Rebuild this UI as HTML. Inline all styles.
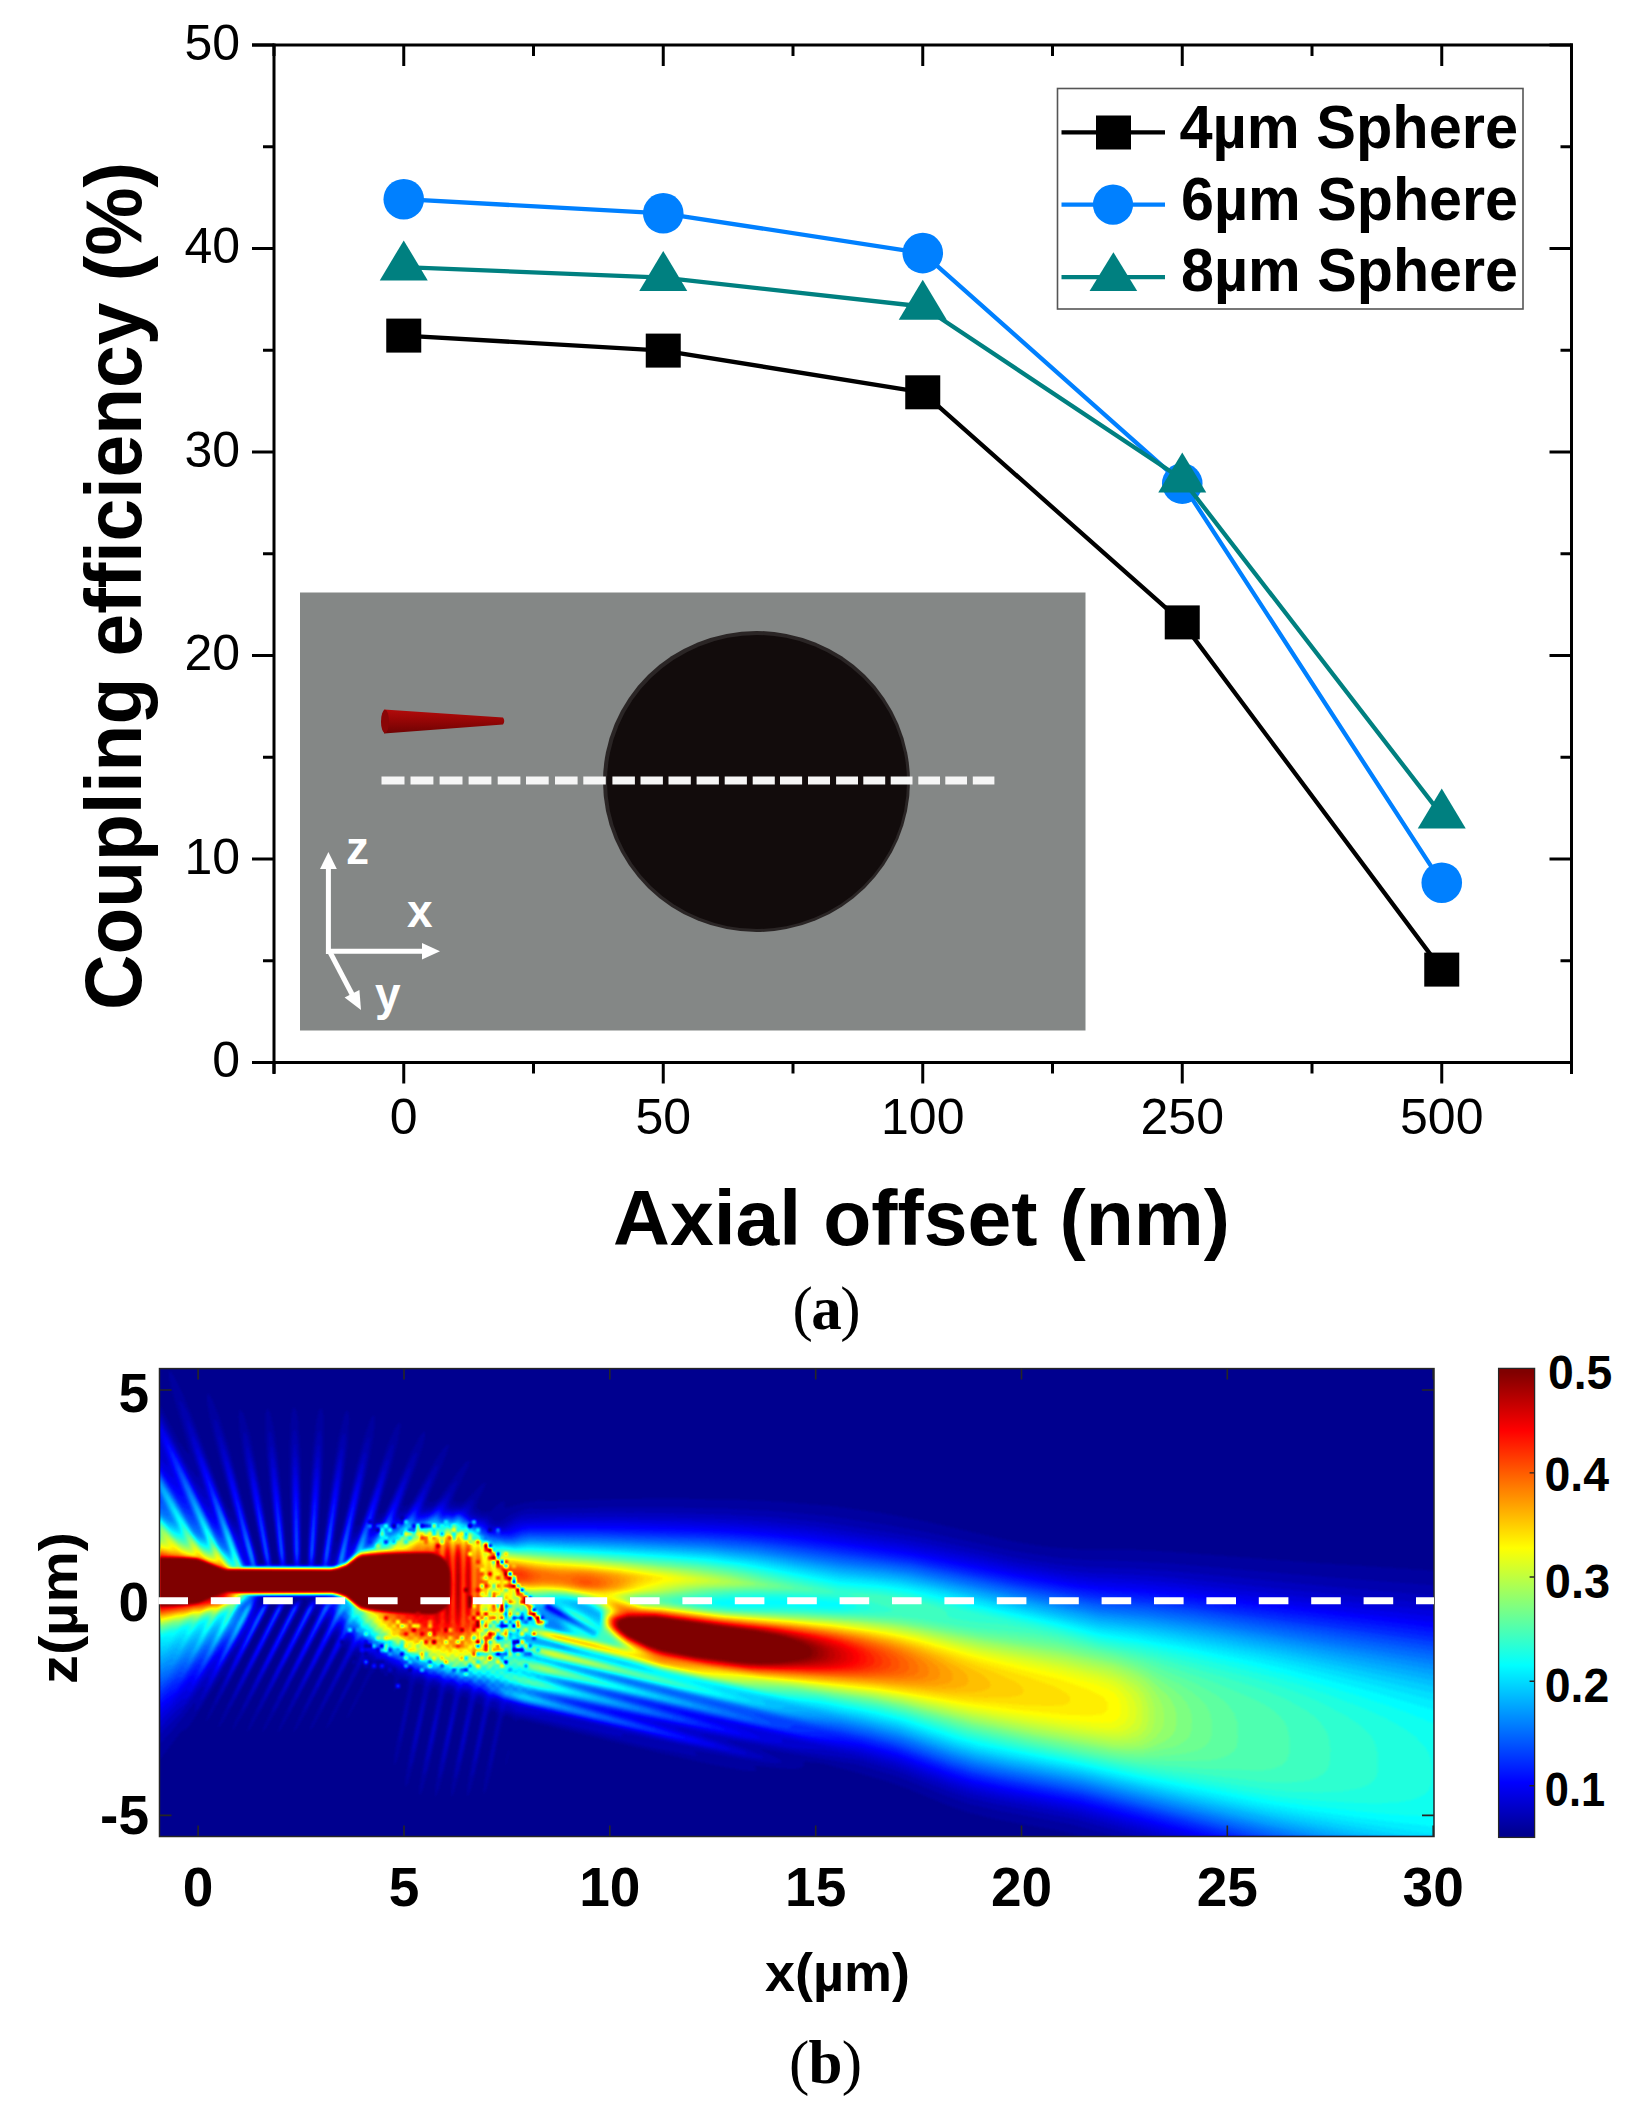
<!DOCTYPE html><html><head><meta charset="utf-8"><title>Coupling efficiency figure</title><style>html,body{margin:0;padding:0;background:#fff;overflow:hidden}svg{display:block}</style></head><body><svg width="1635" height="2113" viewBox="0 0 1635 2113"><rect width="1635" height="2113" fill="#fff"/><g id="inset">
<rect x="300" y="592.5" width="785.5" height="438" fill="#848786"/>
<ellipse cx="756.5" cy="781.5" rx="153.5" ry="150.5" fill="#2a2525"/>
<ellipse cx="757" cy="782" rx="150" ry="147" fill="#120c0c"/>
<defs><linearGradient id="cone" x1="0" y1="0" x2="0" y2="1"><stop offset="0" stop-color="#b30b0b"/><stop offset="0.45" stop-color="#960606"/><stop offset="1" stop-color="#6e0303"/></linearGradient></defs>
<path d="M384,709.5 L503,717.5 Q505.5,721 503,724.5 L384,733.5 Z" fill="url(#cone)"/>
<ellipse cx="385" cy="721.5" rx="4" ry="11.8" fill="#8a0606"/>
<path d="M381.5,776.5h23.0v8h-23.0zM410.5,776.5h22.9v8h-22.9zM439.6,776.5h22.9v8h-22.9zM468.6,776.5h22.8v8h-22.8zM497.7,776.5h22.7v8h-22.7zM526.0,776.5h22.7v8h-22.7zM555.0,776.5h22.6v8h-22.6zM583.3,776.5h22.5v8h-22.5zM612.4,776.5h22.5v8h-22.5zM640.5,776.5h22.4v8h-22.4zM668.5,776.5h22.3v8h-22.3zM696.6,776.5h22.3v8h-22.3zM724.7,776.5h22.2v8h-22.2zM752.7,776.5h22.1v8h-22.1zM780.0,776.5h22.1v8h-22.1zM808.0,776.5h22.0v8h-22.0zM836.1,776.5h21.9v8h-21.9zM863.3,776.5h21.9v8h-21.9zM890.7,776.5h21.8v8h-21.8zM918.3,776.5h21.7v8h-21.7zM945.3,776.5h21.7v8h-21.7zM972.8,776.5h21.6v8h-21.6z" fill="#f6f6f6"/>
<g stroke="#fff" stroke-width="5" fill="none" stroke-linecap="butt"><path d="M328.4,954 V866"/><path d="M326,951.3 H424"/><path d="M329.4,951 L353.5,997"/></g>
<g fill="#fff"><path d="M328.4,852 L320,869 L336.8,869 Z"/><path d="M440,951.3 L422,943 L422,959.6 Z"/><path d="M361,1010 L344.6,997.5 L359.4,990 Z"/></g>
<g font-family="Liberation Sans, Arial, sans-serif" font-weight="bold" font-size="46" fill="#fff"><text x="346" y="864.2">z</text><text x="407" y="927">x</text><text x="375" y="1009.6">y</text></g>
</g>
<g stroke="#000" stroke-width="3" fill="none" stroke-linecap="butt">
<path d="M274,43.5 V1074"/>
<path d="M1571.5,43.5 V1074"/>
<path d="M252,45 H1573.0"/>
<path d="M252,1062.5 H1573.0"/>
<path d="M252,1062.50 H274"/>
<path d="M1549.5,1062.50 H1571.5"/>
<path d="M263,960.75 H274"/>
<path d="M1560.5,960.75 H1571.5"/>
<path d="M252,859.00 H274"/>
<path d="M1549.5,859.00 H1571.5"/>
<path d="M263,757.25 H274"/>
<path d="M1560.5,757.25 H1571.5"/>
<path d="M252,655.50 H274"/>
<path d="M1549.5,655.50 H1571.5"/>
<path d="M263,553.75 H274"/>
<path d="M1560.5,553.75 H1571.5"/>
<path d="M252,452.00 H274"/>
<path d="M1549.5,452.00 H1571.5"/>
<path d="M263,350.25 H274"/>
<path d="M1560.5,350.25 H1571.5"/>
<path d="M252,248.50 H274"/>
<path d="M1549.5,248.50 H1571.5"/>
<path d="M263,146.75 H274"/>
<path d="M1560.5,146.75 H1571.5"/>
<path d="M252,45.00 H274"/>
<path d="M1549.5,45.00 H1571.5"/>
<path d="M274.00,1062.5 V1073.5"/>
<path d="M274.00,45 V56"/>
<path d="M403.75,1062.5 V1083.5"/>
<path d="M403.75,45 V66"/>
<path d="M533.50,1062.5 V1073.5"/>
<path d="M533.50,45 V56"/>
<path d="M663.25,1062.5 V1083.5"/>
<path d="M663.25,45 V66"/>
<path d="M793.00,1062.5 V1073.5"/>
<path d="M793.00,45 V56"/>
<path d="M922.75,1062.5 V1083.5"/>
<path d="M922.75,45 V66"/>
<path d="M1052.50,1062.5 V1073.5"/>
<path d="M1052.50,45 V56"/>
<path d="M1182.25,1062.5 V1083.5"/>
<path d="M1182.25,45 V66"/>
<path d="M1312.00,1062.5 V1073.5"/>
<path d="M1312.00,45 V56"/>
<path d="M1441.75,1062.5 V1083.5"/>
<path d="M1441.75,45 V66"/>
<path d="M1571.50,1062.5 V1073.5"/>
<path d="M1571.50,45 V56"/>
</g>
<g font-family="Liberation Sans, Arial, sans-serif" font-size="50" fill="#000">
<text x="240" y="1077.0" text-anchor="end">0</text>
<text x="240" y="873.5" text-anchor="end">10</text>
<text x="240" y="670.0" text-anchor="end">20</text>
<text x="240" y="466.5" text-anchor="end">30</text>
<text x="240" y="263.0" text-anchor="end">40</text>
<text x="240" y="59.5" text-anchor="end">50</text>
<text x="403.75" y="1133.5" text-anchor="middle">0</text>
<text x="663.25" y="1133.5" text-anchor="middle">50</text>
<text x="922.75" y="1133.5" text-anchor="middle">100</text>
<text x="1182.25" y="1133.5" text-anchor="middle">250</text>
<text x="1441.75" y="1133.5" text-anchor="middle">500</text>
</g>
<text x="0" y="0" transform="translate(140.5,1010) rotate(-90)" font-family="Liberation Sans, Arial, sans-serif" font-weight="bold" font-size="80" textLength="848" lengthAdjust="spacingAndGlyphs">Coupling efficiency (%)</text>
<text x="613" y="1244.5" font-family="Liberation Sans, Arial, sans-serif" font-weight="bold" font-size="77" textLength="617" lengthAdjust="spacingAndGlyphs">Axial offset (nm)</text>
<polyline points="403.75,335.6 663.25,350.6 922.75,392.3 1182.25,622.4 1441.75,969.6" fill="none" stroke="#000" stroke-width="4.3" stroke-linejoin="round"/>
<rect x="386.25" y="318.6" width="35" height="34" fill="#000"/>
<rect x="645.75" y="333.6" width="35" height="34" fill="#000"/>
<rect x="905.25" y="375.3" width="35" height="34" fill="#000"/>
<rect x="1164.75" y="605.4" width="35" height="34" fill="#000"/>
<rect x="1424.25" y="952.6" width="35" height="34" fill="#000"/>
<polyline points="403.75,199.2 663.25,213.3 922.75,253.1 1182.25,483.6 1441.75,882.7" fill="none" stroke="#0080ff" stroke-width="4.3" stroke-linejoin="round"/>
<circle cx="403.75" cy="199.2" r="20.3" fill="#0080ff"/>
<circle cx="663.25" cy="213.3" r="20.3" fill="#0080ff"/>
<circle cx="922.75" cy="253.1" r="20.3" fill="#0080ff"/>
<circle cx="1182.25" cy="483.6" r="20.3" fill="#0080ff"/>
<circle cx="1441.75" cy="882.7" r="20.3" fill="#0080ff"/>
<polyline points="403.75,267.1 663.25,277.6 922.75,306.5 1182.25,479.3 1441.75,815.1" fill="none" stroke="#008080" stroke-width="4.3" stroke-linejoin="round"/>
<path d="M403.75,240.4 L427.75,280.4 L379.75,280.4 Z" fill="#008080"/>
<path d="M663.25,250.9 L687.25,290.9 L639.25,290.9 Z" fill="#008080"/>
<path d="M922.75,279.8 L946.75,319.8 L898.75,319.8 Z" fill="#008080"/>
<path d="M1182.25,452.6 L1206.25,492.6 L1158.25,492.6 Z" fill="#008080"/>
<path d="M1441.75,788.4 L1465.75,828.4 L1417.75,828.4 Z" fill="#008080"/>
<rect x="1057.5" y="88.5" width="465.5" height="220.5" fill="#fff" stroke="#555" stroke-width="1.6"/>
<path d="M1061.5,132.3 H1165" stroke="#000" stroke-width="4.3"/>
<rect x="1096" y="115.5" width="35" height="34" fill="#000"/>
<path d="M1061.5,204.6 H1165" stroke="#0080ff" stroke-width="4.3"/>
<circle cx="1113" cy="204.6" r="20.1" fill="#0080ff"/>
<path d="M1061.5,277.2 H1165" stroke="#008080" stroke-width="4.3"/>
<path d="M1113.4,252.2 L1137.2,291 L1089.6,291 Z" fill="#008080"/>
<g font-family="Liberation Sans, Arial, sans-serif" font-weight="bold" font-size="61.5" fill="#000">
<text x="1179.5" y="147.8" textLength="338.5" lengthAdjust="spacingAndGlyphs">4µm Sphere</text>
<text x="1181" y="219.9" textLength="337" lengthAdjust="spacingAndGlyphs">6µm Sphere</text>
<text x="1181" y="291" textLength="337" lengthAdjust="spacingAndGlyphs">8µm Sphere</text>
</g>
<text x="792.5" y="1328.5" font-family="Liberation Serif, Times New Roman, serif" font-size="61" letter-spacing="-1.5">(<tspan font-weight="bold">a</tspan>)</text><defs>
<clipPath id="hclip"><rect x="159.5" y="1368.6" width="1274.5" height="467.9000000000001"/></clipPath>
<filter id="jet" filterUnits="userSpaceOnUse" x="153.5" y="1362.6" width="1286.5" height="479.9000000000001" color-interpolation-filters="sRGB"><feGaussianBlur stdDeviation="0.9"/><feComponentTransfer><feFuncR type="table" tableValues="0 0 0 0 0 0 0 0 0 0 0 0 0 0 0 0 0 0 0 0 0 0 0 0 0.0625 0.125 0.1875 0.25 0.3125 0.375 0.4375 0.5 0.5625 0.625 0.6875 0.75 0.8125 0.875 0.9375 1 1 1 1 1 1 1 1 1 1 1 1 1 1 1 1 1 0.9375 0.875 0.8125 0.75 0.6875 0.625 0.5625 0.5"/><feFuncG type="table" tableValues="0 0 0 0 0 0 0 0 0.0625 0.125 0.1875 0.25 0.3125 0.375 0.4375 0.5 0.5625 0.625 0.6875 0.75 0.8125 0.875 0.9375 1 1 1 1 1 1 1 1 1 1 1 1 1 1 1 1 1 0.9375 0.875 0.8125 0.75 0.6875 0.625 0.5625 0.5 0.4375 0.375 0.3125 0.25 0.1875 0.125 0.0625 0 0 0 0 0 0 0 0 0"/><feFuncB type="table" tableValues="0.5625 0.625 0.6875 0.75 0.8125 0.875 0.9375 1 1 1 1 1 1 1 1 1 1 1 1 1 1 1 1 1 0.9375 0.875 0.8125 0.75 0.6875 0.625 0.5625 0.5 0.4375 0.375 0.3125 0.25 0.1875 0.125 0.0625 0 0 0 0 0 0 0 0 0 0 0 0 0 0 0 0 0 0 0 0 0 0 0 0 0"/><feFuncA type="linear" slope="0" intercept="1"/></feComponentTransfer></filter>
<linearGradient id="cbar" x1="0" y1="1" x2="0" y2="0"><stop offset="0.0078" stop-color="#00008f"/><stop offset="0.0234" stop-color="#00009f"/><stop offset="0.0391" stop-color="#0000af"/><stop offset="0.0547" stop-color="#0000bf"/><stop offset="0.0703" stop-color="#0000cf"/><stop offset="0.0859" stop-color="#0000df"/><stop offset="0.1016" stop-color="#0000ef"/><stop offset="0.1172" stop-color="#0000ff"/><stop offset="0.1328" stop-color="#0010ff"/><stop offset="0.1484" stop-color="#0020ff"/><stop offset="0.1641" stop-color="#0030ff"/><stop offset="0.1797" stop-color="#0040ff"/><stop offset="0.1953" stop-color="#0050ff"/><stop offset="0.2109" stop-color="#0060ff"/><stop offset="0.2266" stop-color="#0070ff"/><stop offset="0.2422" stop-color="#0080ff"/><stop offset="0.2578" stop-color="#008fff"/><stop offset="0.2734" stop-color="#009fff"/><stop offset="0.2891" stop-color="#00afff"/><stop offset="0.3047" stop-color="#00bfff"/><stop offset="0.3203" stop-color="#00cfff"/><stop offset="0.3359" stop-color="#00dfff"/><stop offset="0.3516" stop-color="#00efff"/><stop offset="0.3672" stop-color="#00ffff"/><stop offset="0.3828" stop-color="#10ffef"/><stop offset="0.3984" stop-color="#20ffdf"/><stop offset="0.4141" stop-color="#30ffcf"/><stop offset="0.4297" stop-color="#40ffbf"/><stop offset="0.4453" stop-color="#50ffaf"/><stop offset="0.4609" stop-color="#60ff9f"/><stop offset="0.4766" stop-color="#70ff8f"/><stop offset="0.4922" stop-color="#80ff80"/><stop offset="0.5078" stop-color="#8fff70"/><stop offset="0.5234" stop-color="#9fff60"/><stop offset="0.5391" stop-color="#afff50"/><stop offset="0.5547" stop-color="#bfff40"/><stop offset="0.5703" stop-color="#cfff30"/><stop offset="0.5859" stop-color="#dfff20"/><stop offset="0.6016" stop-color="#efff10"/><stop offset="0.6172" stop-color="#ffff00"/><stop offset="0.6328" stop-color="#ffef00"/><stop offset="0.6484" stop-color="#ffdf00"/><stop offset="0.6641" stop-color="#ffcf00"/><stop offset="0.6797" stop-color="#ffbf00"/><stop offset="0.6953" stop-color="#ffaf00"/><stop offset="0.7109" stop-color="#ff9f00"/><stop offset="0.7266" stop-color="#ff8f00"/><stop offset="0.7422" stop-color="#ff8000"/><stop offset="0.7578" stop-color="#ff7000"/><stop offset="0.7734" stop-color="#ff6000"/><stop offset="0.7891" stop-color="#ff5000"/><stop offset="0.8047" stop-color="#ff4000"/><stop offset="0.8203" stop-color="#ff3000"/><stop offset="0.8359" stop-color="#ff2000"/><stop offset="0.8516" stop-color="#ff1000"/><stop offset="0.8672" stop-color="#ff0000"/><stop offset="0.8828" stop-color="#ef0000"/><stop offset="0.8984" stop-color="#df0000"/><stop offset="0.9141" stop-color="#cf0000"/><stop offset="0.9297" stop-color="#bf0000"/><stop offset="0.9453" stop-color="#af0000"/><stop offset="0.9609" stop-color="#9f0000"/><stop offset="0.9766" stop-color="#8f0000"/><stop offset="0.9922" stop-color="#800000"/></linearGradient>
</defs>
<g clip-path="url(#hclip)"><g filter="url(#jet)">
<rect x="153.5" y="1362.6" width="1286.5" height="479.9000000000001" fill="#000"/>
<path fill="rgb(4,4,4)" d="M1434.5 1836.8l-350.8-0.2-26.7-6-61.5-11.4-25-5.9-21-7.1-42.9-17.6-16.3-6-35.8-10.7-32.1-8.3-16.9-1.9-2.1 0.9 0 3-1.4 2-5.5 1.4-10-0.1-29-2.9-3.2 0.6 2.3 3 0.1 1-1.2 0.5-5 0.2-11-1.4-27-5.1-44-9.7-147-35.4-7 0.8-3-3.3-5-1.8-2 0.9-1.5 3.3-12.3 55-5.2 17-1 1.9-1-0.1 0.4-8.8 2.4-16 10.4-52-0.5-4-3.7-2.5-2 0.9-1.9 4.6-12.8 57-5.3 18.2-3 6.3-0.7-2.5 0.1-4 2.2-17 12.5-63-0.1-4-0.7-2-3.3-1.9-1 0.5-2.2 5.4-8.4 39-7.1 29-4.3 14.4-3 6.3-0.7-1.7 0-4 2.3-18 14.1-71-0.4-4-3.3-2.3-2 0.8-2 5.5-14.6 66-5.4 19.4-4 9.2-0.7-2.6 0.3-6 3-21 14.2-70-0.8-3.7-3-1.9-2 0.7-2 4.7-8.5 41.2-7.1 30-6.4 21.8-2 4.3-1 0.3 0-8.4 3.6-24 14.1-68-0.1-4-1.6-2.5-3-0.5-3 4.7-14.6 67.3-6.4 22.3-2 4.5-1 0.5 0-9.3 3.4-23 13.2-63 0.2-6-1.5-2-3.3-0.7-1 0.6-2.3 4.1-12.2 56-4.5 16.1-3 6.6-0.5-6.7 2.2-16 11.4-56 0.3-6-1.4-2.4-4-1.5-2.9 1.9-2.7 5-2.4 7.5-0.8-0.5 0.9-12-1.1-4.2-4-2.3-5 1.5-1-0.3-2-3.8-3-2-2 0.2-5.5 6.9-15.5 29.4-8 13.4-0.6-0.8 2.6-6.9 19.3-41.1 0.6-5-0.9-1-3-1-2 1.7-4 6.3-27 49.6-5 7.7-1 1.2-0.4-0.5 1.4-5 5-11.8 23-48.3 1.4-5.9-1.9-2-1.5 0.2-4 5.7-28.8 53.1-8.2 13.5-3.3 3.5 1.3-5.2 6.7-15.8 26.3-55 1.7-6-1.7-2.3-2 1.5-3 4.6-31.4 58.2-9.6 16-4 5 1-5.1 7.6-17.9 30.4-63.5 1.7-5.5-0.7-2-1-0.3-1 0.7-2 2.6-38.5 71-10.5 17.2-2 2.5-0.6-0.7 2.6-8 8.3-19 33.7-69.8 1.4-5.2-1.4-2.1-5 7-40.8 76.1-10.2 17.1-4.1 4.9 0.1-2 2-5.8 8.4-19.2 39.6-81.7 2.1-6.3-0.1-1.6-1-0.9-2 1.9-5 8.6-44.7 84-11.3 18.8-3 3.7-0.5-0.5 3.3-10 10.8-24 45.4-93.1 0.4-2.9-0.6-3-0.8-0.1-2.1 0.1-0.5 4-2.9 6-33 63-21.9 40-11.6 18.4-1.3 0.6 3.1-10 20.8-45 33.9-68 3.9-6 3.3-3-11.4 0 1.1 2-0.9 4-12 24-36 68-12.5 21.6-6 8.8-1 0.7 0-2.1 5.4-14 25-53 25.1-50 4.6-7 4.1-3-12.6 0 1.2 2-0.4 3-6.9 15-38.9 73-16.6 27.7-2 2-0.3-1.7 1.2-4 15.1-35.7 1.1-3.3-0.1-1.7-9 12-24 37.5-4 4.5-4 2.1-3 2.9-20 26.6-0.5-201.9 0.5-154.9 19 36.8 9 12.5 1 0.7 0.3-1.1-2.3-10.6-15.2-53.4-2.3-11-0.2-6 0.7-0.8 1 0.4 3 3.9 9 17.8 12.5 30.7 26.5 71.2 5 10.8 5 6.5 0-4.9-2-9.8-11.5-42.8-7.9-34-3.1-19-0.2-5 0.7-3.3 2 1.1 3 5.3 7.4 18.9 9 29 10 37 11.6 46.4 7.6 24.6 1.4 8 3.3 0 0.2-1-12.9-66-7-40-3.9-30-0.5-10 0.5-6 1.3-1.5 3 4.5 6.4 21 11.2 55 11.6 73 0.8 1.1 4 0 0.5-1.1-9-77-3.6-47-0.1-22 0.9-6 1.3-2.1 1 0.6 2 4.5 4.3 20 4.2 32 5 53 3.2 44 0.3 1.2 4 0 1-0.2-2.6-61-0.5-56 1.7-30 1.4-7.1 1-2.2 1-0.3 2 4.2 1.8 10.4 2.4 33 1.1 50-0.3 59.1 5.1-0.1 2.4-60 3.1-48 4.1-34 2.3-10.2 2-3.8 1 0.3 1 2.3 1 6.6 0.4 29.8-1.9 39-5.5 78.1 3-0.1 1-4.2 10.5-76.8 7.2-43 5.3-22.1 2-5.1 2-2.1 1.2 2.3 0.6 6-1.1 23-4.2 35-8.5 57.1-0.5 6.9 0.5 2.8 3-3.5 3-9.3 13.4-59 8.4-32 6.2-18.2 2-4.1 2-2.1 1.2 1.4 0.3 5-1.9 18-5.2 28-11.4 51.2-0.6 5.8 0.6 1.5 3-1.8 3-5.4 24.7-73.3 7.3-16.9 3-5 2-1.5 0.8 1.4 0.1 4-2.4 14-6.1 24-12.4 41.7-1 5.3 1 1.8 4-1.9 3-4.4 25.5-57.5 7.5-13.7 3-4.1 2-1.1 0.7 1.9-0.2 3-2.3 10-5.8 18-12.4 33.3-1.7 6.7 0.7 2 5-1.5 4-4.6 24-42.4 7-10.3 4-3.7 1 0.4 0.1 2.1-2.1 8-17 40.5-1.1 3.5 0 3 1.1 0.5 4-0.3 5-3.6 22-29.9 5-5.8 3-2.2 1 0.3 0.1 1-1.3 5-12.8 27.1-1.5 3.9-0.2 3 0.7 1 5 1.4 4-1.3 6.2-5.1 11.8-12.2 4-2.3-0.2 3.5-7 14-1.8 6 1 3.1 7 3.4 6-1.1 9-8 4-2 1 0.5 0.3 1.1 0.2 5 1.5 0.4 16-4.9 16-2.5 12 0.4 62-1.9 61-0.5 59 0.8 48 2 52 4.5 50 7.2 42 8 84.8 19.5 22.7 4 21.5 2.8 27 1.9 50 0.3 36 1.6 145.9 11.4 122.1 7.8zM505.5 1767.2l0-4.6 4-16.9-1 9.7z"/>
<path fill="rgb(8,8,8)" d="M1434.5 1836.8l-319-0.2-43.9-12-72.1-13.6-29-6.6-22-7.3-51.6-20.5-40.4-12-93-15.3-3 0.3 17.8 9 2.9 2 0.7 1-0.2 1-6.2 0.9-13-1.2-64-10.7-4.8 0 3.8 4-6 0-41.2-8-128.8-30.4-5-0.3-10-4.2-3 1.6-2.3 4.3-7.7 38-3 10.7-1 2.7-1 0.8 2-16.8 8.1-37.4-0.3-4-1.8-4-4-1.9-2 1-2.4 4.9-9.6 43.9-4 14.7-3 7.4-0.6-4 1.6-12.7 10.4-52.3-0.2-9-2.8-3-1.4-0.3-3 3.5-1 2.5-11.9 53.3-4.1 15-3 7.5-0.7-1.5 0-3 2.3-17 11.5-56-0.1-5.8-1.1-2.2-1.9-1-2 0.3-2 1.6-2.2 4.1-11.7 54-5.1 19-3 7.5-0.7-1.5 0.1-4 2.4-17 12.4-59-0.5-7-0.7-1.4-1-0.3-5 1-1.4 1.7-1.5 4-11.8 56-5.3 19.6-3 6.5 0-8.1 2.8-18 12.5-58-0.3-7-1-1.4-6-0.5-1.1 0.9-2 5-10.7 52-5.2 19.8-3 6.8 0-8.5 2.9-18.1 11.6-53-0.1-6-1.4-2.5-4-1.6-2 0-1.3 1.1-2.9 5-6.8 36.1-3 12.5-3 9.1-0.6-1.7 0.3-4 2.3-14.3 8.7-36.7-0.6-8-2.1-2.5-4-1.8-5 0.7-6-5.2-5-0.8-7-4.6-2-0.1-5 2.6-1-1.3-0.1-3-0.9-1.9-3-2.3-2 0.1-3 3.2-3.2 4.9-14.8 27.3-6 9.7-0.3-1 1.3-4 17.9-39 1-5-0.6-2-1.3-1.2-2 0-4 4.8-24 43.7-6 9.7-2 2.1 1-4.3 4-9.6 22-47 1-6-1.2-1.2-1.8-0.2-5 6.6-25 46.1-11 17.3 0-2.6 4.9-12.2 27.1-57.6 1.1-5.4-2.1-1.7-2 1.4-3 4.7-29.6 54.6-8.4 14.2-4 5.1 1-4.7 6.6-15.6 30.4-63.9 0.9-4.1-0.9-3.5-3 2.5-3 4.9-31.7 59.1-10.3 17.8-5.1 7.2 0.1-3.1 7.6-17.9 35.4-73.7 2.3-6.3-0.3-2-1-1-1-0.1-1 1-3 4.8-38.6 72.3-11.4 19.6-5 6.6 0-1.5 3-8.2 11.6-25.5 34.8-71 6.3-10-0.7-0.1-40 0.1-9 0.6-0.7 2.4 0.7 0.4 5-1.7 1.8 0.3 0.8 1 0 3-1.9 5-34.2 65-17.5 29.8-2.2 2.2 1.2-5.6 17-40.1 1.2-3.3-0.2-1.5-9 11.4-18.7 31.1-8.3 12.3-2 2-1 0.1 1-8.4-1-0.9-22 27.7-13 14.7-0.5-186.5 0.5-149.3 25 50.1 6 9.4 6 7.4 2 1.4 0-4-9.4-31-7.6-28.3-2-9.7 0-4.4 1-0.1 2 2.4 6 11.4 7.2 16.7 29.8 78 4 7.6 6 6.7 0-3.5-2-9.2-12.5-49.6-5.5-25.6-1.7-12.4 0.7-4.4 2 1.8 6 13.9 8.3 25.7 25.2 93 2.4 11 1.1 0.6 4 0 0.6-0.6-10.1-51-7-40-3.5-27.4 0-13 1-1 1 1 2 4.3 7.5 28.1 9 47 8.2 52 1.3 0.7 4 0.1 1.4-0.8-6.8-57-4-49-0.2-19 0.6-6.1 1-2.1 2 2.6 3.8 16.6 3.7 27 4.9 50 2.6 37 1 0.8 5 0 0.7-0.8-2.2-51-0.4-47 1.3-26 1.2-8 1.4-2.7 1 0.9 1 3.1 1 5.4 2.3 27.3 1.2 48-0.3 50 0.8 0.9 5 0 0.7-0.9 1.8-46 3.2-47 3.3-28 2-9.5 2-3.6 1.2 2.1 1 7 0.1 27-1.8 37-4.5 61.8 5 0.1 0.4-0.9 8.2-61 5.9-37 5.5-25.4 2-5.8 2-2.3 1 2.7 0.3 4.8-1 18-3.8 33-7.5 51.9-0.8 10.1 0.8 1.9 3-4.3 3-8.6 18.6-77 6.4-20.4 4-7.5 1 0.7 0.3 3.2-1.3 14-4.5 25-9.5 44.4-1 7.6 1 1.8 4-3.3 3-5.7 21-60.8 6-14.2 4-6.1 1 0.8 0.1 2.5-1.9 12-14.2 52-1.2 6 0.2 3.4 5-1.9 4-5.5 22-47.7 6-10.3 2-2.2 1 0 0 4.1-1.9 8.1-13.1 38.3-1.3 5.7 0.3 2.6 2 0.1 4-1.4 4-4.1 20-33 4-5.7 3-2.9 0.9 0.4 0.1 1-1 4.5-11 28.5-1.3 5 0.3 2.3 1 0.4 5-0.3 3-1.5 6.1-5.9 12.9-15.9 3-2.6 1 0.2-0.8 4.3-5.7 15-0.3 3 0.8 2.1 2 0.8 7 0.6 11-6.7 2-0.2 0.4 1.4-0.7 8 1.3 2.9 7 3.4 8 1.1 2 1.5 2.2 3.1 2.8 1.2 5-1 8-5.6 6-2.8 8-2.7 6-1.1 13 0.3 71-1.7 52 0 60 1.2 50 2.5 54 5.2 59 8.9 38 7 85.3 18.6 44.9 7 26.8 2.2 49 1.1 38 2.3 150.2 13.4 113.8 8.7zM227.5 1710.7l-0.4-1.1 1.4-4.7 8.8-20.3 36.8-75 5.4-7.9 3-2 2.1-0.1 1.2 2-0.6 3-6.2 13-34.9 66-10.6 18.4zM241.5 1713.1l0-2.1 2-5.4 9.7-22 36.9-75 5.4-7.6 3-1.8 2-0.1 1 1 0.2 1.5-2.5 7-40.2 76-11.5 20.1z"/>
<path fill="rgb(12,12,12)" d="M1434.5 1836.8l-297.5-0.2-60.7-17-77.8-14.8-28-6.3-22-7.3-52.8-20.6-38.2-11-55-7.1-65.1-10.9-9.5-1-0.1 1 2 1 25.7 10 6.2 3 2.2 2-1.2 1-4.2 0.2-17-2-112.3-22.2-6.7-0.5-0.6 0.5 2.3 2-1.7 0.2-14.5-2.2-85.5-19.4-6-0.7-6-3.3-3-0.9-2 0.3-4 2.5-1-0.3-1-2-1.9-6.2-4.1-3.2-1 0.1-1 1.1-4.4 9-7.6 36.2-3 10.9-2 4.3 0-4.7 2-12.9 7.7-35.8-0.1-10-2.6-3.2-3-0.9-2 1.1-3.3 7-8.7 41.2-4 14.9-2 4.9-0.2-6 2.2-14 9.7-46-0.1-2-1.6-4.2-1-0.9-4-0.8-1 0-2.9 3.9-1.6 4-8.5 42-4 15.8-3 8.2-0.2-6 2.2-14.1 10.7-49.9-0.5-4-1.2-2.6-5-2-1 0.2-3.3 3.4-2.2 6-7.5 40.6-5 19.9-3 7.2 0-5.3 4-23.4 9.7-40-0.3-9-1.4-2.1-5-2-3.5 2.1-2.5 3.5-1 0.3-1.4-6.8-3.6-3-2-0.6-7 2-2-3.4-3-3.1-9-1.5-4.3-3.4-4.7-1-8-4.4-2-0.4-4 0.6-3-4.8-3-1.8-4.2 1.8-7.8 10.5-0.2-1.5 3.7-13-0.5-3-3-2-2 0.9-4 5.2-23 40.5-1-0.6 2-5.1 18.3-39.9 1.6-7-0.9-1.3-2-1.1-2 1.3-3 4-24 43.5-6 9.6-1 1.2-0.5-0.2 4.5-12.3 22-47 2-6.7-2-3.3-2 1-3 4.2-28 51.2-7 11.5-2.4 2.4 1.3-5 5.1-11.9 26-54.8 1.9-7.3-0.9-2-1-0.5-2 1.4-3 4.5-31 57.3-8 13.6-4 5.3 1-4.6 6-14 33-69.4 1.6-5.6-1.6-4.6-1 0.6-9 16.1-34 63.5-8 13.5-3 4.1-0.4-0.2 2.4-7.8 7.7-17.2 32.7-67 4.6-7.2 4-3.1 2.3-0.7-4.3-0.4-51.4 0.4-1.8 4 0.2 3 1-0.1 5-3.8 3-0.4 1.1 2.3-1.4 5-29.4 56-17.3 29.5-1 1.3-0.8-0.8 19.8-48.4-2 1.3-8 9.8-20 33.2-7 10.2-2 1.4 0-2.5 3-9.8 0-2.2-2 1.2-6 6.8-16 20.4-10 9.6-10 11.3-0.5-177.3 0.5-145.4 31 60.8 5 7.9 7 7.8 0.9-1.1-1.9-9.9-9.4-31.1-4.7-20-0.9-7.7 1-0.2 1 1.2 5 9.2 6 13.8 28 71.3 4 7.5 5 5.9 1 0.2 0-4.2-1-4.9-16.1-68.1-1.9-14 0.2-2 0.8-0.6 1 1.2 6 14.2 7.4 23.2 24.6 91.1 6.2-0.1-14.7-79-3.5-26.3 0-12.8 1-0.2 1 1.5 2 5.2 6.5 25.6 8 42 6.7 43 0.8 1.2 6 0 1.1-0.2-5.6-45-4-48-0.5-17 1-8.9 1-0.4 1 1.7 3.4 14.6 3.9 29 4.2 43 2.1 31 7.4 0.2-1.7-43.2-0.3-46 1.2-24 1.1-6 0.7-1.7 1 0.4 2.5 13.3 1.7 28 0.9 52-0.5 27 6.4 0.3 1.3-0.3 1.4-39 3.7-52 2.6-19.9 2-8.1 1-1.3 1 1.3 0.9 7 0.2 21-2.6 49-3.5 42 1 0.3 5.9-0.3 6.6-50 6-38 4.5-21 2-6.4 1-2 1-0.4 0.9 6.8-1 17-10.9 83.1-0.7 8.9 0.7 1.7 3-4.8 3-8.2 19-76.4 5-16.2 2-4.9 2-2.7 0.9 4.5-1.3 12-11.6 58.1-1.3 8.9 0.3 4 5-4.1 3-5.7 20-56.2 5-11.4 3-3.8 0.3 5.2-2.1 11-11.2 42-1.1 7 1.1 1.5 5-2.6 4-5.4 19-39.7 4-7.1 3-3.3 0.4 2.6-1.4 6.8-10.8 34.2-0.3 4 1.1 1.1 5-1.3 4-3.4 5-6.7 13-20.7 3-3.9 2-1-1 5.9-6.9 20-0.1 5 2 0.6 7-1.4 17-15.8 1 0.6 0 1-1.8 11 1.8 2.8 10 0.6 7-3.1 2 0 0.9 1.7 0.7 5 1.4 2.1 7 3.2 8 1.6 4.5 5.1 4.5 1.4 6-0.6 14-7.9 6-2 5-0.7 78-1.2 57 0.2 60 1.5 50 2.7 56 5.9 72 11 29 5.4 80.8 17.3 28.2 5 21.6 3 26.4 2.4 46 1.5 40 2.6 158.7 15.5 103.3 8.8zM233.5 1698.9l-0.4-1.3 1.3-4 7.8-18 31.9-65 5.4-8.1 3-2 1.6 0.1 0.9 2-0.7 3-6.3 13-29.1 55-10.4 18.1zM248.5 1700.1l-0.9-0.5 0.9-2.9 7.8-18.1 33.8-69 5.4-7.7 2-1.5 2-0.3 1 0.7 0.2 1.8-2.5 7-33.3 63-10.4 18.4zM413.5 1752.7l-1 0.9 1-10.8 2-11.1 5-22.3 4-12.7 0 7-3 17.2-4 18.1z"/>
<path fill="rgb(16,16,16)" d="M1434.5 1836.8l-279.4-0.2-79.6-22-77-14.5-27-6-21-6.8-56.7-21.7-40.8-11-29.5-4.8-21-0.7-15.7-1.5-78-13-8.3-0.7-0.3 0.7 4.6 2 35.8 13 4.2 2 2.5 2-2.8 0.9-10-0.9-51-9.5-120.7-26.5-20.3-3.2-5 0.8-16-3-5-0.3-2-1.3-2-2.6-5-2.6-1 0.2-3 3.5-2 0.4-1.2-1.9-1-5-4.8-2.9-2 0-1.6 0.9-4.4 7.2-0.8-2.2-0.2-6-2.9-5-6.1-0.3-4 5.9-0.7-0.6-2.3-9.8-4 0.2-3-1.2-1.5 0.8-2.5 3.4-1 0.2-3-6.1-5.1-2.5-1.9-0.2-3 2.7-2 0.8-2.2-4.3-5.8-3.7-2 0.3-3 2-2 0-1.4-2.6-4.6-3.9-8 0.1-5-4.4-6-2.1-4-0.2-3-2.5-12-5.7-6-1.2-6-5.5-3-0.3-6 3.9-0.8-9.2-3.2-1.7-3 1.2-3.5 4.5-15.5 26.9-0.8-0.9 0.8-2.1 10.4-22.9 3.2-9 0.1-4-2.7-2.2-2 0.5-4 5.5-18 32.6-7 11.3-0.7-0.7 1.7-4.9 21-46.2 1-4.9-2-3.3-2 0.6-4 5.6-23 42-9 14.3 0-2.3 4-9.8 24-51.1 2.3-9-0.3-1.5-1-0.5-3 1.6-4 6-26 48-11 18.1-0.8-0.7 0.6-2 4.2-10 27-56.5 5.8-13.5 1.4-8-1.6-2-2.6-0.7-56 0.1-2.7 0.6-2.3 4 0 7.3 6-6.1 3-1.8 2 0.4 0.4 1.2-1.1 5-27.9 53-14.4 24.3-1 1.1 0-2.4 3-8 14-32 1.2-4-0.2-1.4-11 13.4-19 31.4-6 8.7-1 0.9-0.7-1 3.6-14-0.9-0.8-9 9.8-14 18.5-9 6.5-16 17.3-0.5-170.3 0.5-108.7 1-0.2 0-1.1-1-4.7 0-27.1 36 69.4 5 7.5 6 6.1 0.6-2.2-1.6-8.1-12.1-42.9-1.3-7 0.4-4.5 2 2.2 11 24 23 57.9 4 8 6 7.9 1-0.4 0-1.1-1.1-8-15-65-1.2-10 0.3-2.2 1 0.4 4 8.6 7 21.2 19.6 71 3.4 15 1 0.3 6.8-0.3-6.2-30-7-40-3.3-25 0-11 0.7-0.6 1 1.5 2 5.5 5.4 21.6 8 42 5.5 36 7.1 0.5 1.5-0.5-2-12-2.9-27-3.9-47 0.1-19 1.2-2.7 1 1.7 3 13.4 3.5 25.6 5 52 0.6 15 0.9 0.5 7 0 0.7-0.5-1.5-27-0.6-54 1.4-23.6 1-4 1-0.2 2 9.8 1.8 27 1 51-0.7 21 0.9 0.6 6 0 1.7-0.6 1-31 3.6-51 2.7-20 2-6.4 1 0.6 0.8 5.8 0.3 17-1.8 39-3.8 46 1.5 0.6 5 0 1.4-0.6 10.4-74 5.2-25.1 2-6 1-1.2 0.8 2.3 0.2 4-0.9 16-11.2 84 1.1 0.4 3.7-0.4 1.3-3.8 19-75.3 5-16.4 3-6.3 1 0.5 0.1 2.3-1 11-11.1 57.1-0.7 6.9 0.7 2.4 4-3.3 4-7 18-49.4 4-9.5 3-5 1 1.8-1 7-11 44-0.1 5 1.1 0.5 5-2.7 4-5.2 17-34 5-7.9 1 0.3-0.9 6-8.3 28-0.4 4 0.6 1.4 1 0.2 5-1.5 4-3.1 15-21.1 3-3.3 0.8 0.4-0.1 2-4.5 17-0.1 2 0.9 1.6 2 0.2 7-1.5 12-10.1 3-1.3 0.6 8.1 1.4 2 4 1.4 8-0.6 6-1.3 1.7 1.5 1.1 4 1.5 2 7.5 3 7.2 1.4 5 5.4 7 2 7-0.8 10-5.8 8-2.5 36-1.2 58-0.4 57 0.7 53 1.6 45 2.9 50 5.3 83 12.6 28 5.2 83.6 17.6 49.4 7.8 24 2.3 44 1.7 40 3 155.7 16.2 105.3 9.9zM268.5 1690.9l-0.3-1.3 1.3-3.8 6.6-15.2 30.8-63 4.6-6.3 4-2 2 0.2 0.3 1.1-2.5 6-24.6 46-14.2 25.8zM238.5 1689.2l-0.6-0.6 0.6-2.4 6.7-15.6 29.8-61 4.5-6.5 2-1.5 2-0.3 0.8 1.3-0.2 2-2.4 6-27.9 53-10.3 18.1zM253.5 1690.2l-0.7-0.6 0.7-2.5 6.7-15.5 29.8-61 5.5-8.1 2-1.3 2 0.1 0.2 3.3-1.9 5-29.1 55zM446.5 1746.9l-0.6-1.3 1.6-11.1 3-13.6 3-9.4 0 3.6-2 11.6zM430.5 1746.3l0-5.7 2-10.7 3-12.7 2-5.5-2 14.9zM462.5 1746.8l-0.6-1.2 0.6-5.6 6-25.9 0.7 0.5-0.7 6.4z"/>
<path fill="rgb(20,20,20)" d="M1434.5 1836.8l-263.6-0.2-92.4-25.3-80-15.2-27-6-22-7.1-53.5-20.4-36.5-10.2-70-12.8-7-0.6-0.8 0.6 1.9 3-2.1 0.7-13-0.6-27-4-56.8-10.1-10-1 6.1 3 40.7 14 7.1 3 2.9 2-3 0.8-8.5-0.8-45.5-8.6-122.3-27.4-28.6-6-5.1-0.3-9-3.8-3 0-4 1.1-1.4-3-5.1-3-5.5 0.4-3 2.8-0.5-3.2-3.5-5.3-7-0.6-4 1.8-2.3-5.9-3.7 0.1-3-1.2-2 0.4-3 2.6-1 0-1-1.2-0.9-3.7-3.1-0.4-3-1.8-2.7 0.2-3.3 2.4-1-0.4-1.5-3-4.6-3-3.9-0.6-3 1.6-1-0.2-6-5.4-5-1.4-3 0.4-2-0.4-3-3-6-2.9-4.3-0.1-2.7-2.2-4-1.4-8-4.8-7-1.5-5-4.5-4-0.9-4 1.9-1-1.6-0.9-6-3.1-1.6-2 0.4-3 2.5-9 13.3-0.1-1.6 3.6-9 2.3-9-0.3-3-2.5-2.1-1-0.1-2 1.4-4 5.7-20 34.7-0.2-1.6 1.2-3.3 17.3-38.7 0.5-4-0.7-4-1.1-0.8-3 2.1-4 5.8-19 34.6-8 12.9-0.5-0.6 0.5-2 2-5 23-50 1.9-7-2.9-2.9-7 9.7-24 44.2-9 14.4 0-2.3 5-11.9 28-59.2 3.7-12-62.7 0.1-3.8 0.9-2.5 5-2.1 13 0.4 0.3 7.9-11.3 3.1-2.6 2-0.3 0.8 0.9-0.5 4-17.9 35-20.4 35.4-1 1.2 0-2.5 2-5.6 13-29.7 5-13.7-14 18.9-19 31.1-6 8.5-1 0.5-0.1-1.1 4.1-16.5-2 1.1-6 6.4-16 21.6-3 2.2-3-0.3-2 1.4-21 21.8-0.5-163.7 0.5-100.2 7 6.7 1 0.4 0.3-0.9-1.3-6.3-7-20.7 0-17 13 23 26 50.6 5 7.7 6 5.9 1-1.2-1-5.5-13-47.6-0.7-4.9 0.7-1.9 2 2.5 9 19 23 57.1 4 7.7 7 9.7-2.7-18.1-12.3-53.8-1.1-9.2 0.1-1.6 1 0.3 4 9 5 15.1 18.5 66.2 3.2 14 1.3 0.6 6 0.1 1.2-0.7-2.6-11-9-50-3-22-0.6-12.7 1-0.6 2 4.7 5.2 20.6 8.2 43 4.1 28 1.5 0.7 7 0 0.9-0.7-2-12-2.2-20-3.7-44-0.3-17 0.3-3.2 1-1.4 1 2 3 14.7 3.3 25.9 4 42 0.3 13 1.4 0.8 7 0.1 1.2-0.9-1.6-24-0.4-50 0.8-17.7 1-6.3 1-0.9 2 9.9 1.6 26 0.9 49-0.8 14 1.3 0.9 7 0 1.2-0.9 0.4-23 3.4-48.8 3-22.4 1-3.5 1-0.7 1.1 8.4 0 19-2.7 48-2.4 23 1 0.9 7 0 0.8-0.9 3.8-30 6.4-41.2 4-18.9 2-5.6 1-0.2 0.3 8.9-1.2 15-9.8 72 0.7 0.9 5.6-0.9 0.4-1.1 18-71.6 4-13.1 3-6.3 0.8 3.1-0.8 8-10 53-0.9 8 0.9 2.5 5-5.1 3-5.7 17-45.3 6-12.5 0.8 1.1-0.7 6-8.3 34-1.1 7 0.3 3 1 0.2 4-2.1 4-4.2 5-8.4 12-23.6 3-4.5 1-0.6-1 7.2-5.4 20-0.3 4 0.7 1.6 5-1 4-2.4 16-19.7 1 0.1 0.1 1.4-2.3 13 1.2 2.5 9-1.4 10-7.6 3-1.5 1.2 1 0.9 5 1.9 1.6 5 1.4 5-1.1 7.6 0.1 5.4 7.1 6 2.2 8 1.7 6 5.9 8 1.9 6.8-0.8 10.2-5.1 8-2.1 35-1.1 59-0.2 59 0.9 52 2 43 3 46 5.1 88 13.1 27 5 83 17.4 53 8.6 24 2.4 42 1.9 43 3.5 160.1 17.6 96.9 9.7zM273.5 1681.5l-0.7-0.9 0.6-2 5.1-11.9 27.7-57.1 5.3-7.6 2-1.1 2-0.2 0.5 0.9-0.2 2-2.1 5-27.2 51zM242.5 1681.1l0-2.4 6-14.1 25.3-52 4.7-7.8 2-2 2-0.8 1 0.5 0.3 1.1-1.9 6-26.4 50zM257.5 1682l0-2.3 6-14.1 27.3-56 3.7-5.5 2-1.8 2-0.5 0.8 0.8 0 2-2.4 6-26.4 49.9z"/>
<path fill="rgb(24,24,24)" d="M1434.5 1836.8l-249.3-0.2-107.3-29-80.4-15.2-27-6.1-22-7.1-51.6-19.6-36.4-10.1-46-7.3-75.6-15.6-2.1 0 18.9 8 5.1 3-1.3 0.9-2 0.1-12.1-1-85.8-15-6.1-0.6-1.3 0.6 50.3 17 10.2 4 3.4 2-1.6 0.9-5-0.3-21.8-3.6-168.2-36.8-9-3.3-6-0.3-8-4.6-8-0.3-2-1.5-2-2.9-3.8-1.3-1.2-1.2-6 1.8-3-4.4-5-2.7-7 3.1-1.9-3.6-3.3-1-1.8-1.4-8 1.6-1-2.2-5-3-10-1.2-4-3.3-7-2.2-4 0.1-2-2.5-3.8-0.9-3.2-2-3-0.5-3-2.1-3-0.5-6-2.8-3-2.3-8-2.6-3-3.3-5-1.5-4 0.5-2-5.7-4-2.5-2 0.6-7 7.2 2-12.5-3-4.3-2 0.7-4 4.5-17 28.4 1-3.9 13.1-30.4 0.8-6-0.5-2-1.4-1.4-2 0.7-4 4.9-19 33.9-6 9.4 0-1.9 3-7.3 18.1-39.3 2.5-9-2.6-3.7-2 1.3-4 6.2-23 41.9-8 12.8 0-2 4-9.6 20-41.9 9.1-21 2-3-1.1-0.1-68.2 0.1-1.8 3.1-4.2 14.9-4 9-34.8 54.5-2 1.1 4.3-15.6 0.3-2-0.6-0.8-7 6.8-17 23.3-2 1.4-1-0.4-1-2.3-2 0.7-18 18.3-8 7.2-0.5-157.2 0.5-94.9 5 6.4 6 5.8 2 1.6 1 0.2 0.2-1.1-2.2-8.6-11-32.5-1-3.9 0-5.1 4 4 8 13.2 31 59.7 4 5.9 6 5.2 0-5.1-12-44.4-1.2-6.4 0.2-2.7 2 2.1 8 16.8 21 51.9 11.6 22.9 3.4 9.9 1 1.3 0.7-0.2-2.2-7-5.5-28-10-44.3-1.1-6.7 0.1-4.5 1 1 4 9.7 5 15.8 19 68.8 8 0.1 0.6-0.9-2.9-12-7.8-44-2.9-21.6 0-9.7 1 0.8 2 5.6 5 21 8.3 44.9 1.9 15 0.8 1 9 0 0.3-1-2.5-15-4.1-43-1-23 0.3-6.3 1-1.1 3 12.4 3 22.2 3.9 39.8 0.5 15 9.6 0.1 0.6-0.1 0-1-1.4-14-0.6-48 0.6-19 0.8-6.9 1-1.9 1 2.7 1 7.4 1.4 23.7 0.8 42-0.9 15 9.7 0.1 0.6-1.1-0.2-14 3.2-47 2.4-21.1 2-7.2 1 2.3 0.3 5-0.1 20-2.8 49-1.9 14 0.5 0.1 9.2-0.1 1.3-14 6.5-43.5 4-21.1 3-9.4 1 4-1 15.8-9 68.3 3.8-0.1 3.4-1 15.8-63 4-13.5 3-6.7 0.6 2.2-0.6 7.4-9.2 50.6-0.8 8 1 1.3 5-5.5 3-5.6 18-46.4 3-5.8 1-0.2-1 8.1-7 30.4-0.3 4.7 0.3 1.4 1 0.2 5-2.8 4-4.8 17-29.7 0.9 0.7-0.1 1-4.5 21 0.3 3 1.4 0.6 5-1.5 3-1.9 12-14.1 3-2.4 0.5 2.3-0.8 9 1.3 2.1 3.6-0.1 6.4-1.8 8-6 3-1.2 1.5 1 1.3 4 1.2 0.9 7 1.6 5-1.6 6 0.4 2 1.4 3.3 4.3 3.7 2.7 11 2.6 7 6.3 8 1.8 8-0.7 10-4.3 10-2.2 47-0.9 54 0.2 56 1.3 45 1.9 40 2.9 43 4.9 96 14.1 110 22.4 54.5 9 24.5 2.5 40 2 43 3.7 162.9 18.8 92.1 9.8zM232.5 1670.7l-1 0.6 2-6.8 19.6-43.9 8.1-14 3.3-3.4 2.9-0.6 0.5 2-0.5 2-4.7 10-18.2 34zM261.5 1674.1l0.9-4.5 5.1-11.6 23.6-48.4 4.4-6 2-1.1 1 0.4 0.3 1.7-0.8 3-6.1 12-20.4 38.2zM276.5 1674.6l1-4 6-13.7 23.5-48.3 4.5-5.9 3-1 0.6 0.9-0.1 2-2.2 5-26.3 49.1zM246.5 1673.3l0-2.4 5-11.7 23.6-48.6 4.4-6.4 3-1.4 0.5 2.8-2 5-22.5 42.7z"/>
<path fill="rgb(28,28,28)" d="M1434.5 1836.8l-235.9-0.2-119.7-32-81.4-15.4-26-5.8-22-7-52.6-19.8-36.4-9.9-53-7.6-97.6-20.5-5.5 0 30.2 11 7.8 4-1.9 0.8-3 0-15.3-1.8-82.2-15-10.8-1 7.5 3 55.2 18 7.3 3 1.7 1-0.1 1-11.3-1-16.8-3-152.2-33.6-10-3.3-6-0.7-8-4.1-8-0.8-3.3-3.5-5.7-3.7-4 2.1-2-0.2-2-3.2-5-3.3-2 0-2 1.6-3 0.6-7-5.9-4 1.2-3-0.1-5-2.7-2-2.2-5 0.4-6.4-1.6-2.6-3-3 0.4-4-1.9-4-0.4-2-2.4-4-0.5-3-1.8-3-0.7-8-4.5-4-0.8-3-2.2-8-3.4-3-3.3-5-1.3-4-0.1-1-0.8-1.7-4.3-4.3-2.6-1.8 0.6-5.2 4 0.8-9-3.8-4.6-2 0.9-3.3 3.7-11 17 0.3-2.1 7-17.2 1.5-5.7-0.4-5-2.1-1.5-2 0.8-4 5.2-21 35.8 2-6.3 13.4-29 4.5-12 0.6-4-1.5-5.6-1 0.4-3 4-4 6.3-21 38.1-6 9.5 0-2 6-13.8 20.6-43.9 3.4-6.5 2.2-2.5 0.1-1-1.3-0.3-70.1 0.3-1.6 3-4.8 15-4.8 10-24.7 40.4-6 8.7-1.2 0.9-0.2-2 4.5-14 0.7-3-0.8-0.8-8 7.9-16 22.3-2 1.3-1-4.5-1-0.3-1 0.6-18 18-12 10 0-243.5 11 15.3 7 6 1 0 0.1-1.3-2.1-8-11.1-32-1.9-7-0.2-4 1.2 0.1 2 2.2 7 11.3 32 61.4 4 5.5 5 4.1 0.6-1.6-0.6-4.6-11-41.3-1-8.1 2 2 7 14.8 18 44.1 11.6 26.1 2.3 7 5.1 6.6 0-3.6-4.4-16-11.6-53.5-1.4-8.5 0.4-3.6 3 6.6 5 15.3 13.3 46.7 3.7 16 1 1.1 9.3-0.1-2.9-11-7.4-42.1-2.4-18.9-0.2-5 0.6-2.6 3 8.5 5 22.4 6.7 36.7 1.1 12 11.3 0-2.6-13-3.7-38-1.1-23 0.3-6.3 1-0.2 3 14.3 3.1 25.2 2.7 29-0.2 12 10.4 0.3 1.5-0.3-1.9-14-0.6-43.7 0.7-18.3 1.3-6.3 1 2.5 1 7.9 1.3 25.9 0.6 33-1.4 13 10.5 0.3 1.2-0.3-0.5-14 3.3-47.3 2-15.6 1-4.1 1-0.3 0.7 9.3-0.3 18-2.3 40-2.2 14 1.1 0.3 9.6-0.3 1-13 6.4-41.6 4-19.9 2-5.2 0.6 4.7-0.6 10.8-6.6 52.2-2.3 12 0.9 0.3 4.9-0.3 2.8-1 14.3-57.1 4-13.2 2-4.4 0.6 1.7-0.6 7.4-8.9 51.6-0.1 4.1 1 0.2 5-6.1 3-5.6 16-40.2 4-7.8 0 5.1-6 28.3-0.1 5 1.1 0.8 5-2.8 3-3.1 14-23.7 3-3.4 0 3.2-2.7 15 0.6 3 1.1 0.3 5-1.5 3-1.8 11-12.1 3-2.3 0.8 1.4 0.1 8 1.1 1.5 3 0 6.3-1.5 8.7-5.9 3-1 1.1 0.9 1.7 4 1.2 0.6 4 0 4 1.1 5-1.9 5 0.6 11 9.1 9 2 7 6.1 9 2.2 10-0.7 10-3.8 9-1.9 52-0.6 54 0.5 54 1.5 41 1.9 38 2.9 40 4.7 103 14.9 111.8 22.8 53.9 9 24.3 2.6 38 2 43 3.9 161.7 19.5 92.3 10.3zM280.5 1666.9l1-4 4-9.3 21.3-44 3.7-5.4 2-1.6 1.5 0 0.5 1-0.3 2-2.2 5-21.5 40.1zM235.5 1664.6l-1 1 4-11.7 15.7-34.3 6.7-12 3.6-3.9 2-0.7 0.9 1.6-0.3 2-3.1 7-16.5 31zM250.5 1665.7l-0.6-0.1 0.6-2.6 4-9.3 21-43.1 4-5.9 2.6-1.1 0.5 2-1.9 5-19.2 36.4zM265.5 1666.5l0-2.3 5-11.7 21-42.9 3-4.5 3-1.8 0.7 2.3-1.4 4-20.3 38.3zM553.1 1609.6l-4.6-2.8-0.7 0.8 3.7 2z"/>
<path fill="rgb(32,32,32)" d="M1434.5 1836.8l-223.2-0.2-131.8-34.9-82-15.4-26-5.8-21-6.7-54-20.1-35-9.5-16-2.6-24-2.1-19.5-2.9-120.8-25-2.8 0 7.1 3 32.2 11 8.5 4-0.4 1-4.3 0.1-16.3-2.1-85.3-16-8.4-1.3-3.1 0.3 64.8 21 10.6 4 3 2-4.3 0.2-8.8-1.2-26-5-119.2-26.4-18-5.1-7-1.3-5-2.9-5-1.7-5 0-3-3.3-6-3.8-5 2.1-2-2.7-6-3.9-2.1 0-2.9 2-1.3 0-7.7-5.7-6 1.1-4.9-2.4-3.1-2.7-4 0.7-6-1.7-3-3-4 0.1-3-1.6-4-0.5-3-2.7-3.2-0.6-1.8-1.4-4.6-0.6-7.8-5-4.6-0.9-2-1.6-9-4-2-2.6-5-2.4-3 0.6-2-0.4-2-4.7-4-2.5-2 0.2-4 3-1-0.2 0.3-7.5-3.3-4.4-3 0.9-9 11.6 0-2.1 4.3-14-0.3-4.7-2-1.7-3 0.9-4 5.3-16 27.2 0-2 15-35 1.8-7-1.8-4.9-2 0.6-4 5.8-26.1 45.5 0-2 2.1-5 20.6-44 4.2-7 2.7-2 0.2-2-2.7-0.6-70.9 0.6-4.8 14-5.9 13-21.4 35.7-7 10.3-1 0.8 0-2.8 5-14.9 0-2.9-8 7.2-17 23.4-1.5 0.2-0.5-5.4-2 0.3-7 6.3-10 10.9-8 5.5-8 6.9 0-236.6 13 19.8 4 4.3 6 4.3 0.2-2.3-1.2-4.7-13.2-38.3-1.3-6 0.5-2.3 3 3.2 7 11.7 30 57.7 4 5.4 5 3.9 0.6-1.6-0.6-4.4-11-43.3 0-3.2 1 0.8 7 14.3 28.5 69.8 4.8 8 0.7 0.1 2.4-0.1-6.9-27-8.5-40.5-1-8.6 2 2.9 4 11.5 13.3 45.7 3.6 16 1.1 0.2 9.8-0.2-2.9-10-4.9-27.2-3-19.8-1-14.1 1 0.7 2 6.3 4 17.6 6.4 34.5 0.9 12 12.6 0-2.7-10-2.2-20.1-2.1-26.9 0.1-15.5 1 0.9 2 9.6 3 23.3 2.6 27.7 0 7-0.7 4 25.1 0.5 1.9-0.5-1-10 1.1-21.3 3-33.3 2-8.9 1.1 9.5-1 28-1.6 25-2.4 11 1.9 0.5 10-0.5 0.8-12 5.2-34.1 4-20.4 2-4.9 0.2 7.4-1.2 13.9-4.9 38.1-2.5 12 1.4 0.5 5-0.4 3.1-1.1 11.9-47.7 6-18.7 0.7 1.4-0.6 7-7.1 40.5-1 12.4 5-5.8 3-5.1 17-41.1 2-4 1-0.7-4.9 28.8-0.1 3.9 1 1.1 5-2.9 3-2.9 13-21 2-2.7 1-0.3-1.5 14.8 0.5 2.5 1 0.4 8-3.1 13-13.1 1 0 0.5 1.3 0.5 6.3 2 1.7 9-1.9 9-5.9 2-0.4 1 0.7 2 4.2 1 0.5 4-0.6 5 1.2 5-2.1 4 0.4 12 9.5 8.9 2.4 8.1 6.4 8 1.6 11-0.2 12-4.2 7-1.2 45-0.3 98 1.7 44 1.8 36 2.5 46 5.1 112 16 111.7 22.8 56.3 9.6 22 2.5 39 2.3 44 4.2 252 31zM297.5 1565l-1 0.1-1-2.7-1.2-11.8-0.3-40 0.5-13.2 1-5.7 1 2.1 1 8.5 1.2 24.3 0.3 27-0.5 7.5zM284.5 1659.3l0-1.7 4-9.4 18.6-38.6 3.4-4.9 2-1.4 1 0 0.3 2.3-2.2 5-18.1 33.8zM237.5 1659.8l0-1.5 3-7.8 14.7-31.9 6.9-12 2.4-2.4 2-0.3 0 3.7-4.9 10-15.1 28.1zM254.5 1658l-0.9-0.4 2.9-7.2 17.8-36.8 4.2-7.3 3-2.1 0.5 2.4-1.5 3.9-17 32.1zM269.5 1658.8l-0.1-2.2 3.1-7.3 19-39.2 3-4.5 2-1.5 1 0.2 0.1 2.3-2.1 4.9-17 32zM561.5 1614.6l-2-2-9.8-6-2.2-0.6-0.6 0.6 0 1 1.2 1 11.7 6z"/>
<path fill="rgb(36,36,36)" d="M1434.5 1836.7l-211-0.1-143-37.5-81-15.2-27-6-22-6.8-55-20.4-39-10.1-20-3.6-23-0.7-20.1-2.7-130.5-27-5.5 0 44.1 15 7.6 3 3.1 2-1.7 0.6-5-0.2-17.6-2.4-88.4-17-10.8-1 10.8 4 57.8 18 14.8 6-3.6 0.5-10.6-1.5-39.3-8-90.1-20.1-25-6.4-10-4.9-5 0.2-3-3.4-3-1.4-2-1.9-3-0.1-3 1.3-1-2.3-3.1-1-2.9-2.3-4-0.3-3 1.6-5-3-2-2-3-0.4-4 0.6-4-1.4-3-2.9-10-1.1-1.7-0.8-1.6-2-4.3-1-1.4-1.3-5 0.1-8-5.3-5-0.1-8-5.2-3.9-1.2-2.1-1.8-3-0.2-6-2.9-3-3.1-5-2.9-4 0.9-1-1-0.9-4-2.4-1-1.7-2-7 2.7 0-5.7-3-5.4-2 0.1-2 1.1-7 7.4 2.8-11.2 0.4-7-1.2-0.6-2-0.4-3.3 2-13.7 21.5-0.7-0.5 0.7-2 7.3-17 4.1-12-0.8-5 1.1-3-0.7-1.1-1 0-3 3-4.1 6.1-20.9 36.6-0.9-0.6 0.9-2.3 18-38.9 4-5.8 4.2-2 1.1-3-3.3-0.7-67 0.1-6.8 0.6-3.5 12-6.4 14-18.3 31.1-8 11.9-1 0.7-0.1-1.7 5.1-15.5 0-3.6-8 7.3-13 18.6-4 4.6-1.2-0.4 0.1-6-0.9-0.8-7 5.8-12 12.9-7 3.6-11 9.3 0-230.3 17 26.2 7 6.4 2 1.3 0.7-0.4-1.7-8.2-13-37.6-1.1-6.2 0.1-0.5 1 0.2 4 5.3 6 10.5 28 53.7 4 5.3 5 3.3 0-4.7-10-40.2 0-4 1 1.1 12 26.5 19.8 49.5 4.4 8 0.8 0.1 4-0.1-7.5-29-6.5-32.7 0-5 3 7.3 8 25.9 6.4 22.5 2.2 11 1.4 0.4 10.6-0.4-2.9-8-4.7-25.5-3-20.5 0-8.9 4 14 5 25.1 2.6 15.8-0.1 8 52.5 0.7 2.5-0.7 0.5-11 4-26.6 4-21 1-3.5 1-0.8 0 6.5-2 19.6-3.4 25.8-2.5 11 1.9 0.7 5-0.4 3.4-1.3 9.6-38.5 6-19.5 1 1-1 8-6 35.3-1 9.9 2.2-1.2 4.8-5.7 19-43.8 1-0.2 0 1.3-3.7 22.4-0.1 3 0.8 2 5-2.8 3-2.8 12-18.7 3-3.5 0.5 1.8-0.8 11 0.3 1.5 1 0.9 8-3 13-12.4 1.3 1 1.1 6 1 1 1.6 0.2 8-1.9 9-5.5 2-0.6 1.3 0.8 2.7 4.5 5-0.9 5 1.2 5-2.3 3 0.1 13 10 8 2.4 8 6.1 7.5 1.9 12.5 0.5 12-4 7-1.2 67 0 106 3.1 33 2 31 2.7 30 3.7 116 16.5 110.5 22.7 57.5 10 20 2.5 39 2.4 46 4.7 250 31.9zM297.5 1563l-1 0.3-1-3.1-0.9-9.6-0.2-35 1.1-15.3 1 1.4 1 9.1 1 21.8 0.3 21zM282.5 1564.2l-2-5.6-2-16.1-2.2-26.9 0.2-14.6 1 2.1 2 11.2 4 35.8 0.3 10.5-0.3 2.4zM311.5 1564.2l-1-0.4-0.8-6.2 0.8-18 3-33.1 1-5.1 1-0.1 0.2 16.3-1.2 26.2-1 12.5zM240.5 1654.2l0-2 3-7.5 12.6-27.1 5.6-10 2.8-2.8 1.5-0.2 0.5 1-0.7 3-4.3 8.7-13 24.1zM289.5 1650.2l-0.9-0.6 2.9-6.9 15.9-33.1 3.1-4.3 2-1.3 0.8 1.6-1.5 4zM258.5 1650.2l-0.9-0.6 2.9-6.9 16-32.9 3-4.1 2-0.4-1 4.6zM273.5 1651l-0.6-0.4 0.5-2 2.1-4.8 14-29.1 4-7.4 3-2.4 0.7 1.7-1.6 4zM563.6 1615.6l-3.3-3-11.5-7-1.3-0.1-1.2 1.1 0.9 2 5.4 3 7.9 3.9z"/>
<path fill="rgb(40,40,40)" d="M1434.5 1836.7l-199.1-0.1-154.3-40-82.6-15.6-26-5.7-21-6.5-58-21.2-30-7.9-25-5.3-19-2.6-18 0.8-16.9-2-31.7-6-110.1-23-4.8 0 50.6 17 7.6 3 2.9 2-6.6 0.3-16.1-2.3-87.3-17-16-2 13.1 5 58.3 18 12.8 5-0.8 1-8.6-1-39.9-8-91.5-20.6-14-3.9-9-4.8-5 0.1-2-3-3-1-2-2.3-4.7-0.5-2.3-1.9-4-0.1-0.6-1 0.5-2-2.9 1-3-0.2-3-1.3-2 1-2-0.1-3-2.6-4-0.9-2-1.3-3 1.2-2-0.2-3-2.8-4-1.1-2-1.7-3 1.2-2 0-3-2.7-3-1-3-2.1-3 0.9-2-0.2-8-5.5-5-0.4-11-5.8-2-1.9-4-0.6-2-1.6-3-0.6-3-2.9-5-3.2-4 0.2-1-0.6-0.6-3.2-4.4-4.2-1-0.1-5 2.3-1-0.3-0.5-4.7-1.5-5-1-0.9-5 2-5 4.7 2.2-14.8-0.3-1-2.9-2.3-1 0-4 4.5-9 13.2 0-2.2 7.9-21.2-0.2-4 1.2-4-3-4 0.5-2 1.8-2-4.4-1-71.8 0.3-4.5 0.7-3.1 12-6.1 13-15.3 26.4-9 13.7-1 0.6-0.1-1.7 5.1-15.4 0-3.7-5 3.9-3 3.3-13 18.7-4 4.5-1.1-0.3 0.6-7-0.5-1.3-7 5.3-12 13.3-7 2.4-14 11.7 0-224.5 20 31.2 3 3.3 5 3.8 1 0.5 1-0.7-2-8.2-13-37.7-0.7-5.1 0.7-0.3 1 0.9 9 14.8 26 49.9 4 5.6 5 3.7 0.9-1.6-0.6-4-8.3-32.7-0.6-4.3 0.6-2.2 10 20.7 13.5 32.5 5.5 15.2 4.4 8.8 1.6 0.3 4.4-0.3-7.5-29-3.9-20-0.6-6 0.6-1.2 11.1 34.2 5.2 22 1.7 0.5 64 0.3 3.2-0.8-0.4-6 1.1-10 4.1-24.8 3-13.3 0.7 1.1-0.1 5-2.6 24.3-2 14.6-2.7 9.1 2.7 0.8 5-0.4 3.8-1.4 9.2-36.8 3-10 2-4.2-1 11-6 37.1 3.5-2.1 5.3-6 14.2-33.5 3-4.9 0 4.2-2.5 16.2 0.5 4.8 2-0.6 6-4.7 14-20.5 1-0.4 0.3 1.4-0.3 10 1 1.7 1 0.1 8-3.5 12-11.2 1.4 0.9 1.6 5.7 2 0.7 8-1.8 11-6.1 1.4 0.5 2.4 4 1.2 0.9 5-1.4 5 1.2 5-2.5 3 0.2 13 10 7.2 2.6 8.8 6.3 7.1 1.7 13.9 0.8 12-3.8 7-0.9 71 0.3 101 3.3 32 2 30 2.7 147 20.3 118 24.3 54 9.5 17 2.2 42 2.8 46 4.9 247 32.9zM282.5 1562.4l-2-5.5-1-7.4-2.2-25.9 0.2-14.1 3 15.9 2.8 26.2 0.2 7.4zM297.5 1561l-1 0.4-0.6-1.8-0.9-8-0.3-25 0.8-17 1 0.2 1.4 18.8 0.6 23zM311.5 1562.4l-1-1.1-0.2-1.7-0.2-9 2.4-30.7 2-11.1 0.6 8.8-0.6 20.4-1 15.7zM268.5 1564.4l-1-0.8-2-5.9-3-16-3.2-21.1-0.6-8 0.8-0.4 3 11.5 5 25.4 1.4 9.5zM310.5 1639.5l-0.8-0.9 0.8-2.1 13.3-28.9 4.7-5.9 2.3-0.1 1 1-0.4 2-8.4 13zM243.5 1648.6l-0.3-1 1.3-4 11.5-25 5.5-10.2 2-2.3 2-0.9 0.5 1.4-0.5 2-3 6.2-12 22.4zM293.5 1642.3l-0.7-0.7 0.7-2 14-29.4 3-4.3 2-0.7-1 4.4zM565.7 1616.6l-6.3-5-9.9-6-2-0.5-1.6 1.5 0.6 2.1 13 6.9 6 1.8zM262.5 1642.3l-0.7-0.7 0.7-2 10-21.2 5-9.8 3-2.8 0.6 0.8-0.8 3zM278.5 1641.6l-0.9-1 0.9-2.2 13-27 3-4.7 2-0.8 0.1 1.7-1.1 2.6z"/>
<path fill="rgb(45,45,45)" d="M1434.5 1836.7l-187.3-0.1-165.7-42.5-83-15.7-26-5.7-21-6.5-58-21-29.2-7.6-25.8-5.6-43-6.9-4 0.5-0.4 2-3.6 0.9-18.1-1.9-36.4-7-89.7-19-19.8-3.5-2-0.1-0.3 0.6 54.8 18 7.7 3 3.1 2-4.3 0.4-11.8-1.4-98.2-18.9-8-0.8-1.4 0.7 13.6 5 55 17 11.9 5-4.1 0.1-7.7-1.1-39.2-8-76.1-17.1-14-4.1-9-4.8-4.3 0-1.7-3.3-3.1-0.7-0.4-1 0.6-2-1-1-3.1 1.6-3-0.3-2-1.6-3-0.9-2-3-4 1.7-5-1.9-4 1-2.7-2.6-3.3-0.4-3-2-5 1.4-3-2.9-3-0.6-3-2.2-5 1.3-2.7-2.6-3.3-1.2-2-1.8-6 0.2-7.9-5.2-3.1-0.6-2-1.5-4-0.3-3-2.3-3.3-1.3-2.1-2-3.6-1.1-2-1.9-4-0.1-2-2.4-3.3-1.5-2.2-2-4.5-0.9-1.4-3.1-4.6-4.1-6 2-2-8.9-2-2-2 0.4-7 5.4 1.9-12.8-0.9-2-3-2.7-1.4 0.7-3.6 4.4-6 8.4-0.3-1.8 5.6-16 1.4-8-0.4-2-1.8-3 1.5-3-4-1-65.2 0-12.8 0.7-1.5 3.3-1.1 8-4.9 11-10 18-13.5 21.2-1 0.8 0-2.2 5-15.3 0-3.1-4 2.7-4 4-13 18.8-4 4.6-1.1-0.5 1.1-8-1-1.3-7 5.6-11 12.6-2 1.4-3-0.6-2 0.7-17 13.8 0-219 22 34.7 4 4.6 6 4 0.6-1.5-1.6-6.7-13-38-0.6-4.3 0.6-0.5 1 0.9 8 13.1 26 49.5 4 5.1 4 2.8 1-0.1-1-8.6-7-27.2-0.7-5 0.7-1.3 3 4.9 6 13.2 10.5 25.2 7.5 20.1 3.7 7.9 1.3 0.3 5.8-0.3-7.1-27-3-16-0.3-4 0.6-0.9 9 26.7 5 21.2 1 0.6 74 0.4 5.4-1 1.7-1 5.9-24.5 6-18.8 0 5.9-5.7 34.4 0.7 0.3 3.7-2.3 5.5-6 10.8-25.4 4-7.9 0.7 2.3-2 17 0.3 2.4 1 0.4 5-3.3 3-3 13-18.8 1.2 0.3 0.4 10 1.4 1.1 8-3.3 12-10.9 1 0 0.7 1.1 1.3 4.3 1 0.9 2 0.2 7-1.6 12-6 1 0.5 2.3 3.7 1.7 1 5-1.6 5 1.1 5-2.5 2-0.1 9 6 5 4.3 7 3.1 9 6.1 15 2.6 7.3 0 10.7-3.3 6-1 67 0.5 105 3.6 31 2 30 2.8 29 3.7 50 7.7 71 9.4 114.1 23.6 60.9 11 14 1.8 48 3.6 41 4.7 245 33.9zM296.5 1559.4l-1.1-5.8-0.3-15 0.4-17.9 1-2.3 1.6 32.2-0.6 8zM282.5 1560.4l-1-1.3-1-4.2-1-9-1.3-18.3 0.3-8.8 2 10.6 2 17.1 0.6 9.1zM311.5 1560.3l-1-2.3-0.1-7.4 3.1-31.6 0.8 1.6 0.2 4-0.9 23-1.1 10zM267.5 1562l-2-5.8-2-10.9-3-20.3 0-4.7 3 10.5 4 20.2 1 8.6 0 1.7zM325.5 1564.3l-0.7-3.7 0.7-9 4-23.8 2-7.9 0 9.5-2.9 24.2-1.1 5.9zM314.5 1631.2l0-2 9.6-21.6 3.4-4.1 2.5-0.9 0.7 1-0.3 1zM568.6 1618.6l-7.2-6-11.2-7-2.7-0.9-1.4 0.9-0.6 2 2 2.2 13 6.6 6.2 2.2zM246.5 1642.7l0-2.3 7.9-17.8 6.7-13 3.4-3.6 1 0.6-1 3.5-11 20.9zM298.5 1632.5l-0.6-0.9 0.6-1.7 9-19 2-3.4 2-1.5 0.3 1.6-1.2 3zM266.5 1634.2l-0.1-1.6 1.1-2.7 9.8-20.3 2.2-2.6 1 0.3-2 5.1zM282.5 1633.4l-0.5-0.8 0.5-1.6 5-10.7 5.9-11.7 2.1-2 0.5 1-0.6 2z"/>
<path fill="rgb(49,49,49)" d="M1434.5 1836.7l-175.6-0.1-177.5-45-81.9-15.5-27-5.9-22-6.8-51-18.7-26-7.2-34-7.6-34-5.8-47.1-9.5-4.4 0 13.7 6 4.4 3-2.6 0.7-6-0.4-20.9-3.3-115.2-24-22.8-4 0.6 1 5.4 2 53.1 17 7.9 3 3.3 2-4.4 0.5-11.9-1.5-88.1-17.1-11-1.8-3.9 0.9 8.8 4 48.5 15 16 6-3.4 0.4-25-4.4-63-13.6-14-3.1-20-5.8-9-4.8-4.3-0.7-1.9-3-2.6-2-1.2-2.4-2-0.3-2 1.5-1.7 0.2-6-3-2.3-2.7-4 1.6-5-1.9-4 0.5-1-3.5-3 1.3-2.3-0.3-2.7-2-5 1.3-2-2.5-4-0.9-2.1-1.9-1.9-0.3-3 1.4-1-0.2-2-2.3-3-0.9-3-2.3-5 0.1-1.9-1.5-3.5-1-2.6-2.2-3-0.9-2.4-1.9-4.6-0.2-2-1.9-4-1.4-2-2-3-1-3-2.5-3.6 0-2.4-2.9-3-0.8-2-1.9-4-0.8-2-3.1-4-3.9-2-0.4-4 1.8-1-1-0.4-5-1.3-3-1.3-1.3-3-0.3-5.3 3.6-0.3-5 0.9-6-3.3-4.4-1-0.2-2 1.4-7 8.8 0-3 3.6-10.6 1.9-10 0.9-2-2-4-4.4-1.1-78.2 0.1-2.2 4 0.2 5-0.7 3-4.5 10-10.4 19-11.2 17.3-1.2 0.7 5.2-18 0-1.4-1-0.3-7 6-17 23.6-1 0.3-0.2-1.2 1.3-8-0.1-1.8-1 0.1-7 5.6-11 12.8-2 1.1-2-1.5-2 0.2-20 15.3 0-213.4 25 39.4 5 5.2 4 2.5 1-0.2-1-6.3-13-38.1-0.6-3.9 0.6-1 1 1 8 13.3 24 45.6 4 5.3 5 2.9 0-5.3-7.9-32.8-0.1-2.2 1 0.1 9 18.6 19 47 2 1 4 0.2 2.3-0.7-6.3-23-3-19.3 2 3.7 5 15.1 6 23.9 75 0.7 5.9-1.1 1.6-1 3.5-15.9 6-19.7 0.7 1.6-0.6 6-4.1 26.1 5-3.1 5.6-6 9.4-22.1 4-7.4 0.5 2.5-1.5 15 0.2 2 0.8 0.8 8-6.2 13-18.5 1-0.2 0.4 1.1 0.6 8.6 2 0.7 8-3.7 11-9.9 1.6 0.3 2.3 5 2.1 0.5 7-1.5 12-6.1 1 0.2 3 3.9 2 1 5-1.8 5 1.1 5-2.6 2-0.1 9 5.9 5 4.3 16 9.6 16 2.9 7-0.1 10-3 6-0.9 69 0.8 104 3.8 30 2 29 2.9 80 11.7 71 9.2 117 24.4 62 11.3 10 1.4 47 3.7 43 5 244 35.1zM296.5 1556.9l-0.9-13.3 0.9-15.2 1.2 22.2-0.2 4.8zM282.5 1557.4l-1-0.4-1-4.8-1.1-13.6 0.1-9.3 3 21zM311.5 1557.9l-0.7-5.3 0.7-11.2 1-9.5 1-3.1-0.6 22.8zM325.5 1561.7l0-8 3-17.5 2-6.7-2 22.7-2 8.8zM267.5 1560l-1-1.8-2-9.6-2-13.6 0-4 5 22.2zM318.5 1623l1-4 4.9-11.4 4.1-3.7 0.8 0.7-1.5 4zM570.8 1619.6l-10.3-8-11-6.7-2-0.5-1.9 1.2-0.1 3 3 2.2 12 6.1 8 2.9zM250.5 1635.2l-0.8-0.6 0.8-2.3 5-11.1 6-11.6 3-2.8 0.2 1.8-1.2 2.8zM303.5 1622.3l0-1.8 5-10.8 2-2.4 0.5 0.3-0.5 2.3zM272.5 1622.4l0-1.8 3-6.4 3-5.6 1-0.6-0.1 1.6zM287.5 1623.2l0-1.6 7-13.5 0.6 0.5-0.6 1.9z"/>
<path fill="rgb(53,53,53)" d="M1434.5 1836.7l-163.6-0.1-104.4-25.6-85-21.8-82-15.5-27-5.9-22-6.8-51-18.6-28.7-7.8-31.3-6.9-23-3.2-23-4.4-90-19.5-1.1 0 41.3 14 7.6 3 3.2 2-2 0.6-7-0.5-18.9-3.1-115.4-24-18.7-3.3-2.5 0.3 10.9 4 47.7 15 14.8 6-2.9 0.8-14.2-1.8-77-15-17.8-2.6-3 0-0.6 0.6 2.6 2 55.7 18 7.7 3 0.6 1-19.9-3-57.1-12-14-3.2-20-6-3-2.2-3-0.6-2.5-2-4.5-1-1.2-2-2.6-2-1.2-2.4-4-1-2-2.5-2 2.8-4-1.1-2-2.6-1-0.4-5 1.5-2-1.4-5-0.9-0.9-2-1.1-0.6-4 1.5-4-2.3-5 0.6-0.3-2.2-0.7-0.8-4 0.6-4-2.5-4.5 0.7-1.3-2-4.2-0.8-2.7-2.2-3.3-0.6-3-1.7-3 0.2-3-2.2-4-1.4-2-1.8-4-0.4-2-2.2-4-0.5-8-5.6-4-0.9-2-2.8-3-0.2-2-2.3-4.5-0.6-2.1-3-4.1-4-2.3-0.4-3 1-1-0.4-0.2-3.2-2.8-5.5-4-1.1-3 2.6-1.7 0-0.4-3 0.8-7-2.4-3 0.6-3-0.9-0.2-3.9 3.2-6.1 7.2 1.1-6.2 3.4-10 0.6-4 1.8-4-1.4-2-1.7-1-4.8-1.2-79.4 0.2-2.4 5 1 2-0.1 4-3.9 9-11.2 20.7-10 14.8-0.1-2.5 4.4-14 0.3-2-0.6-1-5 3.6-3 3.2-16 22.4-1 0.7-0.4-0.9 1.6-9-0.2-2.1-2 0.8-5 3.9-12 14.1-2 0.8-2-2.6-2 0.5-15 11.9-7 4 0-179.5 2 0.8 0.5-1.6-2.5-7.6 0-19.8 27 42.6 4 4.6 6 3.4 0.3-2.2-1.3-5.2-12-35.1-1-4.7 1-0.5 8 12.6 23 43.5 4 5.5 5 3.4 0.7-1.5-0.7-5.1-7-28.9 0-3.9 1 1 12 26 13.8 34.9 1.2 0.6 6 0.2 1.7-0.8-5.7-20-2-10.5 0-5.2 6 16.6 3 11.1 1.3 8 0.7 0.8 76 0.4 5.3-1.2 1.5-1 3.2-14.6 5-15.4 0 6.4-3.8 21.6 0.8 0.2 4-2.2 6.9-7 9.1-21 3-5 0.5 3-1.2 13 0.7 2.7 2-0.9 6-5.2 11-15.9 3-2.7 1.1 8 0.9 1.5 1 0.1 8-3.5 9-8.4 3-1.7 1 0.4 2 4.4 2 0.7 8-1.7 11-5.6 2 0.2 3 3.7 2 0.9 5-2 5 1 6-2.8 2 0.7 3 2.7 5 2.4 4 3.7 5.6 3.3 4.7 4 6.7 3.4 16 2.9 8-0.1 10-2.8 6-0.7 69 1.1 103 4.1 57 4.8 81.9 12.3 48.1 5.6 24 3.6 118.1 24.8 64.9 12 51 4.5 47 5.7 241 35.9zM326.5 1558.8l-0.6-1.2 0.2-4 2.4-13 0 7.5zM311.5 1554.3l0-5.6 1-6.4 0 8.5zM573.8 1621.6l-13.3-10.3-11-6.8-2-0.4-2.3 1.5-0.4 2 0.7 1.7 4 2.6 11 5.4 11.7 4.3zM322.5 1615.8l-0.8-0.2 2.6-7 1.2-1.8 2-1.3 0.5 1.1-0.6 2zM254.5 1627.3l-0.9-0.7 1.9-4.3 6-11.8 2-2.5 0.6 0.6-0.6 2zM479.5 1684.7l-1.7-1.1 0.7-0.9 2 0.6z"/>
<path fill="rgb(57,57,57)" d="M1434.5 1836.7l-151.1-0.1-109.9-26.5-92-23.3-82-15.5-26-5.6-22-6.7-52-18.9-30-8-29.6-6.5-25.4-3-26-4.7-127-28.3-3.2 0 61.7 19 11.5 4 6.3 3-1.3 0.8-5-0.4-21.3-3.4-110.5-23-18.2-3.2-3 0.2 10.1 4 53.9 17 7.7 3 1.9 1 0.3 1-4.6 0-13.9-2-87.4-16.4-3.2 0.4-1.8 1 1.2 1 12.8 4.7 35.2 11.3 9.8 4-5.2 0-11.6-2-59.2-12.3-21-6.7-2.3-2-3.6-1-0.6-1 0.5-2.2-1-0.7-2 1.7-3-0.2-2-2.5-2-1.2-1.4-2.9-3.7-1-1.9-2.2-2-0.1-2 2.2-2-0.1-3-3.1-4.5-0.7-1.3-2-2 2-3.2 0.1-1-0.3-2.5-2.8-1.5-0.1-3 1.4-3-2-4.4-0.3-1.6-2.4-5 0.7-3-2.3-4-0.3-2-2.1-4 0.5-2.6-2.1-4.4-1.3-2-1.8-4.6 0.1-2.1-2-3.3-0.8-2.7-2.2-3.8-1-1.5-2-5-0.3-2-2-3-1-3-2.6-3-0.8-2-2.5-3-0.9-2-2.5-5 0.1-6-6.9-5-0.6-1-0.8-3.5-7.2-4.5-1.4-3 2.4-1 0-0.4-2 0.7-9-1.3-1 0-3-1-1.5-1 0.2-8 8.1-0.6-0.8 0.4-3 3.2-9 0.7-4 1.9-4-1.2-2-7.4-2.3-80.2 0.3-2.8 4.5-7.8 7.5-0.7 3 0.5 1.1 7-8.8 2-0.3 0.6 1 0.3 2-0.8 3-5.7 12-9.4 16.8-7 10.1-0.4-1.9 4.4-14.1 0.6-2.9-0.6-1-8 7.2-13 18.7-4 4.6-0.7-1.5 1.7-8 0-3-2 0.7-5 3.9-10 12.2-3 2.7-1 0.1-1.8-3.6-1.2 0.1-6 4-9 7.7-10 5.4 0-171.1 5 2.8 1 0.2 0.4-1.1-1.4-5.1-5-11.9 0-16.1 28 44.1 5 6.1 6 3.3 0.3-2.4-1.3-5.2-12-35.7-0.1-3.1 1.1 0.6 7 11.3 23 43.1 3 3.8 6 4.5-1-8.2-6.1-25.1-0.4-4 0.5-1.1 3 5 7 15.6 14.5 36.5 1.5 0.9 8.7 0.1-4.7-14.3-3-16.4 1 0.6 1 2.3 5 15.9 1.4 6.9-0.1 5 77.7 0.3 5.6-1.3 1.6-1 1.8-9.7 5-14.8 0 4.3-3 18.5 1.9-0.3 3.1-1.8 7.2-7.2 7.8-17.9 3-5 0.6 1.9-1 12 0.4 2.8 3.1-0.8 4.9-4.3 11-15.8 3-3 1 1.5 0.8 6.6 1.2 0.9 8-3.3 12-10.2 1.5 0.6 2.2 4 2.3 0.4 7-1.5 12-5.7 2 0.6 3 3.3 2 0.7 5-2.1 5 1 6-2.7 2 0.7 3 2.8 5 2 4 3.8 5 3 7 5.8 6 2.6 15 2.6 8 0 10-2.5 6-0.7 74 1.5 99 4.2 55 4.9 82 12.6 49 5.6 24 3.5 121 25.6 66 12.5 46 3.9 50 6.3 239 37zM576.3 1622.6l-15.8-11.7-11-6.7-3-0.1-1.7 1.5-0.4 2 0.8 2 5.3 3.5 9 4.2 13.8 5.3 2.2 0.6zM324.5 1611.7l-0.5-0.1 0.5-2.4 2-2.4 0.3 1.8z"/>
<path fill="rgb(61,61,61)" d="M1434.5 1836.7l-137.9-0.1-112.1-26.4-103-25.8-81-15.3-27-5.8-22-6.7-52-18.8-31.1-8.2-27.9-6.1-32-3.4-29-5.2-142.8-32.3-9.3-2-4.9-0.3-0.4-0.7-1.9 0 82.9 25 14.5 5 4.4 2 0.7 1-5.2 0-24-4-100.8-21-20.2-3.6-2.4 0.6 9.8 4 50.7 16 8 3 3.4 2-4.5 0.3-10.2-1.3-57.8-11.1-32-5.1-2 0.5 0.3 1.7 6.5 3 43.5 15-1.3 0.7-6.2-0.7-45.8-9-8.8-2-19.2-6.1-3-2.8-2.4-1.1-0.6-3.6-3-0.8-1.1-2.6-0.9-0.5-2.2 0.5-0.8 2.1-3-1.1-0.3-2 1.8-2-0.5-1.1-1.4 0.1-1.6 1.7-2 0.1-4-2.8-2 0.8-1 1.3-2 0.2-2-2.7-4-0.9-2-2.1-2 0.3-2 1.8-2 0-3-3-2-0.2-3 1-1.1-1.5 1-1-5.9 0.7-3-2.8-5 0.7-2-1.8-4.4-0.8-2.2-2-4.4 0.4-2-1.9-4-0.9-3-2.2-4-0.2-1-2.2-5-0.3-2-1.9-4-1.4-2-2.1-4.5-0.3-1.5-2-4-0.9-2.1-2.1-3-1-7.9-6.5-4.4 0.5-2-3-2.6-1.9-1-2.3-6-1-4-7.7-4-1.4-4.1 1.3-0.4-5 0.9-5-2.5-5-1.9-0.1-7 7.3-1-0.1 4-14.1 1.8-3 0.6-3-3.9-2-5.5-1.4-80.9 0.4-2.1 3.4-9.1 8.6-3.3 9-3 6-9.6 11.1-15 21-1 0.2-0.1-1.3 2.1-10 0-1.2-1-0.4-6 4.2-13 15.2-1 0.2-1.2-4-0.8-0.7-1 0.3-6 3.9-9 7.8-6 2.2-6 3.8 0-164.1 3 2.6 5 2.8 1 0.3 0.8-0.9-1.8-6.4-8-18.4 0-13 31 48.3 5 5.4 5 2.3 0.2-2.2-1.2-5-11-32.6-0.7-3.4 0-1 0.7-0.3 6 9.2 22 41.1 4 5.5 6 5 1-0.5-8-34.6 0-2.1 1 0.5 9 18.8 9 23.4 5 11 90.5 0 5.3-2 1.2-8.3 3-9.6 0.9 0.9-0.9 7.7-2 8.3 6-2.7 8.1-8.3 5.9-13.8 3-5.1 0.8 1.9-0.9 12 1.1 0.2 4.6-1.2 2.4-2.2 11-15.7 3-3.2 1 0.2 1.1 6.9 0.9 1 1 0.1 8-3.8 11-9.5 1.6 0.2 2.4 3.9 2 0.5 8-1.8 12-5.3 2 0.8 3 2.9 2 0.7 5-2.3 5 1 6-2.7 5 3.7 5 1.6 5 4.6 4.1 2.4 5.9 5.6 11 4.2 3-0.2 8 1.6 6 0.3 18-3.1 98 2.7 79 3.8 50 4.8 83 12.9 48 5.3 25 3.7 114.2 24.4 72.8 14.3 47 4.3 52 6.8 236 38zM253.5 1563.2l-1 0-1-2.1-2-6.4-2.1-9.1 0.1-4.7 5 15.2zM579.7 1624.6l-20.2-14.7-10-6.1-3-0.1-2 1.9-0.5 2 0.5 2 7 4.7 25.6 10.3 2.4 0.5zM229.5 1644.7l0.9-5.1 6.5-18 8.5-14 3.1-3.4 2-0.2 0.4 1.6-0.6 3-5.7 12-9.1 16.1zM502.7 1685.6l-1.2-1.1-1.2 1.1 1.2 0.9zM493.5 1689.7l-2-0.8 0-1.7 2.9 0.4z"/>
<path fill="rgb(65,65,65)" d="M1434.5 1836.7l-123.8-0.1-113.2-25.9-116-28.6-80-15.1-27-5.8-22-6.6-54-19.3-32-8.3-27-5.9-37.8-3.5-28.2-4.9-161.4-36.1-4.7 0 14.2 5 68.2 20 18.6 7-0.9 0.7-3-0.1-17.4-2.6-101.6-21-19-3.3-4.4 0.3 3.8 2 11.6 4 44.2 14 9.5 4-1.7 0.9-8.6-0.9-74.4-13.6-14-1.7-5.8 0.3 1.9 2 3.9-0.1 3 2.1 6 2.5 22.2 7.5 9.4 4-6 0-34.6-6.5-14-3.5-14-4.8-4.4-4.2-0.3-1 0.7-1.9 3-1.1-1-2.5-2-0.2-2 2.5-1 0.1-1.7-0.9-1.3-2.1-3.8 0.1-1.2 1.7-1-0.1 0-1.4 1.3-1.2-0.4-2-0.9-0.7-1-0.1-2.2 1.8-1.8 0.3-2.3-2.3-2.7-0.3-3 2.1-1-0.2-1-1.6 0.1-1 1.3-1-0.4-1-2 1.7-2 0-2-0.5-2-2.2-1-0.1-4 2.5-1.4-0.4-2.6-2.7-3-0.4-2-2.4-3 1.7-3 0-3-2.7-4 0.4-1-0.9 0-2-1.9 1-3.1 0-3-2.3-5-0.6-0.7-2.1-2.3 0.6-3-0.5-2-1.8-4-1-2-2.4-3 0.7-2-0.5-2-1.9-3.6-1.2-1.9-2-4.1-1-1.4-2.1-4 0.1-3-2.6-3-0.9-7-6.2-5.1-0.3-0.9-2.4-3-2.1-1-2.8-5 0.1-1.6-0.8-2.4-3.4-0.3-4.6-4.7-1.2-4.5 0.2-0.6-3 1.2-5-3.1-5.9-2 0.3-3 3.2-4 2.8 3.5-12.4 1.9-3 0.8-3-4.3-2-5.9-1.5-81.6 0.5-1.4 2.5-10.7 10.5-6.7 14-20.6 28.6-1 0.8-0.5-1.4 2.1-10-0.6-2.5-6 4.1-13 15.7-1 0.3-0.6-0.6-0.7-5-0.7-0.7-1 0.4-5 3.2-10 9.2-6 0.7-8 5 0-157.6 5 4.5 6 3.2 2 0.1-3-8.9-10-22.8 0-9.5 33 50.7 4 4 6 2.6-2-8.9-10-30-0.2-3.2 1.2 0.6 6 9.8 21 38.7 3.3 3.9 5.7 4 1-1-7-28.3-0.5-3.7 0.5-1.5 7 13.5 9.7 25 4.3 10.2 1 0.9 86 0.4 5-0.5 5.6-2 0.4-0.9 2 0 3-1.3 5.8-4.8 4.6-5 7.6-16 1 1-0.8 10 1.8 0.5 5.9-1.5 14.1-19.2 1.3 0.2 1.2 6 1.5 1.3 8-3.6 9-8 3-1.8 1 0.2 2.8 3.9 2.2 0.3 7-1.6 7-3.6 5-1.6 2 0.2 4 3.2 2 0.6 5-2.4 5 1 6-2.7 5 3.9 5 1.2 5 4.7 4 2.3 7 6.6 10 4.1 4-0.6 8 1.6 6 0.2 17-2.7 93 2.8 83 4.1 50 5 84 13.3 48 5.2 25 3.7 106 22.8 81 16.5 48 4.6 55 7.5 64 10.2 168 28.8zM252.5 1561.1l-1-1.5-2-7.1 0-4.4 3 10zM340.5 1563.5l0-5.1 2-6.7 0.5 1.9-0.4 4zM583.4 1626.6l-22.9-16.3-10-6.3-2-0.8-2 0.2-2.5 2.2-0.5 3 0.8 2 8.2 5.6 13 4.1 15.1 6.3 1.9 0.5zM231.5 1641.4l-0.5-0.8 0.5-2.6 5.8-15.4 7.9-14 2.3-2.7 2-1.1 1 0.8-0.2 2-4.5 10-8.3 15.2zM560.1 1627.6l-6.6-7.3-3 1-2-0.2-5-7.5-1-0.5-1.8 0.5 4.2 6 0.6 5.6 8.3 2.4 5.7 0.8zM516.8 1689.6l-0.2-1-1.1-0.5-1.8 0.5 0.8 1.4zM525.9 1690.6l-1.4-1.2-1.4 0.2 0.4 1.2z"/>
<path fill="rgb(69,69,69)" d="M1434.5 1836.7l-108.7-0.1-55.3-11.7-53.4-12.3-136.6-33-78-14.8-28-6-22-6.5-54-19.3-33-8.4-34.4-7-12.6-1.4-22-1-28.7-4.6-67.3-14.6-79.3-18.4-20.3-4-5.7 0 23.8 8 57.9 17 11.9 4 6.7 3-5 0.4-15.3-2.4-92.2-19-23.5-4.2-1.9 0.2-0.2 1 7.1 3.3 48.4 15.7 8.6 4-5 0.2-8.7-1.2-60.5-11-14.8-2.4-4 0.3-4-1.9-2 0.1-1.2 0.9-0.3 2 3.5 0.5 4 2.3 10 2.9 19.1 7.3 3.7 2-5.8 0.2-23-4.2-13-3.1-10-4-4-0.9-4.6-5 0.4-1 1.2-0.3 2 1.6 2 0.4 4-2.5 1 0.1 2.1 2.7 4.4 0-0.5-2.6-4-0.8-2-1.9-1-0.3-3 2-2-0.1-2-2.8-4-0.8-2-2.6-4 2.2-2.4-0.3-2.6-3.1-2 0-2 1.8-1 0-2-2.4-5 0.6-0.8-0.9 0-2-1.2-0.6-4 2-1.4-0.4-1.8-2-1.8-0.4-1.4 0.4-1.6 1.7-2 0-2-2.4-4-1.2-1.9-2.1-5.1 2-3-2.4-4-1.3-2-2.1-3 1.5-2-0.1-3-2.3-3-0.7-2-2.4-5 0.9-2.6-2.1-3.5-1-2.9-2.7-4 0.7-2-2-3.8-1-2.2-2.3-4-1.5-2-2.2-4 0.2-2-2.2-3.8-1-7.2-6.3-4-1-1-1.8-2.8-1.9-1.8-3-6.4-0.5-2.6-3.5 0.3-4-2.7-1.6-2-2.3-2.2 1.9-2.8 0.3-0.7-2.3 1.3-5-1.6-3-1-4-3.4 1-2.6 3-2.4 1 0.1-3 5.1-13-10.8-3.7-66 0.1-16.2 0.6-1 2-11.3 11-7.8 15-17.7 25.2-1 0.1-0.1-1.3 2.8-12-0.7-1.6-6 4.1-10 13-4 3.9-1-1.4 0.3-6-0.3-0.8-1 0-6 3.8-9 8.8-2 0.6-2-1.2-2 0.3-11 6.8 0-151.8 5 4.6 5 2.9 4 1.5 0.8-1.5-14.8-35.2 0-4.9 9 12.2 24 37.5 5 4.6 4 2.1 2 0.2 0.2-1.5-1.2-4.4-9-26.9-1-5.9 1 0.6 6 9.6 19 35.1 4 4.3 6 4 0.6-2.4-6.6-26.4 0-3.4 1 0.9 7 14.4 12 30.4 1 0.3 86 0.4 5-0.5 11-4.2 5-3.9 5.8-6 6.2-13.2 1-0.4 0.2 1.6-0.5 8 8.3-1.5 11-15.5 3-2.9 1 1 1 5.5 2 0.8 8-3.9 11-9.3 2 0.7 2 2.9 2 0.4 8-1.8 7-3.7 4-1 3 0.2 4 2.8 2 0.5 4-2.2 6 0.7 4-2.2 2-0.3 4.6 3.8 3.4 0.1 2 0.9 5 4.7 4 2.4 7 6.9 10 4.2 4-0.7 8 1.5 6 0.3 17-2.4 96 3.2 81 4.3 48 5 85 13.8 46 4.7 23 3.3 191 40.7 50 5 57 8.2 65 10.8 163 29.2zM587.7 1629.6l-5.9-5-32.3-21.5-2-0.3-2.2 0.8-1.7 2-1.1 3.7-3.8 2.3 6.3 9-0.5 5.2 10.6 2.8 6.4 0.7 0.7-0.7-0.3-1-4.8-7-0.1-1 1.5-0.4 6.5 1.4zM232.5 1638.7l1-5.1 5.4-13 6.6-11.7 2-2.4 2-0.9 0 3.4-5 10.6-8 14.2zM497.5 1685.5l-1-1.3 2-1.1-0.1 1.5z"/>
<path fill="rgb(73,73,73)" d="M1434.5 1836.6l-92.2 0-90.8-18.9-104-24.1-68-16.6-76-14.3-28-6-22-6.5-56-19.7-35.6-8.9-21.4-4.6-25-4.2-11-0.9-17 0.4-25.1-3.7-59.9-12.7-83.5-19.3-30.6-6-5.3 0 17.4 6 66.8 20 15.7 6-5.5 0.3-14.4-2.3-103.6-20.9-9.1-0.1 0.8 1 3.3 0.7 9.9 4.3 36.9 12 9.7 4-1.5 0.9-8.5-0.9-63.5-10.8-4.3-1.2-4.7 0.2-4-1.7-4 0.2-2-1.1-4-0.5-4-2.3-4 1.8-1-0.3-1.6-2.3-3.9-1-2.5-2.4-1.8 0.4-2.2 1.8-2-0.3-1.7-2.5-4.2-1-0.7-2-1.4-0.7-2 2.1-2 0.5-2-0.1-2-2.6-1-0.3-4 2.1-3-2.4-3-0.2-3 2-1.2-0.4-1.1-2-3.7-0.8-3-2.6-5 2-3-2.5-3.4-1.1-1.6-2-2-0.1-3 1.4-3.5-2.3-3.3-1-2.2-2.4-5 0.9-2-1.7-4-1.3-2.5-2.5-4.4 0-1.1-2.2-4 0.1-3-2.7-3.3-1.2-1.7-2.1-4.7-0.9-0.8-2-4.5-0.1-2-2.3-3.2-1.6-1.8-2.2-4.3-1.8-3.7-3.3-2-3-8-2.4-0.8-1.3-0.2-4.7-2-1.3-2-2.5-2 0.3-2 1.8-2-0.4-0.2-2.2 1.3-4-1.7-4 1-3-0.4-1.7-2-0.4-4.4 3.1-2.6 3.1-1-0.4 2.4-7.7 2.2-3 0.6-4-11.2-3.8-71 0.1-11.9 0.7-0.9 2-6.9 6-4.4 5-8.5 16-11.4 17-4 4.6-0.3-2.6 2.8-11-0.5-2.3-6 3.8-10 13.4-4 4.2-1 0.1-0.3-1.2 1-7-0.7-1.8-6 3.3-10 9.9-1 0.3-2-1.8-2-0.3-14 8.3 0-146.5 5 4.9 4 2.7 6 2.6 1-0.6 0.2-1-12.2-29.4-2-6.7 1-0.2 1 1 4 5.2 25 38.5 5 4.9 6 2.8 1-0.5 0.2-1.6-9.2-28-0.8-4 0.8-0.9 5 7.7 18 33 4 4.4 6 4.7 1-0.3 0.2-2.6-5.2-20.2-0.9-5.8 0.9-0.6 6 11.8 11.8 29.8 1.2 0.3 86 0.4 5-0.5 11-4.1 4-3 7-7.1 4-8.7 2-2.5 0.1 7.2 0.9 0.4 9-1.9 9-13.4 3-3.2 1.1 0.1 1.5 6 1.4 0.7 8-3.8 9-8.1 3-1.6 1 0.3 2 2.8 2 0.8 8-1.7 10-4.5 5 0.1 6 3 4-2.3 6 0.7 4-2.2 2-0.3 4 3.7 4 0 2 0.9 5 4.7 4 2.5 7 7 11 4.5 4-0.8 7 1.4 7 0.3 16-2.1 96 3.6 81 4.5 47 5 86 14.3 46 4.7 24 3.5 190 41.1 52 5.6 63 9.4 59.5 10.3 160.5 30.3zM592 1631.6l-33.5-23.5-9-5.4-4 0.3-4 4.8-2 0.2-2 1.4 0.8 2.2 6.4 9 0.3 2-1 3 0.5 0.8 15 3.6 4-0.1 0.6-1.3-2.8-4-1.2-3 0.7-1 1.7-0.1 6.7 2.1 20.5 9zM234.5 1635.4l0-2.9 4.4-10.9 6.6-12 2-2.4 1.4-0.6 0.3 2-3.7 8.4-7 12.8zM566 1648.6l-0.9-1-5.5-2-10.1-1.3-4.5-1.7-3.5-0.4-3.5-1.6-6.1-1 0.9 1 2.7 1 13 2.4 12 4.1zM508.5 1693.9l-3-0.2-0.6-1.1 0.4-1 4.2-0.7 0.9 0.7zM550.5 1704.6l-17-2.3-14-3.4-7.7-3.3-0.8-1 0.1-2 0.4-0.8 3-0.2 5 1.5 5-0.1 3 1.8 10 3 14 5.8z"/>
<path fill="rgb(77,77,77)" d="M1434.5 1836.6l-74.1 0-61.3-12-101.3-22-117.3-27.6-76-14.5-29-6.2-22-6.4-56-19.7-36-8.8-44-8.7-26-4.1-6-0.1-3.6 2.1-5.4 0.4-24.9-3.4-56.1-11.8-75-17.3-52.8-10.9-4 0 91.1 28 16 6-3.3 0.5-11-1.5-88-17.8-23.1-3.2 6.1 4 41.3 14 8.9 4-7.6 0-56.6-9.2-4-1.2-5-0.1-9-2.8-5-0.2-4-2.2-4 1.4-2-2.3-4-0.7-3-2.6-2 0.4-2 1.8-1.8-0.3-1.2-2-4-1.3-2-2.7-2 0.1-1.4 1.9-1.6 0.5-2-0.3-1.5-2.2-1.5-0.5-2 0.4-2 1.6-3.2-2.5-3.8 0.1-2 1.6-1-0.7 1.8-2-0.8-1.4-1 0-2 1.6-2-0.1-3-2.5-2-0.4-4 1.9-2.1-2.1-3.9-1.3-2-2.1-2-0.2-3 1.5-3-2.2-3-0.8-3-2.7-4.7 0.8-2.3-1.9-3-0.6-3-2.7-3.6-0.8-1.4-2.1-5 0.5-2.4-2.4-3.6-1.4-2-2.1-3-0.8-2-2.5-5 0-1.6-2.2-3.4-1.4-2-2.4-4-1.8-3.9-3.4-2.1-2.9-5-2.6-2.4-0.5-1.2-5-2.4-1.7-1.6-2.3-2.3 0-3.1 2-0.6-2 1.1-4-1.4-4 1.2-4-5.3-5.3-0.4-1.7 0.8-2-5.7-3-6.7-1.9-62 0-21 0.7-1.5 2.2-6.9 6-4.1 5-9.9 18-11.6 16.4-1 0.6-0.1-2 3.1-11 0-3.8-4 1.8-2 1.7-14 18-1 0.5-0.4-1.2 1.3-9-0.9-1.2-6 3.4-10 10-1 0.2-2-3.2-1-0.1-6 2.8-7 4.8-4 1.4 0-140.9 6 6 4 2.8 6 2.6 1-0.3 0.3-1.3-0.4-3-8.9-20.6-2.7-8.4 0.7-0.7 4 4.7 24 36.2 5 4.7 6 2.5 1-2.4-8-24.7-0.7-3.3 0-1 0.7-0.3 6 9.4 14 25.9 5 6 7 5.4 0.8-1.4-0.1-3-4.7-17.8-0.5-4.2 0.5-1.4 5 9.4 11.6 29 1.4 0.4 86 0.5 5-0.6 11-4.1 3.1-2.2 8.2-8 4.7-8.6 1 5.1 10.2-1.5 8.8-13.2 3-2.6 2 6 2 0.5 8-4.1 11-9.2 1.9 0.6 2.1 2.6 2 0.4 8-2 9-4.2 6 0.2 6 2.7 4-2.4 6 0.7 5-2.5 2 0.7 3 3.3 1 0.3 3-0.6 2 0.7 5 4.8 4 2.5 7 7.3 11 4.5 4-0.7 14 1.7 16-1.8 55 2 75 3.6 52 3.4 46 5.4 82 14.1 57 5.9 30 5.5 48 11.1 125 27.3 56.6 6.5 68.9 11 55.2 10 154.3 30.8zM594.7 1633.6l-0.2-1.3-2.2-1.7-41.8-28-4-0.4-2.6 1.4-2.4 2.6-3-0.2-2.1 1.6 1.1 3 7 10 0.3 2-1.3 4 16.4 4 5.6 0 0.7-1-4.3-7 0.5-1 2.1-0.1 8.5 3.1 19.5 9zM599.5 1616.6l-0.3-1-3.6-3-9.6-6-6.5-2.2-4.3 0.2 1.8 2 9.2 5 8.7 4zM341.5 1610l-0.8-0.4 0.8-3.8 1-0.9 2 0.3 0.5 2.4zM236.5 1631.7l-0.5-1.1 0.5-2 2.9-7 6.1-11.1 3-3 0 2.1-4 8.6zM572.3 1649.6l-10.6-4-27.7-7-8.5-1.8-2.5 0.8 0 1 1.1 1 3 1 20.4 4.5 12.1 3.5 9.9 1.5zM543.5 1702.6l-10.3-1-13-3-6.2-3-1.1-1 0-1 1-1 1.6-0.1 4 1.6 5 0 9 3.8 3.5 0.7 6.5 3z"/>
<path fill="rgb(81,81,81)" d="M1434.5 1836.6l-52.9 0-101.1-19-92.3-20-107.7-25-75-14.2-30-6.5-22-6.4-55-19.2-36-8.9-44-8.6-49-8.5-7-0.4-0.5 0.7 4.6 4-1.4 1-8.7-0.5-15.9-2.5-48.1-10-133-29.7-4.4-0.3 0.5 1 4.2 2 79.6 24 19.6 7-1.5 0.8-13.5-1.8-97.5-19.1-1.9 0.1-1.5 1 0.1 1 7.3 3.2 36.6 12.8 5.5 3-5.2 0-49.9-7.6-4-1.3-5-0.3-9-3-4 0.4-4-2.1-4.1-0.1-1.9-2.1-4 0.6-4-2.8-2 0.1-3 2-2-2.7-4-1-2-2.5-2 0-2 2.3-2 0.2-3-2.7-3.5-0.4-0.5-2-1-0.9-1 0.2-1.1 1.7-1.9 0.6-3-0.3-2-2.3-1.1 0-2.9 1.9-2-0.6-1-1.5-2-0.9-2.4 0.1-2.6 1.4-0.9-1.4 1.4-1 0.1-1-1 0-0.6 1.5-4-0.6-2-2.1-1.8-0.8-4.2 1.2-2-1.8-4-0.9-2.5-2.5-4.5 0-0.2-2-0.8-0.6-2 1-3-0.3-2-2.2-4-1.4-2-2.2-5 0.5-2-2.2-3-0.8-3-2.8-2.9-1-2.1-2.4-4 0.2-1-0.8-0.6-2-3.4-0.4-2.1-2.6-3.9-1.4-4.3-3.6-2-3-7.7-4.2-1-3.8-2.5-2-1.5-2.4-2-0.4-3 1.6-1-0.8 0.8-3-0.7-5 0.8-4-0.9-1.8-2.4-2.2-0.5-2 1.6-1-0.6-1-8.1-4-7-2-83 0.5-1.2 0.5-0.9 2-6.9 6-3.9 5-10 18-10.1 14.1-0.7-1.1 0.3-2 3.4-12 0-1.5-1-0.4-4 2-2 1.9-11 14.8-3 3-0.6-1.8 1.6-9-1-1.3-6 3.3-10 10.3-1 0-1.3-3.3-0.7-0.9-1 0-6 2.9-7 4.8-6 1.3 0-135.1 9 8.7 7 3.5 2.2-0.2-0.3-5-8.9-21.5-0.6-2.5 0.6-1.2 5 6.1 20 30 5 5 5 2.5 2 0.2 0.5-3.6-6.5-20.1-0.8-3.9 0.8-0.9 4 5.9 15 26.9 5 5.8 5 4.2 2 0.9 0.2-5.8-4.2-15.4 0-4.8 1 1.2 4 8.2 10.4 25.8 1.6 0.5 86 0.5 5-0.6 7-2.4 6.1-3 9.4-9 3.5-6 0.9 1 0.1 2.1 11.7-2.1 7.3-11.1 3-3.1 1 0.3 1.3 4.9 1.7 1 8-4 9-8 3-1.6 1 0.2 2 2.5 2 0.8 9-2.2 8-4.1 7 0.3 6 2.6 4-2.6 2-0.2 4 1 5-2.5 2 0.9 3 3.2 1 0.3 3-0.9 2 0.7 5 4.8 4 2.5 6.8 7.3 3.2 0.4 3 2.6 6 2 4-0.8 14 1.6 15-1.6 55 2.3 78 4 48 3.2 46 5.6 83 14.7 59 6.1 29 5.4 172 38.8 37 4.2 31 4.4 85 14.7 47 9.4 135 28.7zM594.6 1634.6l0.9-2-1-1.2-23-14.7-14-10.4-7-4.3-4-0.3-5 3.1-4-0.7-2 1.7-0.1 1.8 8.9 13 0.1 3-1.9 3 17 4.3 7 0.5 1.6-0.8-0.3-1-4.1-6 0.6-1 1.7 0 8.4 3 18.7 9zM599.7 1619.6l0.5-4-0.7-2.4-10.9-6.6-10.3-4-5.8-0.7-3.4 0.7 1.2 2 3.4 2 25.8 13.8zM343.5 1607.8l-1 0.6-0.5-0.8 0.5-1.2 1 0.2zM238.5 1627.6l-0.1-2 2.1-5 6-10.5 0.9 0.5-1.9 4.5zM579.7 1651.6l-16.5-6-36.7-9.6-5.4 0.6-0.2 1 1.2 2 5.4 2.1 39.7 8.9 9.3 1.4zM540 1676.6l-1.1-1-2.4 0 0 1 1 0.6 2 0zM533.5 1700.3l-5.9-0.7-4.1-1.7-4-0.3-2.2-2 5.2-0.5 6.4 1.5 5.5 3z"/>
<path fill="rgb(85,85,85)" d="M1434.5 1836.6l-26.3 0-140.9-25-127.8-27.6-59-13.7-73-13.9-31-6.7-22-6.3-57-19.6-37-8.9-119-21.6-4-0.4-1.3 0.7 12.9 6 2.6 2-2.2 0.6-4-0.2-16.1-2.4-43.9-9-139.2-31-3 0 0.2 1 20.8 7 69.3 21 11.5 4 3.4 2-4.5 0-12.7-2-61.8-12.4-23-4.2-4 0.2-4-1.4-4-0.3-1-1-1.6 0.1 0.6 0.9 2 0.3 2 2.8 10 2.8 9 3.9 23.5 8.3 4.1 2 0.4 1-4.1 0-41.9-6.1-14-2.8-4-1.8-4 0.4-3-1.7-4-0.8-3-2.2-2.1 1-2.2 0-2.7-2.4-4.5-0.6-0.3-2-1.2-0.6-2 1.7-2 0.3-1.4-0.4-1.6-2.3-3-0.5-2 2.1-2 0.4-2-2.4-4-1.2-1-1.9-1-0.5-1.4 0.3-2.6 2.3-2.4-0.3-2.6-2.4-5 1.8-2-2.3-4-0.6-3-2.5-2 1.6-3-0.1-2.4-2.5-4.5-1-1.1-1.8-3 1.5-2-0.1-2.7-2.6-3.9-1-1.4-2-1-0.4-4.2 1.4-2.8-2.6-3.8-1.4-1.7-2-1.5-0.4-3 0.8-1-0.4-0.6-2-4.4-0.7-2-2.2-3-1.1-3-2.9-3-0.4-2-2.8-4 0-1.3-2.9-4.7-1-4-3.4-2-3.1-7.7-4.5-1.2-4-2.8-2-1.3-2.5-4.2 0.5-0.5-1 0-11-2.6-3 0.7-2-1.2-2-7.9-4-6.8-2-84.5 0.5-1.7 2.5-8.3 7.7-13 22.3-5 7.4-3 3.2-0.2-2.6 3.5-12-0.3-2.9-4 1.6-2 1.7-14 17.9-1-0.3 0-1 1.8-9-0.8-2.2-6 3.2-10 10.5-1.4-0.5-0.9-4-1.7-0.5-5 2.3-8 5.4-5 0.4-3 1.1 0-130 10 9.8 7 3.5 2.2 0 0.4-2-0.7-4-6.9-17-0.8-3 0.8-0.9 4 4.9 13.8 21 5.2 6.7 5 4.7 6 2.6 1.2-1 0-3-5.3-17-0.9-5.1 1 0.5 16 27.5 5 6.5 8 6.9 1.1-1.3-0.4-5-3.7-14.1 0-3.9 1 1.1 13.1 30.9 1.9 0.6 90 0.1 13-4.8 11.8-10.9 1.2-2.1 3 0.3 11-2.1 6-9.2 3-3.4 1-0.3 0.6 0.8 1 4 1.4 1.3 8-3.9 12-9.9 1.8 0.5 2.2 2.4 2 0.3 8-2 9-4.4 8 0.7 5 2.2 5-3 5 1.1 5-2.4 2 1 3 3.2 1 0.3 3-1.2 2 0.6 5 4.9 4 2.5 6 6.8 4 0.5 4 3.4 5 1.8 4-0.7 14 1.6 15-1.3 56 2.5 81 4.4 44 3.1 45 5.7 84 15.3 39 3.5 22 2.8 27.9 5.4 171.1 39.1 37 4.5 31 4.7 88 15.9 51.1 10.8 127.9 29.4zM599.8 1621.6l0.9-5-0.8-4-11.2-7-6.9-3-7.3-1.7-8-0.4-4.5 1.1 0.1 1 1.8 1 18.6 8.7 17 10.1zM595.5 1634.6l0.6-2-0.6-1.2-25.2-15.8-12.8-10.4-5-3-5-1.2-7 2.7-4.6-1.1-1.7 2 0.3 2 9.7 14 0 3-2.2 3 0.5 0.5 18 4.3 8 0.5 1.3-0.3 0.2-1-4.4-6 0.9-1 1 0.1 8.2 2.9 16.8 8.3 2 0.3zM535.8 1624.6l-1.3-3.2-1-1.1-0.6 0.3 0.7 3zM591.3 1654.6l-26.8-9-38-10.3-9-0.7-2 1.1-1 1.6 1 1.7 4 0.2 2.1 1.4 6.7 2 18.2 3.4 28.6 6.6 11.4 2zM526.2 1656.6l0.8-1-0.5-1-2-0.9-2 0.2-0.1 1.7 1.1 0.9zM541.2 1659.6l-0.6-1-7.7-3-1.6 0-1.4 1 0.1 1 4.5 0.6 3 1.7zM630.1 1664.6l-10.1-3-4.6 0 10.1 3 4 0.5zM524.9 1673.6l0.6-1.4-2.1-0.6-0.5 1z"/>
<path fill="rgb(89,89,89)" d="M1434.5 1834.7l-124.1-19.1-54.9-9.9-118-24.7-58-13.2-69.1-13.2-31.9-6.8-23-6.5-57-19.4-34.4-8.3-44.6-8.5-38-5.9-54.6-10.6-14.9-2 2.9 2 20.1 8 2.6 2-7.1 0-12.6-2-34.7-7-132.7-29.3-13-3.4-5-2-4-0.1-2-1.3-4-0.8-3-2.1-1 0.2-2 2.5-2 1 0.6 1.3 1 0 2.4-1.9 2 0.3 2 2.7 6 2 5 0.1 3.9 1.8 10.1 2.1 68 20.9 22.2 8-3.2 0.4-10.4-1.4-68.6-13.5-19-3.1-3-1.5-6 1.3-2-2.5-2-0.3-1.3 0.6 0.3 2 4 0.9 2 2 5-0.6 3 2.3 6 2.2 4 0.6 24.6 9.6 4.1 2 0.6 1-6.5 0-31.8-4.6-14-2.7-4-1.9-4 0.3-3-1.6-4-1-2-1.9-5 1-2-2.2-4-0.7-2.3-2.7-1.7 0-2 1.9-2-0.2-2-2.6-4-0.5-2-2.7-1 0.2-1 2.2-1 0.4-3-0.4-1.7-2.3-1.3-0.6-2 0.5-2 2.1-2-0.3-3-2.4-2 0-2 1.7-1-0.1-0.9-1.9 1.9-1 0.1-1-1.1-0.8-2 2.1-4-0.3-1.7-2-1.3-0.4-4 1.8-3-2.7-4-0.9-2-2.1-3 1.5-2 0-3-2.8-3-0.7-2-2.2-2-0.2-3 1.3-2.7-2.6-3.4-1-1.9-2.1-4.6-0.9-1.4-2.4-3 0.8-1.6-0.4-2.4-2.5-3-1-2-2.3-3.5-1.2-1.5-2.1-4.4-0.9-0.8-3-4.8 0-2-2.2-3-1.8-1.5-3-7.5-4-1.8-5-2.2-1.1 0.5-3.9-0.5-0.7-3.1 1.7-2.9 0 0-14-1.1 0-1.5-3-4.2-3-11.2-4-86 0.2-1.3 2.8-7.7 7.1-12 20.7-7 9.8-1 0.5-0.1-1.1 4-14 0.1-2.7-3 0.8-3 1.8-12 15.8-3 2.6-0.2-2.3 1.8-9-0.6-1.7-4 1.4-2 1.4-10 10.8-1.1 0.1-0.9-5-1-1-6 2.4-7 5.1-2 0.5-4-0.4-5 1.9 0-125.1 11 10.9 6 3.1 3 0.6 0.6-2-0.4-3-6.2-17.6 0-1.5 1 0.5 21 29.1 5 4.5 6 2.2 0.9-1.2-0.2-4-4.7-15.6 0-2.6 3 3.7 14 23.7 4 4.9 8 6.9 0.6-2-0.4-6-3.2-12.2 0-2.4 1 0.9 11.9 27.7 1.1 0.6 91 0.2 13-4.8 13-11.9 14-2.6 6-8.9 3-2.9 1 0.5 1.5 4.8 1.5 0.5 8-4.4 9-8.1 3-1.6 3.1 2.6 1.9 0.6 8-1.9 10-4.8 4 1.1 4-0.3 5 2.2 5-3.1 5 1.2 5-2.3 2 1 3 3.2 1 0.2 3-1.3 2 0.4 5 5 5 3.5 5 5.9 4 0.1 4 3.9 6 1.9 4-0.6 14 1.4 14-1 58 2.7 80 4.7 43 3.2 45 6 84 15.7 38 3.3 23 2.9 26.5 5.2 47.5 11.4 84.5 18.6 40.5 9.9 37 4.8 30 4.9 85 16 43 9.4 77.8 19 62.2 16zM594.9 1635.6l1.7-2-0.3-2-0.8-1-26.1-16-6.2-5-2.1-3 0.8-1 2.6 0.2 10 3.5 13 6.8 12 8.1 1.4-5.6-0.4-6.3-1-1.2-11-6.5-10.9-4-11.1-1.4-7 0.3-5 1.6-7-0.8-7 2.1-5-1.3-2.8 2.5 11.4 17 0 3-2.5 3 0.9 0.9 18 4.2 10.2 0.9 1.4-1-4.3-6 1.7-0.6 7.3 2.6 15.7 7.9zM536.8 1625.6l-2.3-4.4-2.5-2.6-1.1 3 0.3 1 2.3 2zM645.9 1669.6l-2.9-2-11.8-4-37.7-9.5-67-19.5-10-1.5-3.1 2.5-0.1 2 1 2 6.2 1.9 26 4.9 47 10.7 39.6 10.5zM516.7 1672.6l-0.2-1.5-2.4 0.5 0.4 1.2zM488.8 1673.6l0.4-1-0.7-1-1 0.2-0.4 1.8zM479.5 1676.9l-1.1-0.3-0.1-2 2.2 0.7z"/>
<path fill="rgb(93,93,93)" d="M1434.5 1827.1l-71.7-8.5-63.3-9-41-7-122-24.5-58-12.9-96-19-25-6.7-59-19.8-34.3-8.1-44.7-8.4-20-2.3-23-3.8-74.8-14.5-8.2-1.2-3.5 0.2 29.3 11 4.1 2 0.5 1-4.6 0-13.1-2-29.8-6-124.9-27.6-28-7.7-4-2.3-2 0.3-2 2.3-2 0.5-1-3.2-2-0.3-1.2 1 0.2 1.4 3 0.8 2 3.2 2 0.2 3-1.5 3 2.7 3 0.5 3 1.6 5 0 3 1.3 11 2.4 62.8 19.4 14.2 5 3.2 2-3.8 0-18.5-3-67.9-12.9-5-1.8-4 1-3-2.2-4-0.3-2-2.2-2 1.8-4 0.6 0.1 2 1.9 1.1 2-1.1 1-2 2-0.3 0.6 0.3 0.4 3 4 1.4 3 2.1 5-0.2 2.6 1.7 6.4 2.4 4 0.7 17.6 6.9 5.1 3-7.7 0.2-15-1.8-18-3.7-5-0.4-3-1.7-5-0.4-2-1.1-4-0.6-3-2.4-5 0.7-0.4-0.8 1.4-2 0-1-1-0.6-3 2.2-3-0.5-1.3-2.1-1.7-0.5-2 0.4-1 1.4-2-0.1-0.5-1.2 0.5-0.8 2.2-1.2-0.2-1.7-1-0.7-1.5 0.4-1.5 2.5-3-0.1-1.8-2.4-1.2-0.4-1.6 0.4-1.2 2-1.2 0.3-2-0.4-1.2-1.9-1.8-0.9-2 0.3-1.2 1.6-1.8 0.6-3-2.4-4-0.8-0.9-2.4-1.1-0.3-3 2.3-2 0-2.1-2-1.9-0.7-4 1.7-2-2.4-4-0.7-3-2.6-4 1.7-1.9-1-1.1-1.7-4-1.1-2-2.2-2-0.1-3 1.2-2-2.7-3.3-0.4-2.7-2.6-4-1.3-1.7-2.1-4.3 0.7-2-2.4-4-1.3-2-2.3-3-1-2-2.4-3.5-1.3-1.5-2.7-4 0.2-1.1-0.5-0.9-1.9-3-0.9-0.9-1.2-0.1-3.2-3 0.2-3-2.6-3-1.1-0.6-2.3 0.5-3-3.2-1 0.6-2-0.4-2-1.9-0.4-3 2.1-1.7-0.7 0.9-5-0.9-4 0.8-3-6.1-6.1-6.2-2.9-6.8-2.1-86.7 0.1-1.2 3-7.4 7-11.7 20.1-6 8-0.1-3.1 4.1-13.7 0-1.9-7 4.1-14 17.7-0.6-2.2 1.9-10-0.3-1-1-0.1-5 2.5-8 9.1-3 2.2-0.9-1.7-0.2-4-0.9-1.1-6 2.3-7 5.3-2 0.2-3-1-8 2.8 0-120.4 11 11.2 5 2.9 5 1.5 0.7-1.7-0.4-3-1.1-5-3.2-8.5 0-2.7 3 3.2 8.9 13 8.1 10.2 4 3.6 6 2.6 1-0.2 0.5-1.2-0.1-4-3.5-12 0.1-3.2 3 4 8.1 14.2 5.9 8.4 9 9.1 2 1-0.3-9.5-1.9-7 0.2-3.3 10.7 24.3 1.3 0.7 91 0.2 13-4.8 13-11.6 14-2.6 8-10.6 1-0.1 0.5 0.8 1.5 4.5 2 0 8-4.7 8-7.3 3-1.9 1.9 0.4 2.1 2.2 2 0.3 8-2.2 9-4.6 2 0.1 3 1.2 4-0.6 5 2.2 5-3.2 5 1.2 5-2.2 2 1 3 3.2 2 0 2-1.3 2 0.4 5 5 5 3.5 4.8 5.8 4.2-0.1 4 4.2 6 2.1 5-0.5 13 1.4 14-0.8 97 5.1 75 5.2 40 4.8 98 18.7 44 3.7 27.7 4.2 63.3 14.9 82 18.1 43 10.7 38 5.4 44 7.9 69.6 14 30.9 7 90.3 24 62.2 18.5zM595.9 1635.6l1.2-2-0.7-3-23.5-14-6.7-5-2.6-3 0.9-1.2 3 0.3 11 4.4 11.3 6.5 9.7 7.5 1-1.9 0.8-6.6-0.6-6-1.2-1.3-11-6.5-12-4.2-13-1.4-16 1.2-7 1.6-6-1.1-2.4 2.7 1.4 3 10.4 15 0 3-2.9 3 0.5 1 19 4.4 11 1.2 2.6-0.6-3.6-6 2 0 7.4 3 12.6 6.5 2 0.2zM538.7 1626.6l-1.2-0.2-6-9.9-1 1.8-3-0.4-1.8 1.7-0.3 2 1.1 1.5zM654.4 1671.6l-8.6-4-12.2-4-41.1-10.4-29.2-8.6-17.8-4.5-20-6.3-10-2.4-3.8 3.2 1.8 5.6 6 2.4 4-0.1 24 4.5 43 10 51.9 13.6 9.1 1.5zM503 1668.6l-0.5-1.3-1.7 0.3-0.1 1 0.8 0.6zM512.4 1669.6l0.1-1-1-1.4-2.1 0.4 0.3 2z"/>
<path fill="rgb(97,97,97)" d="M1434.5 1816.4l-28.8-0.8-33.2-2.6-59-6.4-36.5-5-139.5-26.1-59-12.6-68-13.1-44-10-61.4-20.2-26.6-6.9-59-11.3-26-2.7-28-4.6-98-19.9-32-10.6-42-10.6-47-12.9-21-7-6-1.2-4-2-5.9 4.7-0.1 1 2.1 3-0.1 4 1-1 2 0 4 1.7 5 0 23 3.8 46 11 46.7 12.5 22.3 4.7 36.9 11.3 10.4 4 1.9 1 0.4 1-11-1-21.1-4-128.5-28.3-13-3.5-10-3.7-4-0.5-3-2-3-0.6-2-2.7-1-0.1-1.8 2.4-3.2 0.6-0.8 1.4 0.4 2 3.4 1.3 2 2.8 5-0.6 1 1.7 4 0.4 4 1.8 4 0 14 3.5 55.4 17.1 15.9 6-1.3 0.7-7.2-0.7-71.8-13.3-4-1.7-5 0.1-2-1.3-4-0.7-3-2.2-3 2-2 0.2-3-3-2 0.1-0.9 2.8 3.3 1 1.6 2.8 1 0.5 3 0 2-2.4 1 1.1-1.2 2 0.2 1.2 5-0.6 4 2.5 4 0 19 6.6 11.3 5.3-1.3 0.7-6 0.2-18-2.5-9-2.4-4 0.1-4-1.9-4-0.8-2-1.5-3 0.6-2-0.4-2.1-2.1-3.8-1-1.1-3.1-2 0-1.6 2.1-2.4 0.1-2-2.5-4-1.1-0.6-2.5-1.4-0.8-2 0.5-1 2.1-1 0.4-2-0.2-1.3-2-1.7-0.8-2 0.6-1 1.7-2 0.4-2-2.5-2-0.6-2.5 0.2-1.3 2-1.2 0.2-2-2.2-4-0.7-1.4-2.3-1.6-0.6-4 2.4-1.9-0.8-2.1-2-2.2 0-2.8 1.4-0.8-1.4 1.2-1-0.4-2.1-4 2-2-0.4-3-2.6-2 0.2-2 1.3-1-0.2-0.7-1.2 0.7-2.5-2 1.1-2 0-1.7-0.6-2.3-2.3-5 0.4 0-3.2-5 0.8-3-2.7-3.3-1-1.7-2.2-2-0.3-3 0.6-0.5-3.1-4.5 0.2-2-2.3-4-1.8-1.6-2.1-3.4-1.6-1.6-2.4-4.1-1-1.3-2.4-3 0.3-1-0.6 0-3.9-1-0.6-3.3 0.2-0.7-1 0-2.5-2 1-2.5-0.5-0.7-2 1-3-2.3-2-1.5-3.7-2-0.4-2.7 2.1-1.3-0.1-0.2-1.9 1.1-3-1.1-4 0.7-2-1.5-2.5-6.3-5.5-7.3-3-5.4-1.3-86.4 0.3-1.1 3-7.2 7-10.3 17.7-5 7-1 0.4 0-1.3 5-15.9-2 0.1-6 3.2-13 16.7-1 0.3-0.2-1.2 2.1-10 0-1-0.9-0.6-6.3 2.6-9.7 10.4-1-0.4-0.3-6-1.7-0.2-5.8 2.2-6.2 4.6-1 0.3-4-1.1-10 3.6 0-116.6 12 12.2 6 3.2 4 1 0.6-3.2-3.3-13-0.2-1 0.9-0.2 18 23.1 4 3.3 6 2.3 1-1 0.1-2.5-2.8-13 0-1 0.7-0.2 15 23.2 11 11.3 0.9-0.3 0.2-1-1.7-14 0.6-0.8 8.4 18.8 1.6 0.8 91 0.2 13-4.8 13-11.3 14.5-2.9 5.5-7.9 2-1.5 1 0.8 1 3.8 1 0.9 2-0.6 7-4.2 11-9.5 2-0.1 2 2 2 0.7 9-2.4 9-4.6 5 1.6 4-0.9 5 2.3 5-3.5 5 1.4 5-2.2 6 4.5 3-1.7 2 0.2 5 5.1 5 3.4 5 5.9 2-0.8 2 0.3 5 5.1 6 2 4-0.6 13 1.4 14-0.6 96 5.3 75 5.4 39 4.8 26 4.6 74 15.2 43 3.4 29 4.5 63 15 82 18.1 43 11 45 7.1 56.4 11.3 59.3 13 45.5 12 58.8 18 37.9 13 32.1 12.8zM595.3 1636.6l1.4-1 1-2 0.1-2-1.2-2-21.6-12-6.8-5-2.3-3 1.6-0.6 3 0.6 11 4.9 9.4 6.1 8.6 7.5 1-1.6 1-6.9 0.3-5-0.6-3-1.7-2-9-5.4-11.4-4.6-14.6-2.2-9.7 0.2-15.3 2.1-6-0.8-2 2.1-0.1 1.6 11.8 17 0.8 3-0.8 2-1.7 1.6-3 0.1-7-10-1.9-1.7-0.1-1-1 1.2-2 0.4-1.8 3.4-0.6 3 1.4 2.3 34 8.1 10 1.7 6.4-0.1 0.7-1-2.6-4 1.5 0 17 8.1zM840.8 1607.6l3.2-2-1.4-2-3.1-1.4-36.5-2.6-66.5 0.1-15.6 0.9-6 1-1.5 1 6.2 2 15.9 1.4 56-0.6 31 2zM507.7 1647.6l-0.2-1-1-0.6-1.1 0.6 0.1 1.2 1 0.4zM466.9 1669.6l-0.4-1.8-1-0.3-0.9 1.1 0.1 1 0.8 0.4zM474.6 1669.6l1.1-1-1.2-1.1-0.9 1.1zM484.8 1668.6l-0.3-1-1-0.1-0.7 1.1 0.7 0.8zM493.7 1668.6l-0.2-1.1-1.5 0.1-0.3 1 0.8 0.6zM503.1 1669.6l0.4-2.1-1-0.8-2 0.4 0 2.3zM507.8 1672.6l-0.1-2-2.2 0-0.8 1 0.8 1.8zM498.2 1673.6l0.3-2.2-2-0.1-0.6 1.3 0.3 1z"/>
<path fill="rgb(101,101,101)" d="M1377.5 1803.6l-23-0.5-38-2.3-25-2.4-26-3.4-130-22.6-57-11.9-65-12.5-46-10.4-62.1-20-26.9-6.9-58-10.8-31-3-25-3.8-93-18.9-12-3.1-29.4-9.5-34.6-8.5-51-13.9-19-6.8-5-1.1-5-2.9-7 4.7-3.7 4.5 0.7 2.4 3 0.7 1 3.4 3 0.4 2-1.7 3 1.6 13 0.5 22 4 38 9.1 43 11.8 31 7.5 26.7 8.3 7.2 3 0.8 1-11.1-1-15.9-3-120.7-26.4-14-3.8-10-4-4-0.7-2-1.4-3-0.9-2-3.5-3-0.2-1.3 2.9-1.7 0.7-1.7-0.7-1.3-2.3-2 0.1-0.9 2.2 0.5 1 2.6 1 0.4 2-0.6 1.9-2.3 1.1 0.3 1.3 2-0.1 1-2.2 2 0.1 1.8 0.9 1.2 2.1 4 0.9 2 1.7 5-0.7 4 1.9 4 0.1 14 3.3 47.2 14.7 15.6 6-2.8 0.5-11-1.5-58-10.8-4-1.6-10-1.7-4-2.4-2 0.5-1 1.2-2 0.3-1.9-2.5-3.1-0.3-1 0.4-0.9 2.9-2.1 0.4-1.1-0.4-0.9-3.2-3.3 0.2-0.4 3 4 1 0.7 2.8 1 0.6 2.3-0.4 1.7-2.7 2 0.2 2 3.1 4 0.8 2 1.9 5-1.2 3 2.1 10 2.1 4 1.9 9.2 2.8 7 4-2.2 1-9-0.7-14-2.3-4-1.6-4 0.2-7.1-2.6-1.9-1.9-5 0.9-3-2.5-3-0.9-2-3.3-2-0.1-1 0.4-1 1.9-2 0.1-1-1.6 0.3-1 2.7-0.2 0.6-0.8 0.1-2-0.7-1-2 0.1-1 0.8-0.2 2.1-0.8 0.8-3-0.3-2-3.5-1-0.1-2 0.1-2 2.8-2-0.4-1-2-2-0.5-2 0.2-1.2 1.9-1.8 0.5-1-0.9-0.2-1.6 2.7-1-0.5-2.2-2 0.2-0.6 2-1.4 0.5-3-0.1-1.6-2.4-1.4-0.4-1 0.5-1 2.1-3 0.1-2-2.3-2-0.9-4 2.3-1.4-0.4-1.6-2-4-0.5-2-3-1.8 0.5-1.2 1.3-2 0.2-3-2.7-4 0.1-0.9-0.9-0.1-1.8-1-0.6-4 1.7-1.1-0.3-1.9-2.2-4-0.9-2-2.6-5 1-2-2.3-3.5-1-2.5-2.6-4-0.8-1-2.4-5 0.4-2-2.5-3.5-1.1-1.5-2-3.7-2-1.3-2.1-4-1.9-1-1.6-4-0.9-0.5-3.5-3.5-1.3-1-2.8-1-0.3-3 1.4-1-0.3-0.6-1.7 0.9-2-0.2-2-2.1-1.6-1.6-3.4-3.4-0.6-2.2 1.6 0.9-3-1.5-5 1-2-2.2-2.8-6.1-5.2-7.3-3-5.6-1.4-87 0.4-1.1 3-7 7-9.9 17-4 5.2-0.1-3.2 4-11-0.9-1.3-8.7 4.3-11.3 14.3-0.5-2.3 1.7-8-1.2-0.9-7 2.8-8 8.2-1.2-0.1-0.2-4-2.6-0.5-5 1.7-6 3.2-7 1.2-10 3.5 0-114.6 12 12.4 4 2.6 6 2.3 1-0.1 0.6-1.7-1.6-13.1 17 20.6 4 3.1 5 1.9 1.3-0.5 0.4-2-1.7-13.1 15 21.9 10 10.7 1.5 0.5 0.3-1-0.9-10 1.1-0.7 7 13.6 92.3 0.1 12.7-4.7 10-9 4-2.7 14-2.6 6-7.8 1 0 2 5.1 2-0.3 8-5 8-7.5 3-1.9 1.9 0.4 2.1 2 2 0.2 8-2.2 10-5 4 1.9 5-1.2 5 2.3 5-3.5 5 1.5 5-2.2 6 4.5 3-1.7 2 0 5 5.1 5 3.4 4 5.1 1 0.7 2-1.1 2 0.3 5 5.3 6 2.3 5-0.4 13 1.3 13-0.4 94 5.5 74 5.5 38 4.6 29 5.3 75 16 43 3.3 29.3 4.6 62.7 15.2 81 17.8 44 11.4 39.2 6.6 72.4 16 65.1 16 26.2 8 28.6 10 31.4 12 22.4 10 18.2 10 12.5 9 9.4 10 3 5 2.3 6 1.3 8 0.2 13-0.6 6-1.8 5-2.2 3-3.7 3-9.9 4.2-15.7 2.8zM596.6 1636.6l4-8 1.5-16-1.7-3-9.9-6.1-6-2.8-6-1.9-15.6-2.2-10.4 0.2-14 1.9-5-0.9-3 2.2 2 4.6 10.5 15 0.9 3-0.9 2-1.5 1.4-3 0.1-11-15.6-0.8 0.1-3.5 10 0.5 3 1.8 1.5 6 0.7 35.1 7.8 10.9 0.8 2.2-0.8 0.8-1.4 12 5.1 2 0.2zM847.7 1609.6l7.6-2 0.7-1-0.5-1-5.3-3-9.7-3.2-32-2.1-33-0.9-37 0.8-28 1.9-9 1.4-2.6 1.1 0.3 1 6.4 2 25.9 3 65 0.6 43 2.1zM593.5 1626.7l-7.3-3.1-8.9-5-7.1-5-1.7-2.6 1-0.4 4 1 10 5 9.1 7 1.6 2 0.1 1zM498.6 1664.6l-0.2-1-0.9-0.5-1.2 0.5 0.2 1.3zM507.3 1665.6l0.1-2-1.9-0.5-0.8 1.5 0.4 1zM485.2 1669.6l0.2-1-0.9-1.5-1.9 0.5-0.1 2.1zM493.6 1669.6l0.6-2-1.7-0.8-1 0.5 0 2.2z"/>
<path fill="rgb(105,105,105)" d="M1319.5 1792.6l-26-0.6-27-2.5-128-19.5-128-25-43-9.8-62-19.6-26-6.5-59-10.8-35-3.1-24-3.5-50-9.6-41-8.9-38.9-11.6-38.1-9.4-49-13.3-12.8-4.3-7.2-3.3-4-0.9-2.4-1.8-1.6-2.5-1-0.3-5 5-2-0.1-2-1.3-1.4 1.2-1.1 5 0.1 4 0.4 1.2 2.7 0.8 0.6 2-3.3 1.3-0.6 3.7-2.4 1.2-0.8 1.8 0.8 0.8 2-0.1 1-2.8 2 0.2 0.9 0.9-0.3 2-2.2 1-0.2 2 0.7 1 2.1 0.1 1.5-2.1 1.5-0.4 1 0.4 2 2.8 3 0.5 3 2.2 5-1 3 1.6 19 3.7 42.1 13.2 12.2 5-4.3 0.2-8.8-1.2-50.2-9.2-9-3.2-5-0.1-4-2.5-2 0.1-2 1.9-1-0.4-0.6-1.6 1.6-1.1 0-1.5-1-0.1-1 1.8-4 0.1-3-3.3-2 0.8-1 2.3-4 0.6-1-3.3-2-0.1-0.8 1.8 0.8 1 2 0.2 0.9 0.8-0.4 3-1.5 0.5-2 0.2-0.7-0.7-0.3-2.5-2-0.7-1 0.2-1 3.2-1 0.3-3-0.2-1-2.5-1-0.7-2 0.4-1 2.7-1 0.4-3 0-1.3-2.6-1.7-0.8-1 0.3-1.5 2.5-1.5 0.3-2-0.5-2-2.5-2 0.3-2 2.4-2 0-2-2.6-2-0.6-1.6 0.2-2.4 2.1-3-2.6-3.7-0.5-2.3-2.9-2 0.5-1.4 1.4-1.6 0.2-3-2.7-3.5-0.5-1.1-2-1.4-0.8-4 1.8-3-2.7-4-1.1-2-2.3-5 0.9-2-2.5-3-0.5-3-2.8-3-0.8-2-2.6-5 0.5-1-3-4-0.3-2-2.4-3.1-1.4-1.9-2.6-3-1.2-2-2.5-3-1-1-2.8-3.3-1.9-1.7-2.7-2-0.2-2.4 0.9-0.5-1 0.8-2-0.3-2-2.2-2-1.4-3.3-4.3-1.7-1.9-4 0.8-3-5.7-6-7.4-4-8.5-2.5-87.6 0.5-1.1 3-6.8 7-9.5 16-3 3.3 0.9-4.3 2.7-7-0.6-2.2-6 2.3-4 2.6-8 10.4-2 1.4 1.2-8.5-1.2-0.8-7 2.3-8 6.8-1.3-2.3-2.7-0.8-6 2-6 3.1-6 0.8-11 3.7 0-112.5 13 13.2 4 2.6 5 2 2 0 0.5-1.1-1.1-10 0.6-0.9 1 0.5 15 17.5 3 2.3 5 2 1.9-0.4 0.3-1-0.8-10 0.6-1.4 13 18.7 9.6 10.7 2.4 1.1 0.6-1.1-0.9-7 0.3-3.1 2 2.3 4.7 9.8 93 0 12.3-4.6 10-8.9 4-2.7 14-2.5 4-5.4 2-1.4 2 4.9 2 0.2 8-5.1 11-9.7 2-0.1 2 1.8 2 0.7 9-2.6 9-4.7 2 0 3 2 5-1.6 5 2.4 5-3.7 5 1.8 5-2.3 6 4.6 3.5-2.1 1.5 0.1 5 5.1 5 3.3 4 5.3 1 0.3 2-1.1 2 0.2 6 6.6 6 1.6 5-0.3 12 1.2 13-0.2 93 5.6 71 5.6 37 4.4 33.8 6.3 75.2 16.8 42 3 29 4.5 69 17.2 76.9 16.5 43.1 11.3 41 7.6 110.9 28.1 32.7 10 23.6 9 19.7 9 20.1 11 13.1 9 5.6 5 5.1 6 3 5 2.2 6 1.3 8 0.1 13-0.8 6-1.6 4-2.3 3-3.8 3-10 4-17.9 2.8zM852.9 1611.6l13.6-1.5 3.7-1.5 0.2-1-2.3-2-4.6-2-23-6.8-41-1.8-37-0.5-31 1.1-34 3-7 1.4-2.4 1.6 4 2 9.6 2 27.8 3.1 69 1.3 41 2.1zM596.5 1637.6l2-2 2.3-5 1.8-18-2.1-3.6-9-5.7-5.5-2.7-6.5-2.1-17-2.6-12 0.2-13 1.6-5-0.8-3 2.2 3 5.7 10.4 14.8 0.9 3-2.3 3.2-2 0.4-2-1.1-11-16.3-0.9 0.8-3.7 12 0.6 2 2 2.1 7 0.7 35 7.4 9 1.2 9 0.2 8 2.6zM588.5 1623.6l-11.9-6-4.1-3-1.2-2 4.6 1 7.5 4 5.1 4 0.8 1zM686.5 1686.7l-10.3-1.1-15.6-3-109.1-23.8-14-3.9-9-3.8-4-0.9-2-1.6-3.6-1-0.6-1 1.2-1.3 10 0 23 3.9 37 9 72.5 19.4 19.1 6 4.9 2 1.2 1zM502.5 1660.6l0-1.5-1-0.3-0.7 0.8 0.4 1zM453.2 1664.6l-0.7-1.1-1.4 1.1 0.4 1 1 0zM489.5 1664.6l0-1-1-0.6-1.2 0.6 0.2 1.4zM507.5 1668.6l-2 0.7-0.8-1.7 0.4-1 2 0zM484.5 1673l-1.8-0.4-0.2-1.8 2.1-0.2 0.7 1zM493.5 1674l-2-0.4-0.6-3 3.6-0.6 0.6 0.6-0.6 2.9zM475.5 1672.7l-1.1-0.1-0.5-1 0.6-0.7 1-0.2 0.6 0.9zM503.5 1674.1l-2 0.2-1.5-0.7-0.2-2 0.7-0.8 2 0 1 0.8zM551.5 1687.7l-5 0.4-14-2-4-1.7-4 0.2-6-2.1-3-2.7-5 1.2-2-2.3-3.9-1.1-0.5-2 0.5-1 3.9-0.4 1-2.4 1-0.4 1 0.4 0.4 1.8-2.4 1.1 0 3.4 2-0.2 2-2.9 3 0.2 3 2.4 5-1.2 3 1.9 6 2 4 0.1 10 4.4 3.5 0.8 1.2 1z"/>
<path fill="rgb(109,109,109)" d="M1288.5 1782.6l-15-0.1-17-1.3-120-14.5-22-3.6-93-18.2-53-11.9-61-18.7-27-6.8-61-10.8-38-3.1-22-3-40-7.5-43-9.1-16-3.9-31.1-9.5-34.9-8.5-48-12.9-15-5.2-12-6-0.5-2.4 0.5-1.3 1-0.3 5 3.3 6-0.3 37.7 7.6 16.3 1.9 8 2.1 6.2-1 2.1-7 1.3-16-0.2-3-1.2-2-9.2-6.3-6-3.1-8.5-2.6-9.5-1.7-14-0.7-17 1.6-5-0.7-1.5 0.5-2.3 2 14.7 22 0 3-2.9 2.4-3-1.1-11-16.4-1-1.1-0.5 0.2-2 8-2.5 4.7-1 0.2-3-2.3-1 0.7-2.2 6.7-1.8 2.6-2 1-3-1.6-2 1.5-2.2 5.5 0.9 5-2.5 3 0.1 1 2.6 2 0 2-0.5 1-2.4 1.2-0.3 1.8 0.5 1 3 1 0.8 3 5 1-0.4 2 0.4 1.1 1 0.3 1.3-0.4 1-2 1.7-0.6 2 0.4 3 2.4 4.3-1.2 3.7 1.6 11 1.8 35.9 10.6 14.4 5 3.7 2.1-4 0.1-8.8-1.2-42.2-7.7-9-3.5-5 0.2-2.3-2-4-1-1.7-2.7-1 0-2 2.2-2 0.3-1.6-0.8-1.4-2.4-2-0.1-1.3 0.5-0.7 2.1-2 0.8-1.8-0.9-0.7-2-2.5-0.3-1 0.9-0.3 2.4-4.5 1-1.1 3-1.1 0.2-2-0.6-1-2.6-1-0.2-2 0.2-1.6 3-1.4 0.3-2-0.3-1-2.3-2-0.8-1 0.2-2 2.7-1 0.2-2-0.7-1-1.9-2-0.5-4 2.9-1.7-0.8-1.3-2.2-4-0.4-1.1-2.4-0.9-0.5-1.5 0.5-1.3 2-2.2 0.1-1-0.2-3-3.1-2 0.2-2 1.8-1 0-2-2.5-4-0.6-2.1-2.7-1.9-0.1-3 1.6-1.1-0.5-1.2-2-3.7-0.7-3-2.8-4.9 0.5 0.8-2-0.9-1.5-4 1.3-1.6-0.8-1.6-2-3.2-1-2.6-2.8-4 0.2 0-2.4-1-1.2-3 1.1-2-0.6-1.7-2.3-3.3-1.4-1.9-2.6-2.6-1-2.5-2.8-2.7-1.2-1.3-2.8-3-1.7-1.5-2.5-3.9-1-0.5-3-2.7-3-0.7-3-3.7-0.9-1-1.1-1.5-3 0.5-3-5.9-6-7.3-4-8.8-2.5-88.2 0.5-1.1 3-6.6 7-10.1 15.7 0-1.8 2.6-6.9-0.6-1.9-1-0.4-9 4.7-9 10.2-0.7-0.6 0.8-5-1.1-1.6-1-0.2-6 2-8 5.5-3-1.6-2 0-12 5.1-6 0.7-11 3.7 0-110.5 14 14.1 3 2 6 2.3 2.2-0.5-0.8-10 0.6-0.9 1 0.5 15 17.1 3 2 5 1.8 1-0.1 0.8-1.4 0.2-9.4 15 20 6 6.4 3 1.8 1.3-0.8-0.9-7 0.6-2 2 2.9 3 7 1 0.2 92 0.1 13-4.7 10-8.9 4-2.6 14-2.5 5-5.4 1 0.3 1 3.7 1 0.5 3.1-0.6 5.9-4 9-8.4 3-2 2 0.4 2 1.8 2 0.2 8-2.4 10-5.1 2 0.3 3 2.1 5-1.9 5 2.4 5-3.9 6 2 4-2.2 6 4.5 4-2.4 1 0.2 5 5.2 5 3.2 4 5.4 3-1.3 2 0.2 6 6.9 6 1.8 30 1 65 3.9 79 6 38 3.7 25 3.8 27 5.4 65.3 15.2 5.8 2 0.5 1-4.6 1-6 0.2-56-0.9-29 0.5-43 3.6-11.4 1.6-6.2 2 0.2 1 1.9 1 13.2 3 22.7 3 20.6 1.5 60 1.3 42 2.2 24-0.3 18-0.7 8.4-1 2.7-1-0.1-1-1.6-1-4.9-2-32.9-10-5.1-2-0.2-1 12.7-0.2 21 1.7 17 2.2 16.8 3.3 15.2 4 11 4 4.8 3 0.7 1 0.1 3 1.2 1 5.9 2 15.3 2.6 36 3.3 25.7 4.1 31.3 6.5 37 9.7 38 7.5 67.9 19.3 48.7 15 17 6 16.1 7 19.4 11 7.9 6 6.1 6 4.4 6 3 6 1.7 7 0.6 8-0.1 10-0.8 6-2.4 5-3.5 3.6-5.9 3.4-8.1 2.6-9 1.5zM583.5 1619.7l-1.6-0.1-5.1-3 0.7-1zM673.5 1683.7l-19.2-3.1-102.8-22.1-19.1-5.9-6.6-3-1.1-2 1.8-1.6 3-0.2 9 0.9 14 2.8 39 9.7 66.9 18.4 12.5 4 3.5 2zM506.5 1652l-1 0.3-0.7-0.7 0.3-1 1.4 0zM511.5 1656.9l-2 0.7-0.6-1 0.6-1.4 1-0.3 1.1 0.7zM503.3 1660.6l-0.2-2-1.6-0.4-1 0.6 0 2.1 2 0.4zM493.6 1660.6l-0.1-1.6-1-0.2-0.7 0.8 0.7 1.2zM489.6 1665.6l0.4-1-0.5-1.6-2-0.2-0.8 1.8 0.7 1zM497.5 1669.7l-2-0.5 0-3.2 3.1 0.6 0.2 2zM493.5 1673.5l-2-0.7 0-1.6 2-0.5 0.9 0.9zM502.5 1673.7l-2-0.6 0-1.5 2.3 0zM507.5 1677.8l-2.1-0.2-0.5-2 1.6-0.6 1.6 0.6zM545.5 1686.6l-4 0.1-4-1.3-4 0.4-4-1.7-5-0.4-2-1.1-3-0.3-1.4-0.7-1.6-2.2-3.6-0.8 0.2-2 0.8-1 1.6-0.2 3 2.7 3-0.1 2-0.9 10 4.1 4-0.1 7 3.1 1.3 1.4z"/>
<path fill="rgb(113,113,113)" d="M1261.5 1770.6l-57-1.7-65-4.9-28-4.1-88-17-45-9.8-22-5.8-51.8-15.7-25.3-6-62.9-10.7-17-1.8-25-1.4-16.3-2.1-31.7-5.7-43-8.8-22-5.2-30.7-9.3-81.3-20.8-17.9-6.2-4.7-3-0.6-1 0.3-1 4.9-1 36.2 7 32.8 5.2 10 2.9 3.4-0.1-3.4-4.5-6-3.1-1.1-1.4-1-8 1.2-13-2.1-3.9-9-6.1-5.9-3-8.1-2.4-10-1.8-14-0.9-18 1.5-5-0.7-3 1.9-0.1 1.4 2.1 3.5 12.7 18.5 0.3 2-0.9 2-3.1 1.2-2-1.1-13.2-19.1-0.2 4-2.6 7.1-2 1-3-2-1 0.6-4 9.7-2 1-4-1.3-4.3 8.9 1.5 4-2.5 3-0.1 2 2.8 3-0.4 1.5-2.7 1.5 0.1 3 3.6 1.9 1 3.1 3 0.3 0.8 0.7 0.2 2.5-4 0.3-1-3.7-3 0.3-0.9 3.6-4.1 0.7-1.5 3.3-2.9 0-1.3-3-2.3-0.2-1 1-0.3 2.2-4.4 1-0.7 2-1.6 1.1-2-0.8-1-2.3-2-0.4-1.7 0.4-1 2-1.3 0.7-1.7-0.7-1.1-2-1.2-0.3-2.6 0.3-1.4 2.2-2 0-1.1-2.2-4.4-1-2.5-2.9-1 0.1-3 2.6-2-0.3-1.7-2.5-1.3-0.4-2-0.1-2 1.8-1 0-0.7-1.3 1.7-1.1 0-2-1.9 0.1-1.1 1.6-1 0.2-3-0.6-1.5-2.2-1.5-0.5-2 0.3-2 1.3-1.1-1.1 1.5-2-0.4-1.3-1 0-2 1.6-2.9-0.3-2.1-2.4-4-1-1.6-2.6-1.4 0.1-2 1.3-2-0.3-1.5-2.1-3.5-1.2-2-2.5-4-1.3-0.8-2-1.2-0.7-4 1-2-3-3-0.5-2-2.8-3-1.2-2-2.5-3-1.3-1.6-3-3.2-2-1.2-2.2-4-1.7-0.9-3.1-2.5-3 1.4-3-0.4-1-1.6-0.4-2 1.1-2-0.6-1.3-3.1 0.3-2-7-7.2-7-3.8-9-2.6-64 0-24.8 0.6-1.1 3-6.4 7-5.7 8.6-0.8-0.6 0.4-1-1-3-1.6-0.3-9 5.2-8 8.2-0.4-4.1-0.6-1.1-2-0.6-5 1.7-8 5.3-4-1.4-2 0.3-11 4.6-6 0.6-12 3.9 0-108.4 14 14.1 4 2.7 5 2 2 0.4 1.2-1.1-0.7-9 0.5-1 1 0.5 14 15.8 6 3.4 3 0.8 1-0.6 0.5-7.9 0.5-0.7 1 0.5 14 18.6 3.2 3.6 4.1 3 2.2 0 0.5-1-0.9-6 0.9-0.7 3.6 7.7 1.4 0.2 92 0.1 13-4.7 10-8.8 4-2.7 14-2.3 5-4.2 1.2 3.4 5.8-0.8 5-3.4 11-10 2-0.1 2 1.7 2 0.6 9-2.7 10-5.1 2 0.5 3 2.1 5-2.2 5 2.5 5-4.1 6 2.4 4-2.4 6 4.6 3-2.1 2-0.4 5 5.2 5 3.1 4 5.5 3-1.7 2 0.2 7 7.8 6 1.6 5-0.3 10 1.2 14 0.2 65 4 76 6 36 3.6 24 3.5 23 4.5 55.5 13.5 5.3 2-1.1 1-7.7 0.6-56 0.4-23 1-46 4.9-7 1.4-3.5 1.7 3.5 2 8.6 2 27 4 25.4 2.2 165 5.7 21 2.6 50.6 8.5 61.4 5.6 33 5.9 34 8.6 24.8 4.9 20.2 5.5 68.1 23.5 42.7 18 14.5 8 10.7 9 3.9 5 2.7 5 2.3 10 0 17-2.3 7-5.2 5-8.4 3.3zM499 1647.6l-0.5-1.8-1-0.2-1.3 1 0.1 1 1.2 0.7zM659.5 1679.8l-5.3-0.2-21.2-4-81.5-17.5-19-5.9-6-3.6-0.2-1 2.2-1.2 8 0.5 16 2.9 42 10.6 59.6 17.2zM498.6 1656.6l-0.1-2.5-2.4 0.5 0.3 2zM494.3 1660.6l-0.8-2.2-2 0.6 0 1.9 2 0.4zM584.5 1678.6l-6.5 0-31.5-5.2-14.8-3.8-3.2-1.9-4 0.5-3-2.1-3-0.6-2-3-1-0.4-2 0.2-2 2.6-2-0.3-0.6-2 0.6-0.8 3-0.6 1-2.1 1-0.6 2 0.7 2 2 5-0.8 10 2.7 4 0.1 14 3.6 20.8 6.8zM502.5 1665l-2.2-0.4-0.5-2 0.7-0.7 2.9 0.7zM461.5 1665.6l1-1-0.4-1-1.6-0.3-0.7 1.3 0.3 1zM471.6 1664.6l-1.1-1.5-1 0.2-0.5 1.3 1.5 1zM480.7 1664.6l-0.2-1-1-0.6-1.4 0.6 0.4 1.7 1 0.1zM489.5 1669l-2 0.3-0.8-0.7-0.2-2.3 3.3 0.3zM497.5 1669.2l-1.7-0.6-0.1-1 0.8-1 1.9 1zM516.5 1677.9l-2 0.1-0.5-1.4 1.5-0.5zM521.5 1681.7l-2.3-0.1-1.3-2 3.6-0.6 0.9 0.6zM535.5 1684.7l-2 0.4-7-2.3-0.7-2.2 1.2-1 1.5-0.1 4 2.5 5.5 0.6 0.3 1zM542.5 1685.8l-1.7-0.2-1.2-1 0.9-0.8 2 0.4 0.9 1.4z"/>
<path fill="rgb(117,117,117)" d="M1207.5 1760.7l-24 0.6-48-0.9-23-3-66-12.4-74-15.7-66-19-29-6.7-68.6-11-15.4-1.6-23-0.9-14-1.6-31-5.3-40-8.1-25-5.9-28.4-8.6-80.6-20.5-11.3-3.5-11-5-1.2-2 1.5-1.2 11 0.9 58 10.9 13 3.5 5 0-1.2-2.1-10.1-9-1.3-2-1-6 1.2-12-0.5-2-1.5-2-8.6-6.1-6-3.2-9.4-2.7-11.6-2-13-0.7-17 1.3-5-0.6-4 1.8 3.8 7.2 11.8 17 0 3-2.6 2-2.9-1-13.1-19.2-0.7 0.2-1.3 6.7-2 3.3-1 0-3-2.4-2 2.6-3 8-2 1.1-3-2.3-1 0-2 3.8-1 4.2-2.2 4 1.4 4-2.2 2-0.5 4-2.5 0.7-0.9 1.3 0.8 2 2.6 1 0.2 3-2.7 1-1.1 2 1.1 1.6 3 0.4-0.3 3-0.7 0.7-3 0.2-1-3.1-3-0.1-0.6 1.3 0.4 2-0.8 0.8-2-0.4-2 0.5-1 2.8-1 0.4-3 0-1-2.7-2-0.3-0.8 0.9-0.1 2 3.5 1-0.4 2-1.2 0.7-1.7-0.7-1.3-2.6-4-0.2-0.7-2.2-1.3-0.9-1.7 0.9-0.5 2-0.8 0.4-4 0.1-0.9-2.5-1.1-0.8-1.8 0.8-1.2 1.9-3-0.1-2-2.7-1-0.3-2 0.6-1 1.7-2 0.4-3-3-3.2-0.5-1.8-2.6-2 0.1-2 1.9-2-0.1-2-2.4-4.2-0.9-1.8-2.8-1-0.1-2 1.7-2 0.2-3-2.8-3.6-1.2-1.4-2.2-2-0.2-3.1 1.4-1.9-2.5-4-1.1-2-2.6-3-0.8-2-2.7-2-0.5-3 0.6 0-3.5-1-0.2-2 0.9-2-0.3-2-3.2-3-0.8-1.6-2.3-3.4-1.6-1.1-2.4-3.1-2-1.8-3-3.4-1-0.9-3-2.5-3 1.5-3-0.2-1-4.5-2.2-10.9-10.8-8.5-4-6.6-1.7-89 0.6-2.3 4.1-5.5 6-3.2 4.9-1 0.7-1-0.5-1-2.5-2.2 0.4-6.8 3.9-8 7.1-1 0.1-2-3.5-2-0.1-5 1.7-7 4.9-2 0-2-1.3-2 0.1-5 1.5-6 3.1-7 0.7-12 3.8 0-106 14 13.7 7 4.3 4 1.3 2-0.9-0.5-7.4 0.5-2 3 2.2 11 12.7 4 2.8 6 1.6 0.9-2.3 0.1-5.7 1-0.5 3 3.1 13.5 18.1 4.1 3 3.8 0-0.4-5.3 1 0.3 2.2 5 1.8 0.3 92 0 13-4.5 11-9.6 3-1.9 15-2.5 3-2.6 2 2 7-0.6 15-12.9 2 0.3 2 1.7 2 0.1 8-2.5 11-5.4 5 2.7 5-2.4 5 2.5 5-4.1 2 0.3 4 2.4 4-2.6 6 4.6 3.2-2.3 1.8-0.4 5 5.3 5 3 4 5.6 2-1.9 3 0 7 7.9 7 2.2 4-0.5 10 1.1 79 4.6 108 9.6 22 3.1 22.6 4.4 36.3 9 12.1 4-0.8 1-8.4 1-47.8 0.9-19.5 1.1-43 5-14.2 3-0.3 1 1.9 1 12.6 3 26.7 4 30.8 2.9 66 2.3 83 3.9 17 1.4 21 3 55 9.5 55 5.6 21 2.8 64 13.7 27 7.6 51.4 21.3 20.5 11 8.2 6 6.1 6 5.6 8 2.9 8 0.9 16-1.2 9-3 5-6.4 4.5-9 2.9zM650.1 1600.6l-0.2-1-5.4 0 0.8 1zM499.1 1639.6l-0.4-2-2.2 0 0.1 2zM501.5 1647.9l-1.4-0.3 0.4-2 1.7 1zM641.5 1675.8l-4-0.2-27.2-5-58.8-12.8-19-6.1-4.3-3.1-0.1-1 9.4-0.2 16 2.9 54.2 14.3 29.3 9 5 2zM494.2 1651.6l-0.7-1.5-1.4 0.5 0.4 1.6zM502.5 1657.1l-2 0.2-1-0.7 0.1-2 0.9-0.8 2.5 0.8 0.1 2zM507.5 1660.9l-2.8-0.3 0-2 2.8 0zM484.9 1660.6l-0.4-1.7-1.7 0.7 0.7 1.3zM516.5 1660.6l-1 0.7-1.7-0.7 0.3-1 1.4-0.3zM493.5 1665.3l-2.5-0.7-0.4-2 0.9-0.9 3 0.5-0.1 2.4zM501.5 1664.7l-1-1.5 1.9-0.6 0.4 1zM511.5 1664.3l-1 0.2-0.9-0.9 0.4-1 1.9 0zM522.5 1664.8l-2 0.6-2-0.5-0.7-2.3 3.7-0.6 1 0.6zM576.5 1676.7l-7.5-0.1-22.5-3.6-14-3.6-4-2.3-4 0.2-0.7-1.7 2.7-3.2 3 0 4 1.4 4-0.2 15 4 20.1 7zM461.5 1668.7l-1-0.5-0.2-1.6 2.2-0.5 0.3 1.5zM470.5 1668.9l-1.2-0.3-0.6-1-0.1-1 0.9-0.5 2.4 0.5-0.4 1.8zM488.5 1669l-1.3-0.4 0.3-1.9 2 0.7zM529.5 1682.4l-2-0.4-0.2-1.4 2.3 0 0.7 1z"/>
<path fill="rgb(121,121,121)" d="M1152.5 1756.7l-15 0.6-22-2.1-88-16.3-56-12.1-68.7-19.2-33.3-7-70-10.4-44-2.6-53-9.4-41-9.1-31.9-9.5-77.1-19.4-11.4-3.6-10.7-5-0.7-2 1.8-0.6 9 0.6 58 11.3 14.2 3.7 3.8 0.5 2.2-0.5-1.1-2-13.3-13-1-6 1.2-12-1.7-3-8.3-6.1-6-3.4-9-2.7-12-2.1-15-1-17 1.2-5-0.6-3 1.7-0.1 2 1.8 3 13.8 20 0 3-2.5 1.9-2.7-0.9-14.3-20.4-0.6 4.4-1.4 3.7-1 1.2-1 0-3-3-1 0.7-5 11.6-1.7-0.2-2.3-2.3-1 0-1 1.3-2.8 9-2.7 5-2.7 1-0.8 1 0 2.1 3 1.6 0.3 1.3-0.3 1.2-3 1.3-0.2 3.5 3.2 1.3 0 2.6-3 0.8-0.8-0.7-0.2-2.9-2 0-1 0.9 0 1.3 3.7 1.7-0.2 3-0.5 0.9-3 0.3-2 3.7-3 0.3-1 2.8-2 0.9-1.9-0.9-0.8-2-1.3-0.3-1.5 0.3-1.5 2.9-1 0.2-2-0.1-2-3-1-0.2-1.2 0.2-1.8 2.8-1 0.3-2.3-0.1-1.7-2.7-1-0.4-1.3 0.1-2.7 2.7-2-0.3-1.5-2.4-1.5-0.4-2 0.3-1.6 2.1-1.4 0.2-2-2.8-4-0.8-2-2.7-2 0.1-2 2.1-2-0.1-2-2.6-4-1.1-2-2.5-5 1.8-2.4-2.6-3.6-1-2-2.6-2-0.3-3 1.3-0.8-1.4 0.9-1-0.1-1.5-1-0.2-2 1.3-2-0.1-3-3.1-3-1-1.7-2.4-3.8-1-1.5-2.8-1.1-0.2-2.9 1.1-1-0.5 0-4-4 0.7-2-2.8-3.8-1.5-1.2-3.1-3-1.3-1-3.1-4-0.9-1-3.9-1.9-1.7 1.1-2-0.1-2-5.1-2.5-11-10.7-8.2-3.8-7.8-1.9-88 0.7-1 0.2-1.8 4-8.2 9.7-1-0.1-0.3-1.6-0.7-0.3-4 1.2-6 3.4-7 5.9-1.9-0.2-2.1-2.5-2 0.2-5 1.8-7 4.7-5-1.5-5 1.4-7 3.3-6 0.4-13 4 0-103.5 15 14 6 3.7 5 1.6 1.7-0.6 0.3-9.1 3 2.1 10 11.5 5 3.4 4 1.4 1.7-0.3 0.7-2 0.2-5 0.4-0.9 1 0.3 14.9 19.6 4.1 3 5.2 0 0.8-1.2 0.6 1.2 2.4 0.3 92 0.1 13-4.5 11-9.6 3-1.8 15.8-2.5 1.2-1 4 0.5 6.8-0.5 11.2-10.7 3-1.7 5 2.3 9-2.9 10-5.2 2 0.1 4 2.6 5-2.7 4 2.6 1 0 5-4.3 2 0.4 3 2.6 1 0.1 4-2.8 2 1 4 3.7 3-2.3 2-0.6 5 5.4 5 2.7 4 5.8 2-2.4 3 0 8 9.1 6 1.5 5-0.4 10 1.2 79 4.8 102 9.4 23 3.3 22.5 4.4 35 9 2.5 1 0.7 1-2.8 1-7.9 0.7-56 2.2-54 6.8-17 0.2-5.1 1.1-0.5 1 1 1 4.6 1.5 17 0.7 36.6 5.8 31.4 3.3 71 2.9 74 4.1 23 1.9 23 3.4 58 10.4 79 9.7 57 12 14 3.9 14 4.7 39 19.7 11 7 8.8 7 5.4 6 4 7 2.2 10-0.2 13-2.1 7-4.3 5-6.8 3.6-11 2.9-13 1.9zM494 1643.6l0.4-1-0.9-0.8-1 0.7 0.7 1.1zM628.5 1672.7l-21-3.1-55-11.8-18.8-6.2-1.7-1-1.4-2 6.9-0.8 15 2.6 53.4 14.2 18.5 6zM489.6 1656.6l-0.1-2-2.1 0 0 2zM501.5 1656.8l-1-0.2 0-2.1 2 0.4 0 1.4zM485.6 1660.6l-1.1-2.2-1.4 0.2-0.7 1 0.1 1.2 1 0.6zM498.5 1660.8l-2 0.4-1-0.6 0-2.8 3 0.3 0.5 1.5zM506.5 1660.6l-1-0.2 0-1.5 1-0.2 0.8 0.9zM493.5 1664.9l-2-0.3 0-2.2 2.4 0.2 0.3 1zM520.5 1664.7l-1.2-0.1-0.8-1 0.9-1 2.1 1zM568.5 1675l-8-0.4-14-2-14-3.7-3-2.1-3-0.8-0.5-1.4 0.5-1.1 2-0.7 4 1.6 6 0 13 3.3 13.4 4.9 4 2zM470.5 1668.6l-1.3-1 1.3-1 0.8 1zM479.5 1668.9l-1.2-0.3-0.4-1 0.6-1.2 2 0.7z"/>
<path fill="rgb(125,125,125)" d="M1142.5 1753.6l-14 0-16-1.6-89-16.3-53-11.4-65-17.7-33.5-7-75.9-11-15.6-1.3-20-0.3-13-1.3-44-7.8-41-9-32-9.4-78-19.6-13.1-4.3-7.6-4-0.3-1.3 2-0.7 10 0.7 44 8.7 27.5 6.6 5.5 0-0.8-2-12.2-11.3-2.9-3.7-0.9-6 1.4-11-1.6-3.1-9-6.8-6-3.2-10-2.8-12-2-15-1-16 1.1-5-0.6-4 1.7 0 1.2 3 5.1 13.4 19.4 0.3 2-0.7 1.5-2 1.3-2.5-0.8-15.5-22 0.5 1-0.5 3.9-2 3.7-1-0.1-3-3.6-1 0.7-3 8.8-2 3.8-1 0.2-3-2.7-1-0.2-1 1.2-4 11.2-1 0.6-3-1.8-0.9 1.3 0 1 2.8 1-0.2 2-1.7 0.7-2-1.8-1 0.9 1.3 2.2-0.1 3-2.8 3 0.1 1 2.5 1.6 0.2 2.4-0.3 1-2.9 1.2-0.5 1.8 0.5 1.3 3 1.2-0.1 2.5-3.9 0.5-0.4-2.5-0.6-0.6-2 0.1-0.7 2.5 3.4 1-0.7 3.5-3 0-1-2.7-2-0.3-1.1 0.5 0 3-0.9 1-1-0.6-3 0.4-1 2.4-1 0.6-2-0.2-1.4-2.6-1.6-0.5-1.9 0.5-1.1 2.3-1 0.5-2-0.1-1.7-2.7-1.3-0.4-2 0.3-2 2.5-2-0.4-1-2.1-2-0.6-2 0.1-2 2.4-1 0-1.1-1.8 2.7-2-0.6-1.4-1-0.3-2 2.3-2 0.1-2-0.6-1.2-2.1-1.8-0.5-4 2.4-1.5-0.9-1.3-2-3.2-0.6-3-2.9-2 0.1-1.4 1.4-1.6 0.2-2-2.6-3.2-0.6-2.8-3-3-0.3-2-3-1.8 0.3-1.2 1.1-2 0-2-2.6-3-0.9-2.1-2.6-3.9-1.6-1.5-2.4-4.7 0 0.4-3-0.8-1-4.4 0.8-0.9-1.8 0.9-2.2-1-0.5-2 1.1-2.2-0.4-0.8-2 0.9-2-0.9-0.9-2 0.8-1.8-0.9 0.8-4.2-1-0.5-3 1.5-1.8-0.8-0.2-2 1.1-2-1.9-2-0.6-3-6.6-3.6-9.6-9.4-8.3-4-7.1-1.9-67 0.1-23 0.6-2.3 4.2-6.7 6.8-4 0.4-6.3 2.8-9.7 7.4-1 0-2-2.6-2-0.1-5 1.6-7 4.7-1.5 0-2.5-1.4-2 0.2-5 1.4-6 2.9-6 0.4-14 4 0-99.5 1-0.6 2 1.2 15 13.8 7 3 2 0.5 1.6-0.9-0.1-7 0.5-1.2 1 0.3 12 12.9 3 2.2 4 1.5 3.1 0.3 0.8-2 0.2-4 0.9-1.5 3 2.8 10.5 14.7 4.9 4 35.6 0.6 62 0.2 5-0.5 12-4.3 10-8.7 4-2.6 11-2 17.8-1.7 9.2-9.2 3-2.1 1.9 0.3 2.1 1.6 3-0.1 7-2.4 11-5.6 2 0.3 3 2.4 2-0.4 4-2.4 4 2.7 1 0 5-4.5 2 0.5 3 2.9 1 0.1 4-3 2 0.9 4 3.8 3-2.4 2-0.6 5 5.6 5 2.3 4 6 2-2.8 3-0.1 8 9.4 7 1.9 5-0.4 53 4.2 35 2 93 8.7 22 2.9 19.3 3.5 21.4 5 16.6 5 0 1-4.3 1-55.2 3-46.8 6.2-21 0.8-4.8 1-1.3 1 1.3 2 5.8 2.1 19 1.2 39.4 5.7 29.3 3 70.3 3.1 67 4.1 27 2.4 25 3.8 59 11 82 11.1 52 10.9 13 3.6 15 5.6 8.4 4.4 17.4 11 9.7 7 6.6 6 5.5 7 3.4 7 1.6 8-0.3 11-1.9 6-3.9 5-6 4-7.7 3zM497.5 1643.7l-1.7-0.1 0.2-2 1.5 0 0.6 1zM617.5 1669.8l-6.6-0.2-16.5-3-41.2-9-13.3-4-6.4-2.9-0.9-1.1 1.3-1 3.6-0.3 14.7 2.3 41.9 11 16.2 5zM496.5 1652.6l-1-0.8 0-1.3 2-0.6 0.8 1.7zM476.2 1660.6l-0.7-1.9-1.1-0.1-1 1 0.1 1.2 1 0.5zM497.5 1660.8l-1.3-0.2-0.5-1 0.8-1.4 1.7 0.4 0.4 1zM457.7 1660.6l-0.2-1.2-1.8 0.2-0.1 1 0.9 0.5zM484.5 1665l-2.4-0.4-0.6-2 1-1 2.8 1zM492.5 1664.7l-0.9-1.1 0.9-0.9 1.2 0.9zM560.5 1672.9l-4 0.6-10-1.5-9-3-4.3-0.4-6-4 0.8-1 1.3 0 2.2 1.5 6-0.2 13 3.1 6.7 2.6z"/>
<path fill="rgb(130,130,130)" d="M1142.5 1749.6l-13 0.7-16-1-73-12.7-67-13.8-69.6-18.2-35.5-7-78.9-10.8-43.9-2.2-40.1-6.8-44-9.5-31-9.1-77-19.2-10.8-3.4-8.2-4-1.1-1 0.3-1 4.8-0.4 5 0.4 44 8.8 28 6.8 6.4 0.4 0.4-1-0.6-1-14.2-13.1-2.7-3.9-0.7-7 1.6-9-2.2-3.8-9-6.9-5-2.6-9.2-2.7-13.8-2.4-15-1-17 0.9-5-0.5-4 1.9 6 10 11.3 16.1 0.3 2-0.6 1.3-2 1.3-2.3-0.6-15.7-22.3-0.6 0.3 0 4-1.4 2.2-1-0.2-3-4.4-1 0.7-3 10-2 3.8-1 0.3-4-3.4-6 12.9-4.2-0.9-1.1 4-1.8 3 1.8 3-0.2 2-2.7 3 0.2 1.2 2.5 1.8 0.2 2-3.2 2-0.5 3.7-3 0.4-1.2 1.9 0.2 1.9 3 0.6 0 2.5-2 0.4-0.8-0.4-1.2-2.9-2 0.1-1.5 0.8-1.3 3-3.2 0.1-0.7-0.1-0.8-3-1.5-0.3-1.4 1.3 0.2 2-4.8 0.5-1.3 2.5-1.7 0.6-1.3-0.6-0.8-2-1.9-0.7-2 0.1-1.9 2.6-1.4 0-1.1-2 3.2-2-0.8-1.8-2 0.4-1.6 2.4-3.4-0.1-2-2.9-1-0.1-3 2.5-2.5-0.4-1.2-2-1.3-0.7-3 0.3-2 1.8-1-0.3-0.4-1.1 0.4-1 1.9-1-0.9-1.7-1 0-1.2 1.7-1.8 0.5-2.1-0.5-1.3-2-1.6-0.8-2-0.1-2 1.6-1-0.1-0.2-1.6 1.5-1-0.3-1.4-1-0.6-2 1.8-2 0.2-1.9-1-1.4-2-3.6-1-2.1-2.7-2 0.2-2 1.4-1-0.3-1.1-2.6-4.2-1-1.7-2.4-3.7-1.6-1.3-2.1-3-0.9-2-3.2-2-0.5-2 0.5-0.6-0.8 0.4-2-0.8-1.2-1-0.2-3 1.3-1-0.5-0.3-1.4 1.1-2-0.2-1-1.6-0.9-2 1-1-0.4 0.9-2.7-0.8-2-2.1-0.2-1.6 1.2-1.4 0-0.4-1 1.4-3-2.5-3-0.5-2-7-3.8-10-9.6-7.7-3.6-7.3-1.9-90 0.6-1.2 0.3-1.7 4-5.1 5.2-12 4.7-8 6.3-2-0.2-2-2.2-2 0.1-4 1.2-8 4.9-3-1.4-2 0.1-5.2 1.3-6.8 3-5 0.1-15 4.1 0-88.6 1-0.4 0.5-1.2-0.1-5 0.6-1.3 2 0.8 14 12.7 3 1.8 6 2 1.6 0 0.8-1 0.3-7 1.3-0.1 12 12.5 3 2 4 1.4 2 0.3 1-0.7 1-6.4 1 0 3 3.2 10 13.8 3.9 3 2.1 0.3 100 0.3 13-4.5 11-9.5 4-2.1 28.7-3.5 10.3-10 2-0.2 3 2 2-0.2 8-2.9 11-5.5 2 0.5 3 2.4 2-0.5 4-2.6 4 2.8 1-0.1 5-4.6 2 0.6 3 3.3 1 0.1 3-2.9 2-0.3 5 4.7 3-2.5 2-0.7 2 1.6 3 4.3 5 1.9 5 7.8 0.2-1-1-1 0.8-2 2-1.4 2 0.3 8 9.5 7 2.3 5-0.3 120 9.1 66 7.1 37 6.4 23.1 6 2 1-0.1 1-9 1.4-44 2.8-42 5.8-20.4 1-5.8 1-2.3 1-0.6 1 0.5 1 3.4 2 7.2 2.1 19 1.1 60 7.8 129 7.3 45 4.1 24 4 59 11.5 85 12.4 53 11.5 20 7.5 12.5 7.7 18.8 17 4.3 6 3.2 7 1.3 7-0.1 9-1.4 6-2.6 4.4-3.6 3.6-5.4 3.3-13 5.5zM609.5 1667.9l-6-0.2-12-2.1-38-8.3-12.4-3.7-5.8-3-0.4-1 6.6-0.5 11 1.9 39.9 10.6 15.2 5zM493.5 1656.7l-2.3-0.1-0.3-3 2.6 0.3 0.6 0.7zM467.1 1660.6l-0.6-1.7-1-0.2-1.1 0.9 0.1 1.2 1 0.5zM475.5 1665l-2.1-0.4-0.6-2 0.7-0.9 3 0.1 0 2zM484.5 1664.6l-1.8 0-0.4-2 2.4 0zM556.5 1671.9l-1 0.6-8.3-0.9-6.9-2-2.8-2.7-4 0.9-0.7-1.2 9.7 0 8 2.1z"/>
<path fill="rgb(134,134,134)" d="M1134.5 1746.6l-13 0.4-11-0.9-78-13.5-60-12.3-69-17.4-33-6.3-82.4-11-17.6-1.4-28-0.9-35.7-5.7-45.3-9.7-33-9.6-75.5-18.7-9.4-3-6.5-3-1.9-2 2.3-0.9 10 0.8 41 8.5 28 6.9 5.2 0.7 2.3-1-1.3-2-15.2-13.9-2.2-3.1-0.8-3 0-4 1.9-9-0.6-2-1.8-2-9.5-7.5-5-2.5-10-2.7-14-2.3-15-1-16 0.9-5-0.5-4.2 1.6 0 1 4.1 7 13.2 19 0 3-2.1 1.5-2-0.4-1-1-16-23.2-0.6 0.1 0.6 4-1 1.8-1.3-0.8-2.7-5.4-1 0.8-3 11.7-2 4-1 0.3-1-0.7-2-3-1-0.5-3.7 9.8-2.3 3.6-2 0.1-2-3-1 0.8-1.1 2.5 0.3 4-2 4 2 4-2.2 2.2-0.6 1.8 0.3 2 2.3 1.3 0.2 1.7-1.2 0.8-2-0.1-1-2.7-2 0.3-0.5 1.7 0.5 0.6 2 0.5 0.8 0.9-0.4 3-3.4 1-1 3.4-3 0.6-1.4 3-1.6 0.8-2-0.3-1-2.6-2-0.5-1.4 0.6-0.6 2-2 1-2 0-1.7-3-1.3-0.2-1 0.4-1 2.8-4-0.1-1.7-2.9-1.3-0.3-1 0.3-2 2.7-3-0.3-1.4-2.4-1.6-0.4-1.5 0.4-1.4 2-1.1 0.2-1-0.2-2-2.8-4-0.5-2-2.9-1.4 0.2-1.6 2-2 0.1-3-3-3.9-1.1-1.1-2.1-2 0-2 1.7-1 0.1-1.4-0.7-1.6-2.3-3-0.7-2.8-3-2.2-0.1-2 1.4-1-0.3-0.2-1 1.3-2-0.4-1-1.7-0.1-2 1.3-1.5-0.2-2.5-3-3-0.9-2-2.7-3-1-2-3.1-3-0.9-2-3.2-2-0.1-2.2 0.9 0.6-3-0.4-1.5-3.1-1.5-1-3-3.9-1.5-0.7-2.5-2.1-2-0.7-2-6.5-3.2-11-10.3-7.5-3.5-7.5-2-90 0.5-1.8 0.5-1.6 4-4.6 4.4-12 5.1-8 6-1 0-2-2.3-2 0-5.9 1.8-6.1 3.9-5-1.2-12 4.1-6 0.6-15 3.9 0-86.1 2-0.2 0.7-1 0.1-5 1.2-1.1 3 2 11 10 6 3.2 4 1.2 2-0.6 1-7.4 3 2.1 9 9.6 4 2.5 4 1.3 2-0.1 2-6.5 3 2.5 8.6 12.3 5.4 4.1 99 0.9 6-1 10-3.8 11-9.4 4-2.2 29-3.4 7-7.2 3-2.1 1.5 0.1 2.5 1.7 2 0 8-2.8 12-5.9 5 2.9 1 0 5-3.2 4 2.7 1 0 4-4.3 2-0.4 4 4.3 1 0 3-3.1 2-0.3 5 4.8 3-2.7 2-0.7 2 1.7 3 4.6 3 0.3 2 1 6 9.3 1 0.6-2.5-4.5 0.1-1 1.4-1.9 2-0.5 2 1.4 8 9.5 7 2 5-0.4 44 4 36 2 36 3.1 62 6.9 35.4 5.9 19.9 5 2.1 1-0.1 1-8.3 1.5-40 3-35 5.4-23 1.5-7.1 1.6-1.4 1-0.1 1 4.3 3 10.3 2.9 17 0.9 55.6 7.2 23.4 1.9 88 4.9 38 2.9 28 3 24 4 61 12.5 85 13.1 50 10.9 19.7 7.8 5.7 3 5.6 4 6.1 6 5.5 7 4.8 8 2.3 6 0.9 6 0 8-0.9 5-2.5 5-5.3 6-6.9 5-7 2.9zM600.5 1665.9l-11.6-1.3-36.4-7.8-10.1-3.2-4.8-3 1.5-1 2.4-0.1 12 2.1 37.1 10 10.7 4zM484.7 1652.6l0.5-2-1.7-0.4-0.8 1.4 0.8 1zM480.7 1656.6l-0.3-2-2 0-0.2 2zM493.5 1656.1l-1 0.4-1-0.5 0-1.7 2 0.2zM488.5 1660.7l-1.1-0.1-0.6-1 0.7-1.4 1.7 0.4 0.3 1zM457.5 1664.1l-1 0.2-0.6-1.7 2 0zM466.5 1664.7l-2-0.3-0.5-1.8 0.5-0.8 2 0 0.9 0.8zM475.5 1664.7l-1.5-0.1-0.5-2.1 2.5 0.1zM548.5 1670.5l-7-1.4-0.9-0.5 0-1 2.5 0 2.4 1.9 3.3 0.1z"/>
<path fill="rgb(138,138,138)" d="M1123.5 1743.6l-10-0.2-12-1.6-80-13.8-55-11.2-66.7-16.2-25.3-4.7-78-10.3-30-2.8-27-0.7-35.5-5.5-43.5-9.3-31-9.1-75.7-18.6-9.4-3-6.3-3-1-1 0-1 1.4-0.4 9 0.6 41 8.5 29.2 7.3 5.8 0.7 2.1-0.7-0.9-2-10.2-8.7-8.7-9.3-0.9-3 0-5 2.4-8-0.7-2-2.1-2.3-9-7.4-5-2.6-10.3-2.7-14.7-2.5-16-1-16 0.8-4-0.5-4 1.3-0.7 0.9 4.5 8 13.2 19 0 2.9-2 1.5-2-0.4-0.9-1-13.7-20-4.2-5-0.1-1-3.1-4.2-1.4-0.8 0 5-3.6 15.7-1 1.5-1 0.2-4-5.2-5 13.3-2 0.9-3-4.2-1 1-1.8 4.8 0.2 5-1.8 4 1.8 4-2.2 2-0.6 4-2.6 0.7-0.9 1.3 0.3 2 2.7 1 0.3 2-0.7 1-2.7 0.2-1-2.8-2-0.3-1 0.7 0.1 2.2 2.9 1 0 2.4-1 1-3-0.3-1-2.6-2.7 0.5-0.3 2.1 3.2 0.9 0.4 1-0.4 2-1.2 0.5-1.9-0.5-1.1-2.8-1-0.1-2 0.1-1.4 2.8-1.6 0.7-2-0.3-1.1-2.4-1.9-0.5-1.3 0.5-1.7 2.7-3-0.4-1.1-2.3-1.9-0.6-1.6 0.6-1 2-1.4 0.5-1.8-0.5-1.2-2.2-2-0.5-2 0.5-1 1.7-1 0.3-1-0.3-0.7-1.5 0.4-1 2.3-0.8 0.1-1.2-1.1-1.1-1.1 0.1-1.9 2.7-3-0.1-3-3.1-2 0.4-1 1.5-2 0.4-2.2-2.8-4-1-1.8-2.5-2-0.1-2 1.8-2-0.2-1-2.4-4-1-2-2.6-4-1-1-2.4-2-0.3-3 1.5-1.2-0.8-0.8-2.4-3.4-0.6-2.5-3-2.8-1-2.1-3-2.7-1-1.5-2.6-3.7-1.4-1.1-3-3.1-2-1.1-2.5-3.2-1.5-3.9-6-6.9-3.4-11.6-10.6-6.7-3-7.7-2.1-91 0.6-1.4 0.5-1.5 4-4.1 3.6-12 5.6-7 5.1-1 0.4-3-2.2-2 0.2-5 1.5-7 3.7-5-0.8-12 3.9-6 0.7-15 3.9 0-84.1 2 0.3 1.8-0.8 0.5-5 0.7-1 3 1.7 11 9.7 5 2.6 5 1.4 1.6-0.4 1.4-7 3 2.1 8 8.5 5 3 5 1.1 1.4-1.7 0.6-4.1 1-0.4 3 3.1 7.3 10.4 4.6 4 1.1 0.2 99 0.8 6.1-1 9.9-3.8 11-9.3 4-2.1 29-3.3 7-6.8 3-1.8 4 2.1 2-0.4 8-3 11-5.6 2 0.1 4 2.6 6-3.4 4 2.8 1-0.1 5-4.8 2 0.7 3 4.1 1 0 4-3.9 2 0.8 3 3.9 1 0.4 3-2.8 2-0.8 2 1.7 3 5.1 1 0.5 2-0.7 2 0.9 6 9.7 2 0.7-3.2-6.5 1.2-1.8 2-0.5 1.9 1.3 9.1 10.6 6 1.5 5-0.3 44 4.1 35 2 34 3 60 6.9 32 5.3 16.4 3.9 2.3 1 0.3 1-8 1.6-37 3.4-27 4.7-26 2.3-7.3 2-0.8 1 0.2 1 2.6 2 4.6 2 8.7 2.3 19 1.2 52 6.8 23 2 92 5.5 36 2.9 28 3.3 26 4.6 60 12.8 86 14 47.1 10.6 16.9 6.9 8 4.4 5 3.9 4.5 4.8 4 6 2.7 6 1.7 7 0.5 9-0.6 7-1.8 6-3.2 5-4.4 4-5.4 2.7-6 1.4zM519.5 1603.2l-1-2.6 1-0.7 0.9 2.7zM492.5 1647.8l-1.2-0.2 0.2-1.8 1.7 0.8zM592.5 1664.1l-11.1-1.5-28.2-6-11.9-4-1.4-1-0.2-1 3.8-0.3 8.7 1.3 32.9 9 8.3 3zM471.5 1656.6l0.2-1-0.9-1-1.3 0.4 0 1.6zM466.5 1664.2l-1 0.3-1-0.9 0.2-1 2 0z"/>
<path fill="rgb(142,142,142)" d="M1126.5 1739.6l-9 0.7-9-0.5-64.3-10.2-71.7-13.7-69-16-31-5.6-79-10-31-2.8-28.3-0.9-27.6-4-45.1-9.4-34-9.9-72.8-17.7-14-5-2.3-2 1-1 11.1 0.9 45 9.8 23 5.9 5 0.8 3.4-0.4 0.3-1-0.6-1-12.1-10.2-8.1-8.8-1.1-3-0.1-5 0.6-3 2.4-5-0.7-2-3-3-8-6.9-5-2.7-11-2.8-16-2.7-19-1-12 0.8-5-0.5-4 1.2-0.1 1.6 2.9 5 15.1 22-0.1 3-2.8 1.3-1.8-1.3-23.4-33 0.1 5-1.1 8-1.3 6-1.5 3.1-1 0.2-1-1.1-3-5.7-5 15.1-1 0.7-1-0.6-3-4.7-1 0.2-2.5 8.8 0.1 4-1.6 6-0.4 1-2.6 0.9-0.5 1.1 0.5 1.2 2 0.8 0.4 3-3.4 1.7-1 3.7-2.8 0.6-0.7 1-0.1 2 2.6 1 0.7 2-0.7 1.1-2 0.1-2-3.2-2 0.1-1 0.6-1 2.8-4 0.3-0.8-2.8-2.2-0.2-0.7 2.2 3.5 1-0.7 3-1.1 0.4-1.8-0.4-1.2-2.5-2-0.3-1.9 0.8-1.1 2.3-2 0.1-2-2.9-2-0.3-2 0.5-1 2.2-2 0.2-2-2.8-4-0.5-1-2.7-1-0.5-1.7 0.4-1 2-1.3 0.4-2.3-0.4-1.2-2-1.5-0.8-2 0.1-1.3 1.7-1.7 0.4-1.1-2.4 2.3-1 0.1-1-0.8-1-1.5 0.6-1 1.7-3.5-0.3-1.5-2.2-2-0.9-2 0.5-2 1.5-1.1-0.9 0-1 1.8-2-0.7-1.2-1.4 0.2-1.6 1.7-2-0.1-3-3-3-0.7-2.1-2.9-1.9-0.2-3 1.4-1-1.2 1.5-2-0.5-1.4-1-0.2-2 1.5-2-0.1-2-2.9-3-0.9-2-3-3-1.2-1.7-2.8-3.3-1.3-1.3-2.7-3-2-1.4-3-3.3-1.7-3.5-5.3-7.5-3.5-12-10.9-8.9-3.6-5.1-1.1-91 0.4-2 0.7-1.5 4-3.5 3-12 5.8-7 4.8-1 0.1-2-1.5-3 0.1-5 1.4-6 3.2-6-0.4-11 3.6-6 0.7-16 4 0-82.1 4.5 0.3 0.7-1 0.5-4 1.3-0.7 13 10.6 5 2.4 6 1.1 1-1.4 0.2-4 0.8-1.3 2 1.2 9 9.1 4 2.3 4 1.2 2-0.2 1.7-5.3 1.3 0 8.9 12 4.5 4 1.6 0.3 99 0.8 6.4-1.1 9.6-3.7 11-9.2 4-2.1 29-3.2 9-7.6 1-0.1 3 1.9 2-0.1 20-9.1 2 0.3 4 2.4 6-3.6 4 2.9 1-0.1 5-5 2 0.9 3 4.4 1-0.1 4-4.2 2 0.9 3 4 1 0.4 3-3 2-0.8 2 1.8 3 5.6 1 0.5 2-1.3 2 0.8 6 10.2 2.5 0.2-3.5-7 1-1.7 2-0.5 1.8 1.2 9.2 11.1 7 1.8 5-0.4 42 4.2 36 2.1 34 3.1 56 6.8 30 5 10.2 2.3 2.8 1 0.7 1-2.2 1-5.5 0.9-33 3.5-22 4.3-26 2.8-6.4 1.5-2.2 2 1.8 2 6.4 3 12.4 3.1 17 1 64.3 7.9 100.7 6.5 36 3.2 30 3.7 26 4.8 61 13.6 85 14.6 45.6 10.6 13.4 5.4 13.3 8.6 6.8 8 4 10 1 7-0.1 9-0.9 5-2.1 5-3.2 4-3.8 2.7zM485 1643.6l0.2-1-0.7-0.9-1 0.3-0.1 1.6zM488.5 1652.4l-2-0.6 0-2.2 2-0.1 1 1 0 1.1zM475.9 1651.6l-0.3-1-1.1-0.2-0.7 1.2 0.7 0.7zM584.5 1661.7l-4.5-0.1-25.1-5-7.4-2-5.9-3 2.9-0.6 10 1.6 24.8 7zM453.7 1656.6l-0.8-2-1.4 0-0.6 2 1.6 0.6zM462.6 1656.6l-0.6-2-1.5 0-0.4 2zM443.5 1660l-1-0.4-0.2-1 2.2-0.4-0.1 1.4zM479.5 1660.8l-1.3-0.2-0.6-1 0-1 0.9-0.7 2.2 0.7-0.2 1.5z"/>
<path fill="rgb(146,146,146)" d="M1118.5 1736.6l-8 0-13-1.5-71.9-11.5-56.1-10.5-65.2-14.5-28.8-5.1-80.5-9.9-38.5-3.5-28-1-24.7-3.5-41.3-8.5-34-9.9-72.9-17.6-11.9-4-3.4-2-0.4-1 4.6-0.6 10.6 1.6 39.4 8.8 26 6.7 6 0.6 2.4-1.1-2.4-3-12-9.8-7.7-8.2-1.3-4 0.2-5 0.8-2.7 2.8-4.3-0.1-1-10.7-10.4-3.8-2.6-5.6-2-24.6-4.6-19-1-12 0.7-5-0.5-5 1 0.7 2.4 4.2 7 13.9 20-0.1 3-2.7 1.2-1.7-1.2-22.3-32-1-1.3-0.9 0.3-0.8 12-2.3 7.9-1 0.1-1-1.4-3-7.9-5 17.6-1 0.8-1-0.5-3-6.3-1 0.3-3.2 12.4-1.6 10-3.3 2 0.1 2.5 2.9 1.5-0.1 2-2.8 0.6-1-3-2.4 0.4-0.4 2 2.8 1.3 0 3.1-3.5 1.6-0.7 3-3.8 1-1.1 3-1.9 0.5-1.7-0.5-0.6-2-1.7-0.7-1.7 0.7-1.3 2.9-4 0-0.8-2.9-1.2-0.5-1.5 0.5-1.5 2.9-4-0.4-0.8-2.5-1.2-0.5-1.5 0.5-1.5 2.7-3-0.1-1.6-2.6-1.4-0.7-2 0.4-1 1.9-2 0.6-1-0.4-2-2.7-3-0.3-1-0.8-1-2.3-2 0.1-1 1.6-2 0.7-2-1-1.4-2.1-3.6-0.5-2-3.1-2 0.5-1 1.2-2 0.2-2-2.6-4-1.3-1.5-2.4-4.2-1-0.3-2-1-1.1-1.6 0.1-2.4 1.5-1.4-0.5-0.6-2 1-1 0-1.3-2 1.3-3-0.5-2-3.1-3-1.1-1.1-2.3-3.9-2-1-2.4-3-1.9-1-3-3.5-1.7-1.3-3-2.1-2-8.1-3.7-11.3-10.3-6.7-3.1-8-2.1-92 0.3-1.6 0.9-1.6 4-1.8 1.7-13 6.7-6 4.1-1 0.3-3-1.2-3 0.2-4 1.1-7 3.3-6-0.2-11 3.4-6 0.7-16 3.9 0-80.1 4 0.9 2-0.5 1.1-4.3 0.9-0.6 3 1.6 11 8.9 8 2.7 2.3-0.6 0.9-5 0.8-0.6 11 10 3 1.6 5 1.4 2-0.8 1-4 1-0.6 3 3 5.5 8 5.5 4.3 100 0.9 6.6-1.2 8.4-3 3.1-2 8.9-7.8 4-2.1 12-1.7 18.1-1.4 6.9-6.4 1-0.3 3 1.8 2 0 8-3.2 8-4.6 4-1.4 3 0.2 4 2.2 6-3.7 4 2.9 1-0.1 5-5.1 2 1 3 4.7 1-0.1 4-4.5 2 0.8 3 4.3 1 0.3 3-3.1 2-0.8 2 1.8 3 6.1 1 0.5 3-1.8 2 1.7 5 9.9 3.1-0.1 0-1-4-6 0.9-2.5 2-0.6 1.6 1.1 9.4 11.3 7 2.2 5-0.3 41 4.3 37 2.2 33 3 49.8 6.3 30 5 7.9 2 1.5 1-1.3 1-4.7 1-25.2 3.1-22 4.5-27 3.6-6.6 1.8-1.2 1-0.1 1 2.2 2 6.6 3 14.1 3.6 17 1 62 7.7 103 7.1 35 3.3 29 3.7 27 5.2 63 14.7 84 15.3 40 9.5 13 4.5 11.8 7.4 8.2 8 2.8 5 1.6 5 0.9 7-0.1 8-1.1 5-2.1 4.1-3 3.1-5.2 2.8-6.2 2zM476.1 1652.6l0.3-1-0.9-1.5-2 0.5 0.2 2zM488.5 1651.9l-1.4-0.3 0.4-1.6 1.5 0.6zM568.5 1658.4l-15.8-2.8-7.6-3 2.4-0.7 5.2 0.7 16.6 5zM430.5 1655.6l-1 0-0.5-1 0.5-0.8 1.2-0.2 0.4 1zM484.5 1656.1l-2 0 0-2.1 2 0.2zM461.5 1660.8l-1.9-1.2-0.1-2.3 3.7 0.3-0.2 2zM453.5 1659.9l-2 0.3-0.8-1.6 0.8-0.9 2 0.2zM470.5 1660.7l-1.1-0.1-0.9-2.4 1-0.5 2 0.5 0.2 1.4zM479.5 1660.4l-1.4-0.8 0.4-1.2 1.5 0.2 0.3 1z"/>
<path fill="rgb(150,150,150)" d="M1116.5 1732.7l-6 0.2-14-1.4-66.2-9.9-61.8-10.9-66-13.9-29-4.8-79.8-9.4-43.9-4-27.1-1-21.7-3-39-8-35.5-10.3-29.9-6.7-40-10-9.6-3-5.5-3.1 0.5-0.9 2.5-0.2 9 1.1 40.4 9.1 27.6 7.2 6 0.7 3.1-0.9-1-2-14.1-11.3-8.2-8.7-1.4-4 0.2-5 1.1-3 2.6-3 0.3-2-11.6-11.7-4-2.3-5-1.5-26-4.7-19-1-12 0.7-5-0.5-4 1.1 0 1.9 2.8 5 15.8 23 0.4 2.1-2 1.9-2.5-1-24.5-34.6-1 11.9-2 7-1 0.1-1-1.8-3-12.7-3 17.1-2 6.1-1 0.8-1-0.5-3-8.2-1-0.1-4.3 18.9-0.7 1-3 1.2 0 1.7 2.5 1.1 0.3 2-0.8 1-2 0-1-3.3-2.3 1.3 0.3 1.9 2 1.1 0.2 2-0.2 1.1-3 1.8-0.3 2.1 2.9 2 0.1 2-3.7 1.3-0.6-0.3 0.3-1-0.7-1.7-2 0.3 0 2 2 0.4 0.8 1-0.6 3-1.2 0.4-2.4-0.4-0.6-2.3-1-0.7-2 0.4-0.5 2.6 3.5 1.5-0.8 2.5-1.2 0.2-1-0.2-1-2.7-1-0.4-3 0.8-0.8 2.3-1.2 0.6-2.8-0.6-0.6-2-1.6-0.8-2 0.8-0.6 2-1.4 0.6-2.7-0.6-0.7-2-1.6-0.8-2 0.8-0.8 2-1.2 0.5-2.4-0.5-0.8-2-1.8-1-2 0.1-1 1.9-2 0.8-1.2-0.8-1-2-4.1-1-1.7-2.7-2 0.1-2 2.2-1 0.1-1.6-0.7-1.4-2.3-3.6-0.7-2.3-3-2.1 0.2-1.8 1.8-1.2 0-1.2-2 0.2-1.1 1.9-0.9-0.4-1-1.1 0-1.4 1.8-3-0.3-2-2.6-4-1.5-2-2.8-2-0.1-2 1.5-1-0.4 0-1.4 1.2-1.2-0.8-2-1.4 0-2 1.6-2-0.5-0.6-3.1 1.2-1-0.6-0.4-2 1.1-2-0.3-2-3.4-3.4-1-1.2-3-3.3-2-0.1-2 1.5-2-0.5-0.8-1-0.2-2 1.4-2-0.7-0.2-1.7 1.8-2-12.6-4.1-14-12-7.5-2.9-5.5-1.3-93.4 0.3-3.6 6.1-19 10.8-6-0.8-5 1.3-6 2.9-7 0.1-10 3.2-7 0.8-16 3.9 0-78.3 5 1.3 1.8-0.3 1.8-4 1.4-0.4 12 9.1 9 3 2.2-0.7 0.8-4.2 1-0.8 11 9.6 7 2.5 2-0.1 2-4.7 1 0.3 7.2 9.4 4.3 4 1.5 0.4 100 0.8 6.9-1.2 8.2-3 11.9-9.6 4-2.1 30.8-3.3 4.2-4.3 2-1.1 4 1.9 2-0.4 19-9.2 3-0.1 4 2 2 0.2 5-3.8 4 3 1-0.1 5-5.2 2 1.1 3 5 1-0.2 4-4.8 2 0.9 3 4.4 1 0.3 3-3.2 2-0.9 2 1.9 3 6.7 1 0.5 3-2.5 2 1.7 5 11.3 3-1.1 2.1 1-5.9-9 0.8-2.4 2-0.6 1.5 1 10.5 12.4 7 1.9 5-0.4 39 4.3 38 2.3 32 3 47 6.3 24.8 4.2 6.2 2-0.2 1-3.8 1.1-25 4-16.8 3.9-25.6 4-6.3 2-0.8 1 0.2 1 2.7 2 6.9 3 15.1 4 17.6 1.1 65 8 67 4.4 43 3.6 53 6.5 28 5.6 59 14.6 83.7 16.2 37.3 9 15 4.7 9.4 5.3 8.4 8 4.9 9 1.1 5 0.2 7-0.8 5-1.9 4-2.6 3-4.3 3-4.9 2zM487.5 1643.7l-0.8-1.1 0.3-1 1.5 0 0.5 1-0.5 1zM439.7 1652.6l-0.2-1.9-1.2-0.1-0.8 1 0.3 1zM557.5 1655.7l-8.3-2.1 1.3-0.5 3.6 0.5 3 1 0.9 1zM462.5 1659.8l-1 0.7-1-0.3-0.5-1.6 1.5-0.6 1 0.4zM470.5 1660.3l-1.4-0.7 0.4-1.3 1.6 0.3 0.2 1z"/>
<path fill="rgb(154,154,154)" d="M1116.5 1727.8l-6 0.7-11-0.6-49.5-6.3-80.5-13-67-13.3-26-4.1-84.5-9.6-49.5-4.5-30.6-1.5-24.6-4-26.8-5.8-33-9.8-33.7-7.4-39.9-10-10-4-0.8-1 1.4-0.6 8 0.6 39.9 9 28.1 7.5 7 1.1 4.8-0.6-0.6-2-16.2-12.8-7.8-8.2-1.4-4 0.2-5 1-2.6 3.1-3.4 0.3-2-10.9-12-3.1-2-5.4-1.7-28-5-19-1-12 0.6-5-0.5-5 1.1 5 9.5 14.5 21 0.4 2-0.5 1-2.4 0.9-1.4-0.9-25.6-36.1 0.2 6.1-0.9 7-1.3 4.4-1 0-1.4-4.4-1.6-13-1-3.2-1 2.9-1.9 19.3-2.1 7.8-1 0.8-1-0.9-3-10.9-1-0.4-5 23.9-2 0.6-1-0.9-1-3.1-1 0.2-1 1.7 1.6 5.2-1.9 2-0.7 2 2.5 3 0.1 1-0.3 1-2.8 2-0.5 4-3 0-1 2 0.3 1 2.9 1 0.1 2-1.1 1-1.5 0-1.7-3.2-3 0.1-1.2 3.1-3.8 1-1 2.5-1 0.8-2.2-0.3-0.8-2.3-2-0.8-2 0.5-1 2.3-1 0.6-2.1-0.3-0.9-2-2-1.1-2 0.4-1 2.2-2 0.7-1-0.4-1.4-2.8-4.4-1-1.2-2.4-2 0.4-0.8 2-1.2 0.4-2.6-0.4-2.4-3.1-2.3 0.1-1.7 2.1-2 0-0.8-2.1 2.6-2-0.8-1.2-1.3 0.2-0.7 1.8-1 0.4-3-0.4-2-2.8-1-0.3-2-0.1-2 1.9-1-0.1-0.4-1.4 1.6-1 0.3-1-0.5-1.3-2-0.1-2 1.8-2-0.3-2-2.8-3-0.8-2-2.9-4-1.6-1-2.2-2-0.4-2 1.6-1.2 0-0.9-1 1.7-3-0.6-1.2-2 0.2-1 1-2 0-0.9-2 1.6-2-0.7-1.3-3 1.5-2-0.5-0.6-2.7 1.4-2-0.8-0.4-2 1.2-2-0.5-0.5-1.3 1.6-2-0.1-1.9-3.9-1.1 0.3-2-12.4-3.7-14-12-8.2-3.3-5.8-1.3-94.2 0.3-3.4 6-18.4 10.3-6-0.6-5 1.3-6 2.8-6-0.2-11 3.4-6 0.6-17 3.9 0-76.3 7 1.5 1.6-0.7 1.3-3 1.1-0.4 12 8.5 9 2.7 2-0.8 1-3.9 1-0.4 10 8.6 8 2.6 2-0.5 1-2.8 1-0.9 2 1.6 6 7.9 3 2.8 2 0.6 100 0.7 7-1.3 8.3-3 14.7-11.2 12-2 20-1.6 4-3.6 2-0.7 3 1.8 2-0.2 8-3.5 11-6.1 4 0 6 2 5-4 4 3 1 0 5-5.4 2 1.2 3 5.3 1-0.2 4-5.1 2 0.9 3 4.5 1 0.4 3-3.5 2-0.9 2 2.1 3 7.2 1 0.5 3-3 2 1.4 5 13.4 1-0.5 1-1.8 2-0.2 2.3 2.8 3.7 6.7 0.6-0.7-0.6-1.6-10.6-16.4 0.3-2 1.3-0.8 2.4 0.8 10.6 12.7 7 2.2 5-0.3 37 4.3 41 2.5 33 3.3 50.2 7.3 10.2 2 3 1 1 1-5.4 2-17 3.2-14.5 3.8-26.9 5-3.6 1.1-2.2 1.9 1.7 2 4.1 2 16.4 5.5 7 1.1 16 1 64 7.9 64 4.3 43 3.8 53 6.7 31 6.3 66 17 79.4 16.4 34.7 9 13.9 4.7 6 3.3 6 5.3 4.3 6.7 2 9-0.1 6-1 4-1.6 3-2.6 2.7zM484.5 1647.8l-2 0.3-1-2.5 1-0.5 1.8 0.5 0.6 1zM447.7 1652.6l1.1-1-1.3-1.1-1 1.1zM456.9 1652.6l1-1-1.4-1.2-1.1 1.2zM466.9 1652.6l0-2-2.4-0.1 0 2.2zM439.5 1656l-1.8-0.4-0.1-2 2.5 0zM475.5 1656.2l-2-0.2 0-2 2-0.1 0.6 0.7z"/>
<path fill="rgb(158,158,158)" d="M1110.5 1722.7l-9 0.3-13-0.9-26-2.6-36.2-4.9-60.8-9.1-65-12-26-3.8-74-8.1-64.4-6-26.6-1.1-19.6-2.9-28.4-5.9-35-10.5-31.2-6.6-40.4-10-9.7-4 0.2-1 2.1-0.2 8.8 1.2 38.6 9 26.6 7.4 7 1.1 5.4-0.5 0.6-1-1.6-2-15.4-11.5-9.3-9.5-1.5-4 0.2-5 0.8-2 3.6-4 0.4-2-1.2-2.2-5.3-4.8-2.8-5-2.5-2-9.4-2.6-29-4.8-17-0.9-13 0.6-5-0.4-4 0.8-0.3 1.3 3.2 6 16.5 24 0.4 2-0.5 1-2.3 0.8-1.3-0.8-25.7-36.3-0.8 0.3 0.4 5-0.6 5.4-1 3.4-1-0.2-2.7-18.6-1.3-2.5-1.3 2.5-1.7 20-2 9.3-1 0.8-1.6-3.1-2.4-16.4-1-2.5-2.6 22.9-1.4 6.5-1.8 2.5-0.2 3-0.1-3-2-3-0.9-2.9-1-0.7-0.3 5.6-1.3 4 1.1 5-1.5 1.9-0.4 2.1 0.4 1.7 1.7 1.3 0.3 1.1-2.8 1.9-1 4-3 1-1 3-4.1 1-1 3-3.1 0.4-2-3.1-2 0.1-1 2.6-4.5 1-1.5 3-2-0.4-0.6-2.6 3.5-1-0.9-2.4-2 0.2-1 2.8-4.6 0.4-0.5 2-1.9 0.9-1.2-0.9-0.2-2 3.3-1-0.9-2.3-2 0.2-1 2.4-4-0.3-1-2.1-2-0.7-1 0.3-2 2.5-1.6 0-1.4-0.9-1-2.2-4-0.3-1-2.6-1-0.7-1.9 0.7-1.1 1.6-2 0.2-1.4-0.8-1.6-2.4-3.3-0.6-1.9-3-1.9 0-1.9 1.9-2-0.2-1.3-2.7-3.7-0.9-2-2.9-3.3-1.2-1.7-2.7-3-0.4-2-3.6-2-0.2-2 1.4-1-0.3-0.1-1.2 1.6-2-0.5-1.4-2-0.6-2 1.5-1.9-0.5-0.1-1.2 1.6-1.8 0-1-0.6-1-2-0.4-2 1.3-0.5-0.9 1.4-2-0.4-2-3.1-2-0.4-1-13-3.9-14-11.9-8-3.2-6-1.4-94.8 0.4-3.5 6-16.7 9.5-7-0.3-5 1.3-6 2.8-6-0.2-11 3.2-6 0.6-17 3.8 0-74.4 8 1.8 2-0.9 1.3-2.2 1.7-0.1 10 7 9 2.8 2.8-0.7 1.2-3.4 1-0.2 9 7.5 8 2.7 2 0.1 2-3.5 1 0.1 8 9.2 2 1.7 2 0.5 100 0.7 7-1.3 8.5-3.1 11.5-9.3 4-2.1 31-3.2 5-3.1 3 1.8 2-0.1 9-4.2 10-5.8 5 0 6 1.8 3.8-3.8 1.2-0.5 4 3.1 1 0.1 5-5.6 2 1.4 3 5.5 1-0.3 4-5.4 2 1 3 4.7 1 0.4 3-3.7 2-0.9 2 2.2 3 7.8 1 0.5 3-3.5 2 1.2 1.8 4 3.2 12.2 1-0.7 2-4.5 2 1 2.3 4 2.7 7.7 1.6-3.7-12.1-19 0.3-2 1.2-0.7 2.2 0.7 11.8 14 2 0 5 1.7 5-0.3 36 4.3 40 2.5 31 3.1 44.7 6.7 10.8 3-0.1 1-2.1 1-33.5 9-20.2 4-4.8 2-0.4 1 0.8 1 4 2 19.8 6.7 8 1.4 16 0.9 64 8 64 4.5 41 3.8 55 7.3 28 5.9 62 17.1 81.4 18.4 29.2 8 12.6 4 9.8 4 5 3.1 4.4 4.9 1.9 4 0.9 4-0.4 9-1.3 3-2.5 2.7zM471.7 1647.6l-0.2-1-1-0.3-0.9 1.3 0.9 0.6zM425.5 1651.6l-1-0.7 0-1.1 2-0.6 0.2 1.4zM479.5 1652.2l-1.7-0.6 0.1-2 1.6-0.1 1 1zM465.5 1656.7l-1.3-1.1 0.1-2 3 0 0 2z"/>
<path fill="rgb(162,162,162)" d="M470.5 1652.7l-2-0.4-1-2.3-2-0.6-1.3 0.2-1.5 3-1.2 0.3-2-0.2-1-2.1-2-0.9-1.7 0.9-0.8 2-1.5 0.3-2-0.2-1-2.1-2-0.8-1 0.2-1.9 2.6-2.1 0-2-2.8-1-0.4-2 0.2-2 2.5-1 0.3-1.6-0.8-1.4-2.6-3.5-0.4-2.2-3-1.7 0-1.6 2-2 0.4-1-0.4-1-2.3-4-1.2-2-2.8-2-0.2-3 2.1-1.1-0.6-0.2-1 2.1-2-0.8-1.8-1-0.1-2 2-3-0.6-1.3-2.5-3.3-1-2.1-3-3.1-1-1.7-3-3.1-1-1.2-3-3.6-1-0.9-3-2.7-1.4-1.5-3.6-3.5-2.4-13-3.6-14-11.8-7.8-3.2-6.2-1.5-95.4 0.5-3.6 6-16 9-7-0.2-4.7 1.2-6.3 2.7-6-0.2-10 3-6 0.6-18 3.9 0-72.8 9 2.1 1.9-0.3 1.8-2 1.3-0.2 9.7 6.2 9.3 2.6 2-0.1 2-3.4 1-0.1 8 6.5 3.4 1.5 6.6 1.5 1.4-0.5 1.6-2.4 1 0.4 6.1 7 3.9 2.7 101 0.7 7-1.2 8.6-3.2 11.4-9.2 4-2.1 12-1.6 19-1.5 4-1.8 2.4 1.2 3.9 0 18.7-10.2 6 0.3 5 1.6 3.4-3.7 1.6-0.8 4 3.2 1 0.1 3.3-4.5 1.7-1.3 2 1.7 3 5.7 1-0.4 4-5.7 2 0.9 3 5 1 0.4 3-3.9 2-1 2 2.4 3 8.4 1 0.5 3-3.9 1-0.1 1 1 2.2 6.3 2.8 13.9 1-1.2 2-7 1-0.5 1 0.8 2.6 6 1.6 12-0.8 25-2.4 16.3-1 2.5-1 0.4-1-1-2-7.5-1-1.4-2.2 15.7 0.5 5-0.9 2-0.4 4.1-2.8 1.9 2.1 2 0 3-3.3 1.4-1 2.8-1 0.7-2 0.1-2-2.7-2 0.4-0.5 1.3 0.5 0.8 2.5 1.2-0.2 2zM541.5 1623.7l-2 0.6-1.1-0.7-26.9-38.1-0.7 0.1 0.7 5-0.4 3-0.6 3-1-0.5-1.5-13.5-2.5-4.6-1-0.2-1.1 4.8-1.8 22-1.1 4.3-1 1-1.6-4.3-1.2-10-1.1-22 1-9-12.1-18.2-0.5-1.8 0.5-1 1-0.6 2 0.5 12 14.4 7 2 5-0.2 35 4.4 41 2.5 31 3.2 36.3 5.8 7.2 2 1.2 1-0.6 1-2 1-23.3 8-23.5 5-7.3 2.4-45-7.3-17-1-13 0.7-5-0.5-3 0.9-2-0.3 0.9 3.1 3.5 6 15.9 23 0.4 2zM1100.5 1714.6l-10 0.9-22-0.6-43-4.3-63-8.1-84-13.6-145-14.4-31-1.6-15.3-2.3-24.5-5-39-12 0.8-1 10 0.3 2.1-1.3-2.6-3-17.5-12.8-8-8.4-1.4-3.8 0.2-5 1.2-2.4 3.5-3.6 0.4-2-1.8-3-4.2-4-1-2 0.1-2 1-1.3 3-0.2 24 7.6 10 2.2 18 1.2 64 7.9 64 4.8 43 4.2 39 5.2 31 5.8 25.1 6.6 51.9 15.5 80.4 20.5 29 10 12 6 3.7 3 2.8 4 0.7 4-0.8 4-2.8 2.6zM623.5 1653.4l-12.1-1.8-22.9-5-32.5-8-6-2-3.2-2 2.7-0.6 5.3 0.6 34.4 8 35.3 10zM476.5 1643.6l-1-2.1-2 0.8 0 1.5 1 0.6zM434 1648.6l1.3-1-0.4-1-1.4-0.3-0.8 1.3 0.4 1zM444.1 1647.6l-0.6-1.3-1.2 0.3 0.2 1.6zM448.5 1656l-1.7-0.4-0.3-1 1-0.9 1 0 0.6 0.9zM457.5 1656.1l-2-0.5 0-1.4 2-0.6 0.7 1zM466.5 1656l-2-0.4 0-1.1 2-0.5 0.5 0.6z"/>
<path fill="rgb(166,166,166)" d="M461.5 1652.6l-2-0.6-1-2.2-2-0.4-1.6 0.2-0.8 2-1.4 1-2.2-0.6-1-2.2-2-0.4-1.3 0.2-1.7 2.6-2 0-2-3.1-4 0.4-0.8-0.9-0.1-2-1.1-0.8-1 0-2 2.6-0.9 0.2-2.1-0.3-1.8-2.7-1.2-0.4-2 0.1-1.8 2.3-1.4 0-1-2 2.2-1.3 0.5-0.7-0.5-1.4-1-0.3-1 0.4-1 1.9-2 0.1-1.9-0.7-1.1-2.2-4-0.9-1-2.5-1-0.7-1.9 0.3-2.1 1.8-1-0.1-0.9-0.7-0.4-2 2-2-0.7-0.7-2 2-3-0.4-2-3-3-1-1.8-2.9-3.2-1.4-1.2-2.6-3.7-2-1.1-2.5-2.7-1.5-1.3-3.4-4.4-2.6-12.6-3.2-14-11.7-7.6-3.1-6.4-1.5-96 0.5-3.6 6-15.4 8.5-6-0.3-5 1.1-6 2.7-6-0.2-11 3.1-6 0.6-18 3.8 0-71.4 11 2.4 4-1.5 8 4.5 8.9 2.7 4.1 0.2 2-2.6 1 0.1 6.9 5.3 3.1 1.3 8 1.9 1.1-0.2 0.9-1.5 1-0.3 9 8.6 102 0.7 7-1.3 8.8-3.2 11.2-9.1 4-2 34-3.7 9.4-0.2 15.6-9.1 7 0.2 5 1.5 3.1-3.6 1.9-1.1 5 3.5 3-4.4 2-1.6 1.8 1.6 3.2 6.2 1-0.4 4-6.1 2 1 3 5.2 1 0.3 3-4 2-1.1 2 2.6 3 9.1 1 0.5 3-4.4 1-0.2 1 1 2.4 8.3 2.6 18.2 2.9-12.2 1.1-2.3 2 2.3 2.2 13-0.4 26-1.8 13.9-1 3-1 0.6-4-15.7-3.3 33.2-0.7 1.8-2 1.1-0.6 1.1 0.1 1 2.5 1.8-0.2 2.2-2.8 0.4-1-2.6-3 0-0.4 3.2 2.4 0.5 0.9 1.5-0.3 1-1.6 0.6-1.5-0.6-0.5-2-3 0.1-0.7 0.9-0.2 2 2.6 1 0.4 1-1.1 1.7-1.9-0.7-1.1-2.4-4-0.1-1-3-2 0.1-0.5 1.4 0.5 1 2.7 1-0.3 2zM541.5 1623.6l-2 0.5-1-0.5-19.5-28-14.5-19.2-1 0.3-0.6 3.9-1.4 20-1 4.9-1 1-1.1-2.9-1-9-0.9-21 0.6-8-12.6-19.4-0.4-1.6 0.5-1 1.9-0.5 1 0.5 8 10.2 5 5.1 7 1.9 5-0.3 34 4.5 41 2.4 30 3.2 29.3 5 5.7 2 0.8 1-2.3 2-18.3 8-28.2 5.5-9-0.6-36-5.5-16-0.9-12 0.7-5-0.5-5 0.7-0.2 1.6 3.8 7 16.5 24 0.5 2zM1061.5 1705.6l-12 0.7-22-0.7-53-4.4-29-3.5-68-10.1-153-14.8-25.9-1.2-34-6-14.3-4-16.1-6-0.3-1 4.6-1.5 0-1.5-17-12.2-10-8.8-3.5-5-0.6-5 0.7-3 4.6-5 0.6-2-0.9-2-4.6-5-0.4-2 1.1-1.2 4-0.3 29 7.9 20 1.5 55 7 74 6 46 4.8 33 4.7 28 5.4 33.5 9.2 43.5 14.3 52.3 15.7 28.5 10 11 6 2.1 2 1.7 3 0.2 3-1 2-3.3 2zM610.5 1650.6l-15.9-3-37.4-9-6-2-1.9-1 0-1 8.7 1 37.3 9 15.9 5zM444.2 1648.6l0.3-2-2-0.7-0.9 2.7zM453 1648.6l0.7-1-0.2-1.1-2-0.3-0.5 1.4 0.5 0.9zM435.5 1651.7l-2.1-0.1-0.2-2 2.3-0.8 0.9 0.8z"/>
<path fill="rgb(170,170,170)" d="M466.5 1648.8l-2-0.2-1.8-3-1.2-0.2-1.8 1.2-0.3 2-0.9 0.6-4-0.6-1-2.8-1-0.3-1.8 1.1-0.3 2-0.9 0.6-4-0.2-0.6-2.4-1.4-1.2-1.4 0.2-1.6 2.9-1 0.3-2.7-0.2-1.3-2.7-2-0.5-1 0.3-1 2-2 0.5-1.3-0.6-1.7-2.6-3.4-0.4-1.6-3-2 0-1.4 2-1.6 0.4-1.3-0.4-1.7-2.8-3.9-1.2-0.9-2-1.2-0.7-2 0.1-1.4 1.6-1.6 0.2-0.7-1.2 2.1-2-0.4-1.9-2-0.3-1 1.3-2 0.7-1.4-0.8-1.6-2.8-3-0.8-1.1-2.4-3.8-2-1.1-2.6-3-1.2-1.7-3.2-3-2-0.2-2 1.4-2-3.5 0.4-2.5-1.4-13.5-3.3-14-11.7-8-3.2-7-1.5-95.6 0.7-3.7 6-14.7 8-6-0.2-5 1.1-6 2.5-6-0.1-11 3-6 0.6-18 3.7 0-70 10 2.3 7 0.1 8 3.6 4.8 1.4 6.3 1 2.9-1.8 1 0.2 5.2 3.6 3.8 1.7 8 1.9 4-0.6 7.8 7 102.2 0.6 7-1.3 9-3.3 11-8.9 4-2 15-2 30.5-2.1 10.5-6.9 3-1.2 4 0.6 3-0.5 5 1.6 3-3.7 2-1.3 5 3.9 3-4.7 2-1.7 1.9 1.9 3.1 6.3 1-0.4 4-6.5 2 1 3 5.4 1 0.4 3-4.3 2-1.1 2 2.9 3 9.8 1 0.6 3-5 1-0.3 2 3.8 2.3 14.4 1.1 23-2 34-1.6 9 0.5 4-0.3 1-2.9 2-1.1 2.8-3 0.3-1.6 3.9-3 1-1.4 3zM540.5 1624l-2-0.6-35-48.8-1.2 6-1.5 18-0.3 2.2-1 1.3-1.4-9.5-0.9-19 0.8-6-0.5-2-13-19.6-0.3-1.4 0.6-1 1.7-0.4 1 0.6 13 15.6 7 2 6-0.1 21 3.3 17 1.7 36 2 30 3.3 21.8 4 4.6 2 0.6 1-3 3-10.3 6-9.7 2.6-18 2.8-12-0.8-27-4.3-12-1-27-0.2-3 0.9-2-0.5 1 3.5 3.5 6 16.5 24 0.4 2zM489.5 1612.7l-1 0-0.5-1.1-1.1-5-1.3-22 1.4-18 1.5-5.7 1 0 2 7.7 0.6 12-0.6 21.7zM1009.5 1697.6l-24 0.4-32-2-82-10.3-112-9.8-38.1-4.3-27.9-1.5-31.3-5.5-13.2-4-9.4-4-0.4-1 2.1-2-1.2-2-17.6-11.8-11.5-10.2-3-5-0.1-5 0.7-2 4.9-5 0.6-2-0.8-2-3.2-4-0.6-2 2-1.2 3 0.1 27 6.9 20 1.5 54 7 73 6 43.4 4.7 34.2 5 30.3 6 21.8 6 23.9 8 53.4 20 18.1 8 4.9 3 3.4 3 1.5 3-0.1 3-1.6 2-1.8 1zM601.5 1647.7l-8.5-1.1-34-8-7.7-3 4.2-0.1 5 1.1 32.4 8zM479.5 1643.7l-1.4-0.1-0.6-2.4 1-0.3 1.4 0.7zM421.5 1647.1l-1.5-0.5 0.1-1 1.9 0zM474.5 1647.8l-1.2-1.2 1.2-1.1 1.4 1.1-0.4 1zM444.5 1651.6l-2.2 0 0-2 2.6 0zM453.5 1651.8l-1 0.5-1.7-0.7-0.3-2.7 3.3 0.7zM462.5 1651.6l-1 0.6-1.7-0.6-0.3-2.8 2.8 0.8zM470.5 1651.9l-1.3-0.3-0.3-1 0.6-0.9 1.6 0.9z"/>
<path fill="rgb(174,174,174)" d="M457.5 1648.8l-2-0.2-1.6-3-1.4-0.5-1.6 0.5-1.4 2.9-1 0.3-2.2-0.2-1.6-3-1.2-0.5-2 0.3-1 2.4-1 0.6-2 0-1.7-2.8-2.3-0.6-1.7 0.6-0.9 2-1.4 0.3-1-0.6-0.5-1.7 0.5-0.9 2.1-0.1 0.8-1-0.9-1.7-1-0.2-1 0.6-1 2.3-4-0.5-1.3-2.5-1.7-0.5-1.8 0.5-1.2 1.9-2-0.2-0.7-2.7 2.4-1-0.7-1.8-1 0-2 2.4-3-0.4-2-3-3.8-1.2-1.2-2.5-2-0.3-2 2-1.8-0.2-0.4-2 2-2-0.8-1.3-1.8 0.3-1.2 1.4-2.8-0.4-0.9-3 2-1-0.2-1-2.1 1.9-3-0.7-1.3-3.2-3.1-1-1.6-3.6-3.1-1.4 0-2 1.7-2-4.6-0.2-16-4.3-14-11.6-7.1-2.9-6.9-1.7-97 0.7-3.9 6-13.1 7.1-7 0.3-5 1.1-6 2.4-6-0.1-10 2.8-7 0.7-18 3.6 0-68.6 10 2.3 7 0.4 10.8 4 8.2 1.1 5-0.1 8 4.1 7 1.8 6 0.6 6.2 5.5 102.8 0.6 7-1.2 9-3.3 11-8.9 4-2 16-2 30-1.9 12-7.2 5 0.6 3-0.7 4 1.7 1-0.1 3-3.9 2-1.4 5 4.4 3-5.1 2-1.8 1.4 1.2 3.6 7.6 1-0.5 4-7 2 1.1 3 5.7 1 0.4 3-4.6 2-1.1 2 3.1 3 10.8 1 0.6 2.6-5.1 1.4-0.9 2 4 1.3 6.9 1.2 17 0.1 18-2.1 32-1.8 5 1.1 4-0.8 1.2-2 0.6-1-0.8-0.2-2-1.8-1-1 1 0 2 2 0.6 1-0.5 0.6 0.9-0.4 2-0.5 1-3.7 1-1 3.6-3 1.1-1 2.5-1 0.6-2-0.3-1-2.7-1-0.4-2.6 0.6-1.4 2.9zM540.5 1623.9l-2-0.7-18.5-26.6-17.5-23.2-2 19.7-1 2.1-1.6-20.6 0.7-7-14.1-21.8-0.2-1.2 0.7-1 1.5-0.3 1 0.7 8 10.3 6 6.4 2-0.1 5 1.7 5-0.3 22 3.5 16 1.7 36 1.9 29 3.3 16.2 3.2 2.5 1 2.1 2-0.7 2-1.9 2-7.8 5-8.4 2.2-15 2.2-14-0.6-26-4.2-13-1.1-20 0.5-5-0.5-3 0.8-2-0.3-0.6 1 0.4 1 3.9 7 17.3 25.2 0.3 1.8zM489.5 1608.8l-1 0.1-1.1-5.3-0.9-19 1-16 1-4.1 1-0.2 1.6 7.3 0.4 12-0.5 16zM972.5 1692.6l-17 0.3-20-1.2-60-6.9-117-9.6-47-5.3-23.3-1.3-28.1-5-9.4-3-6.5-3-0.8-1 0.1-3-2-2-18-11.5-12.1-10.5-3-5-0.1-5 1.2-2.5 4.8-4.5 0.7-2-3.4-7 1.7-1 3.2 0.1 25 6.2 20 1.4 56 7.2 68 5.8 42 4.6 35 5.2 31.7 6.5 27.1 8 28.6 11 27.3 13 6.5 4 4.6 4 1.4 2 0.7 3-0.2 2-1.4 2-6.3 2.7zM561.5 1638.1l-4.2-0.5-2.3-1 3.1 0 3.7 1zM466.9 1643.6l-0.1-1-1.3-0.9-1.3 0.9 0.3 1.7zM452.5 1651.9l-1.2-0.3 0.2-1.8 1-0.1 1 0.9zM461.5 1651.8l-1.2-0.2 0.2-1.8 1.7 0.8z"/>
<path fill="rgb(178,178,178)" d="M458.5 1647.8l-1 0.6-2-0.4-1-2.6-2-0.6-2 0.4-1 2.6-2 0.7-1.5-0.9-1.5-2.6-3-0.3-1.4 2.9-1.6 0.6-1.3-0.6-1.7-2.7-3-0.6-2-2.9-2 0.2-1.1 2-1.9 0.6-1.8-0.6-1.2-2.4-4.3-0.6-0.7-2.6-1-0.7-1.7 0.3-1.4 2-2.3 0-2-3-3.6-1-2-3-3-0.4-0.9-2.6-1.1-0.9-2 0.1-1.6 1.8-1.4 0-0.7-2 1.7-1.3 0.2-1.7-1.2-0.9-1 0.1-2 1.9-2-0.6-0.4-1.5 1.9-2 0.1-1-1.6-1.1-3 2-1.6-0.9-0.3-1 2.2-3-0.4-1-1.9-0.5-2 1.7-1.2-0.2-0.4-1 1.6-1.5 0.4-1.5-5.4-0.7-16-3.9-14-11.6-7-2.8-7-1.7-97 0.6-0.8 0.1-3.8 6-12.4 6.6-7 0.4-11 3.3-6 0-10 2.7-6 0.5-19 3.7 0-67.3 10 2.4 8 0.6 8.1 3.1 14.9 2 9 3.8 12 2.4 6 4.8 103 0.7 6-1 10-3.5 11-8.8 4-2.1 17-2 30-1.8 8-5.2 3-1.2 4 1 4-1.1 4 1.8 1-0.2 3.4-4.6 1.6-1 5 5.1 3-5.7 2-1.8 1.4 1.4 3.6 7.9 1-0.6 4-7.5 2 1.1 3 6.1 1 0.6 3-5.1 2-1.2 2 3.5 3 12 1 0.6 2.9-6.4 1.1-0.6 1.4 2.6 1.4 6 1 13 0.3 18-0.4 17-1.6 20-2.7 5 1.6 2.2 0 2.1-1 0.5-1-0.5-0.7-2.3-2.3-0.7-1.2 0.7-0.8 4.9-1.6 0.1-0.9 1 1.9 3-0.4 2.1-3 0.9-1.8-3-2.2-0.2-2 3.1-3 0.9zM540.5 1623.8l-2-0.8-20.6-29.4-18.1-24-15.3-24 0.7-2 1.3-0.2 1 0.8 9 11.5 6 6 2-0.2 5 1.7 5-0.3 30 4.5 18 1.7 24 0.8 23.8 2.7 16 3 2.5 1 2.4 2-0.1 2-1.3 2-6.3 4.6-8 2.1-13 1.8-15-0.6-25-4.1-13-1-20 0.5-5-0.5-3 0.9-2-0.5 0.6 2.8 3.9 7 17.5 25.5 0.2 1.5zM489.5 1603.5l-1-0.4-0.5-3.5-0.7-14 0.7-13 0.5-3 1-0.5 1 5 0.3 10.5-0.3 12.5zM499.5 1581.9l-0.9-8.3 0.9-3 1.1 1 0.5 4-0.6 5.3zM954.5 1688.6l-11 0.5-15-0.5-54-5.1-114-8.8-52.9-6.1-27.1-1.9-17.9-3.1-7.2-2-6.9-3-4.4-6-16.6-10.1-9-6.7-5.8-5.2-3.1-4-1-3 0.1-4 1-2 6.1-6 0.1-2-2.1-5 2.7-0.9 26 5.7 19 1.3 63 8 84 7.7 32.2 4.2 28.7 5 24.1 5.4 21.6 6.6 22.6 9 19 10 5.7 4 4 4 1.6 3 0.4 4-1.5 3-2.4 1.6zM475.5 1639.2l-2 0.1-0.9-1.7 0.9-0.8 2 0.4 0.5 1.4zM417.5 1642.7l-2 0-0.2-1.1 2.2-0.8zM440.5 1643.6l-1-1.5-1.7 0.5-0.2 1 1.9 0.8zM430.5 1647.3l-1 0.2-0.8-0.9 0.2-1 1.9 0zM466.5 1648l-1.9-0.4-0.1-2.2 3-0.2 0 1.4z"/>
<path fill="rgb(182,182,182)" d="M457.5 1648l-1.9-0.4-0.4-1 0.3-1.5 2-0.5 0.8-1-0.2-1-1.6-0.9-1 0.2-2 2.4-3.5 0.3-0.9 3-1.6 0.5-1.1-0.5-0.9-2.9-4-0.7-1-2-1-0.5-2 0.6-1 2.2-3-0.1-1-0.6-1-2.3-1-0.4-2 0.2-1.8 2.5-1.2 0.3-1.2-0.3-1.6-3-3.2-0.4-1.7-2.6-1.3-0.7-2 0.2-1 1.6-2 0.6-1-0.7-0.1-2 2.2-1-0.1-1.7-1.7-0.3-1.3 2.1-3.1-0.1-1.9-3-3.4-1-1.6-2.9-3.7-1.1-1.2-3-4-1-0.3-3-3.6-1-0.6-3-3.3-2-0.3-1-21-4.3-4-2.4-11-9.6-7-2.8-7-1.7-97 0.6-1.5 0.2-3.8 6-11.7 6.1-6 0.3-5 1-6 2.2-7 0.2-10 2.6-6 0.5-19 3.6 0-65.9 11 2.6 7 0.4 6.7 2.4 16.3 2.2 8 3.7 13 2.9 6 4.3 103 0.6 6-0.9 10-3.6 11-8.7 4-2 19-2.2 29-1.6 9-5.2 5 1 4-1.5 4 1.9 1-0.2 3.2-4.7 1.8-1.3 2 1.5 3 4.7 3-6.6 2-1.9 1.5 1.6 3.5 8.3 1-0.6 2.3-5.7 1.7-2.4 1 0 1 1.1 3 6.5 1 0.7 3-5.5 2-1.3 2 3.8 3 13.6 1 0.7 2.6-7.2 1.4-1.1 1 1.4 1.2 4.7 1.5 28-1.4 33-1.3 9.6-2 1.4-1.3 2-3.1 1-0.9 4-2.9 3 0 1 2.1 2-0.5 2-2.4 0.2-1-2.2-3-0.8-1 0.6-1 2.6-3 0.7zM540.5 1623.7l-2-0.9-17.5-25.2-20.1-27-16.3-25 0.8-2 1.1-0.1 1 0.9 10 12.6 6 5.6 2-0.1 4 1.4 6-0.1 20 3.5 13 1.5 15 1.3 21 0.5 18.3 2 16.6 3 5.8 3 0.5 2-0.8 2-4.8 4-7 2-12.6 1.7-15.7-0.7-21.3-3.8-14-1.1-20 0.6-5-0.5-5.8 0.8 1.6 4 4.8 8 16.4 23.7 0.1 1.3zM489.5 1593.6l-1-2.8-0.1-5.2 0.1-5.3 1-2.3zM935.5 1685.6l-22-0.4-154-11.2-53.8-6.4-28.2-2.4-16-2.6-6.4-2-3.8-2-5.9-6-16.9-9.8-10-7.4-5.4-4.8-3.1-4-1-3 0.1-4 1.4-2.3 6.3-5.7 0.3-2-0.9-4 2.3-0.6 23 4.7 20 1.4 64 8.2 78.9 7.3 31.1 4.1 27.7 4.9 26.5 6 19.3 6 19.5 8 14.3 8 5.2 4 3.4 4 1.5 4-0.3 4-1.4 2-3.5 2zM476.3 1627.6l-0.4-3-1.4-1.2-1.1 1.2 0.1 3.3 2 0.5zM390.5 1625.8l-1.5-0.2 0-1 1.5-0.9 0.6 0.9zM426.1 1639.6l-0.6-1.7-1.5 0.7-0.2 1 0.7 0.5zM449.4 1643.6l-0.3-1-1.6-0.6-1.3 1.6 0.3 0.7 2 0.1zM439.5 1647.6l-2-0.4 0-2.2 2.5 0.6zM465.5 1647.6l-0.7-1 0.6-1 1.1 0 0.4 1z"/>
<path fill="rgb(186,186,186)" d="M461.5 1644l-2-0.1-1.6-2.3-1.4-0.4-1.7 0.4-1 2-1.3 0.5-2-0.3-1-1.7-2-0.6-1 0.2-1.3 1.9-1.7 0.5-1.6-0.5-0.9-2-1.5-0.6-2 0.4-1.4 2.2-1.6 0.5-1.4-0.5-1.4-3-4.9 0 0-2-1.3-1.3-1.6 0.3-1.4 2.2-3-0.1-2-3-3-0.4-0.9-0.7-1.1-2.4-2-0.1-2 2.2-2-0.2-1.2-2.5-3.8-1.4-1.3-2.6-3.7-1.5-1.1-2.5-2.9-1.2-2-3.4-3-1.3-1.3-3.1-3.1-2-21.6-4.5-4-2.4-11-9.5-8-3.1-7-1.5-97 0.8-1.1 0.2-4 6-10.9 5.6-6 0.4-11 3.1-8 0.4-9 2.3-6 0.5-19 3.5 0-64.6 11 2.6 7 0.5 6 1.8 17 2.4 10 4.3 11 2.5 6 3.9 103 0.6 6-0.9 10-3.6 11-8.7 4-2 20-2.3 29.4-1.3 4.6-3.3 3-0.9 4 1.1 5-1.9 4 2.1 1-0.3 3.1-4.8 1.9-1.5 2 1.6 3 6 3-7.7 2-2.1 1.9 2.7 3.1 7.9 1-0.7 2.3-6.2 1.7-2.7 1 0.1 1 1.2 3 7 1 1 3-6.2 1-1.3 1-0.1 2 4.2 3 15.6 1 0.8 2.2-7.6 0.8-2 1-0.5 2 5.5 1.2 23-0.5 28-0.8 9-1.3 5 0.2 3-0.8 1.3-1-0.4-2.3-4.9 0.4-4-1.1-3.1-1 1.3-1.5 18.8-0.5 1.2-2.3 1.8-0.6 2 0.3 1 1.8 1 0.2 1-1.4 1-2-2.8-3-0.6-1.6-2.6-1.4-0.2-1 1 0 1.2 2.3 2-0.3 1.7zM540.5 1623.5l-2-0.9-16.7-24-20.6-28-16.4-25 0.7-1.9 2 0.9 9 11.5 7 7.5 2-0.4 5 1.7 5-0.3 21 3.8 24 2.7 22 0.4 12.3 1.1 16.4 3 6 2 2.5 2 0.4 2-1 2-4.3 3-8 2-8.3 0.9-15-0.7-19-3.8-7-0.7-15-0.7-13 1-6-0.5-3 0.8-2-0.7-0.4 0.4 0.5 2 4.4 8 18.5 27zM923.5 1682.6l-24-0.4-141-8.8-97-11.8-6-2.3-7.4-5.7-18.6-10.6-9-6.3-6-5.1-3.4-4-1.5-3-0.2-4 1.4-3 7.2-6 0.5-4.2 0.7-0.8 2.3-0.2 20 3.7 19 1.2 60 7.8 85 8.3 27 3.8 23 4 28 6.4 16.6 5 17.4 7 14.1 8 4.8 4 2.4 3 1.4 4-0.3 4-1.3 2-3.4 2zM407.8 1630.6l-0.3-0.9-1-0.1-0.5 1 0.5 0.7zM412.5 1638.8l-1.3-0.2 0.3-1.7 1-0.2 0.7 0.9zM453.6 1639.6l-0.8-2-1.3 0.4 0 1.8zM434.8 1639.6l-0.3-1.5-1-0.3-0.7 0.8-0.1 1 0.8 0.5zM444 1639.6l-0.5-1.9-1-0.1-0.7 2 0.7 0.6zM426.5 1643l-2 0.1-0.5-1.5 0.5-0.6 2-0.4 0.5 1zM448.5 1647.6l-1.3 0-0.6-2 0.9-0.5 1.4 0.5zM456.5 1647.6l-0.8-1 0.4-1 1.4-0.2 0.5 1.2z"/>
<path fill="rgb(190,190,190)" d="M460.5 1643.7l-2-2.4-4-1-0.8-2.7-1.2-0.6-1.3 0.6-0.5 2 0.6 1 2.6 1-1.1 2-1.4 0-1.3-2-1.6-0.5-2.9 0.5-1.6 2-1.5-0.2-0.6-1.8 2.8-2-0.6-2-1.6-0.5-2 3.2-3 0.6-2 2.5-1 0.3-1-0.4-0.5-1.7 2.6-2-1.1-2.2-1.8 0.2-1.2 2.2-2 0.4-1.8-0.6-1.2-2.4-2-0.4-1 0.3-1.8 2.5-1.2 0.1-1.3-1.1-0.6-2 0.9-1 2-0.3 0.2-0.7-1-1-1.2 0.7 0 1.3-1 0.8-4-0.8-1-2.2-2-1-2 0.4-1 1.9-2-0.1-0.2-2 2.2-1-0.1-2-1.9-0.7-2 2.1-3-0.4-1-2.9-3.7-1.1-1.3-2.8-3.2-1.2-1.2-3-2.7-1-1.9-3.9-4-1.5-21-4.2-4-2.4-11-9.5-8-3.1-6.7-1.4-97.3 0.7-1.8 0.3-4.1 6-10.1 5.1-6 0.5-11 2.9-8 0.5-8 2-26 4.1 0-63.2 12 2.7 7 0.5 6 1.4 15 1.9 11 4.7 11 2.7 4.4 3.2 1.6 0.3 103 0.6 6-1 10-3.5 11-8.6 4-2 20-2.3 29-1.3 1.6-0.2 4.4-2.6 6 1 5-2.3 4 2.2 1-0.4 3-4.9 2-1.7 2 1.7 3 7.6 3-9.1 2-2.3 2 3 3 8.5 1-0.9 2.3-6.8 1.7-2.8 1 0 1 1.2 4 9.3 3-7.3 1-1.4 1-0.1 2.1 5.1 3.9 22 1.9-12 1.1-3.1 1-0.7 1.7 4.8 1.2 23-0.7 28-1.1 9-1.1 2.2-1 0.4-1.9-7.6-1.1-11.5-1 3.6-1.3 20.9-1.3 4 0.7 4-3.1 3-1 2.3-3-0.3-1-2.9-3 0.7-0.6 2.2 2.2 2 0.2 1zM540.5 1623.3l-2-1-36.4-50.7-16.6-25.1-0.6-1.9 0.6-0.7 1.8 0.7 9.2 11.8 8 8.3 1-0.6 6 1.7 5-0.2 22 4.2 23 2.9 20-0.2 11.5 1.1 13.7 3 4.5 2 2.2 2-0.3 3-4.3 3-6.3 1.5-7 0.6-14-0.9-21-4.6-17-0.6-15 1.2-5-0.5-3 0.9-3-0.9 0.9 3.3 4.4 8 18.5 27zM915.5 1679.7l-17 0.4-42-1.5-97-5.8-21-2.1-76-10.4-6-2.4-26-14.7-8-5.4-10.3-9.2-2.2-4-0.2-4 1.5-3 6.9-5 2.5-4 3.8-0.8 16 2.6 21 1.4 59.2 7.8 72.3 7 30.1 4 23.5 4 22.9 5 21.6 6 15.7 6 12.9 7 5.1 4 2.5 3 1.5 3 0.2 4-1.3 3-2.2 1.6-3.7 1.4zM465.5 1635.6l0.6-1-0.6-1-1 0-0.3 2z"/>
<path fill="rgb(194,194,194)" d="M448.5 1640.6l-3-0.4-1-2.9-2-0.7-1 0.4-1 2.5-1 0.7-3-0.2-1-2.5-2-0.8-1 0.1-1.7 2.8-2.2 0-2.1-3-3-0.3-0.9-0.7-1.1-2.4-2 0-1.8 2.4-2.2 0-1.9-3-3.8-1-1.3-2.7-1-0.5-2 0-1.6 2.2-1.4 0.1-0.8-2.1 2.4-2-0.6-1.6-2-0.4-1.5 2-1.5 0.3-1-0.3-0.8-2 0.3-1 1.9-1-0.4-1.7-1-0.3-2 2.2-2-0.1-1-0.8-0.1-2.3 2.1-2-0.6-1-1.4-0.2-1 1.5-2 0.5-1.2-0.8-0.2-1 0.4-1.2 1.4-0.8-1.7-1-13.7-1.9-13-2.9-4-2.3-11-9.4-9-3.4-6-1.2-97 0.7-2.5 0.4-5.6 7-6.9 3.4-11 1.5-6 1.9-9 0.7-8 1.9-26 4 0-61.9 13 2.9 27 3.2 12.9 5.4 9.1 2.3 4 2.7 2 0.3 103 0.6 6-0.9 10-3.5 11-8.6 4-2 20-2.2 29-1.3 6-1.5 5 1.1 6-2.7 4 2.2 1-0.4 3-5.2 2-1.9 2 2 2 7.6 1 1.6 3-10.5 2-2.5 2 3 3 9.3 1-0.9 3-9.3 1-1.3 1 0 1.7 3 3.3 9.4 3-8.9 1-1.5 1-0.1 1.2 2.1 1.4 6 2 18-0.2 35-1.1 21-1.6 5 0.9 4-2.6 2-1 2.1-2 0.8-1.1-1.9 2.5-2 0.1-1-0.5-1.1-2-0.9-1.6 3-3.1 2-1.3 2.9-3-0.3-2-3.5-1-0.2-1.9 1.1-0.5 2zM540.5 1623.1l-1 0-1-1.1-36.2-50.4-16.8-25.4 0-2.1 1.6 0.5 11.4 14.4 5 5.4 2 1.2 1-0.5 5 1.6 5-0.2 5 0.7 17 4.1 23 4.3 17-1.6 11 0.7 11 2.4 6.1 3.5 0.5 3-2.1 2-4.5 1.4-7 0.7-13.7-1.1-19.3-5.9-16 0.1-16 2.2-6-0.5-3 0.9-2-0.8-0.7 1 3.4 7 20.4 30 0.5 1zM478.5 1618.7l-1-0.6-1.2-5.5-1.3-24 0.8-24 1.4-7 1.3-1.8 1 2 0.9 6.8 0.6 21-0.6 22zM900.5 1677.6l-22 0.2-34-0.8-87-4.9-42-5-51-7.9-9-3.1-23-12.1-8-5.1-11.9-10.3-2.2-4-0.2-4 1.7-3 7.5-5 3.1-3 4-0.7 15 2.1 20 1.2 62 8.1 64.2 6.3 29.9 4 23.9 4.1 22.4 4.9 21.1 6 15.4 6 10.6 6 4.7 4 2.1 3 1 3-0.4 4-1.4 2-3.7 2zM421.5 1639.1l-1.7-0.5-0.3-1.1 0.9-0.9 1.9 0zM434.5 1643l-0.9-0.4 0.3-1 1.6 0-0.1 1z"/>
<path fill="rgb(198,198,198)" d="M458.5 1639.7l-3-0.1-1-3.2-1-0.4-2.7 0.6-1.3 3-3 0.5-2-3.5-3-0.5-1.8 3.5-2.2 0.3-2-3-3.5-1.3-1.5-2.4-1.9 0.4-1.1 2.4-3.9-0.4-1.1-2.3-2-0.8-2 0.7-1 1.8-2 0-0.8-2.4 2.2-1 0.6-1-0.4-1-1.6-0.4-1.7 2.4-2.4 0-1.5-1-1.4-2.4-3-0.7-1.5-2.9-4.2-1 0-2-1.3-1.5-2-0.1-1.1 1.6-1.9 0.4-0.5-1.4 2.3-2-0.3-2-5.1-3-14.4-1.8-14-3.1-4-2.4-11-9.3-9-3.4-6-1.1-98 0.7-2.2 0.4-5.6 7-6.2 2.9-11 1.6-6 1.7-9 0.8-8 1.9-26 3.8 0-60.5 12.4 2.8 25.6 2.3 17 6.7 7 1.9 3.5 2.1 2.5 0.4 103 0.6 6-0.9 9.1-3.1 11.9-9 4-1.9 23-2.5 39-1.4 4-1.7 2.6 1.5 2.4 0.2 3-5.4 2-1.9 2 2.2 1.9 8.9 1.1 1 3-11 1-2.2 1-0.6 2 3.2 3 10.2 1-1.1 3-10.3 1-1.3 1 0 2.1 4.1 2.9 10.9 3-11.2 1-1.7 1 0 1 1.7 1.5 6.3 1.5 16 0.2 24-0.8 24-0.7 10-1.7 4 1.1 3-0.1 1-2 0.9-2-2.8-2.2-1.1-1.8-2.8-1.1 1.8 1.4 2-0.1 2-3.2 2.6zM540.5 1622.9l-1 0-1-1.1-36-50.2-17-25.7 0-1.6 1.4 0.3 10.2 13 8.4 9.1 2-0.5 5 1.6 5-0.3 9 1.8 9.4 3.3 5.4 3 0.5 1-2.1 2-9.1 3-4.1 0.5-4-0.5-3 1-3.4-1 0.3 2 3.6 7 20.5 30.2 0.5 0.8zM478.5 1614.2l-1-0.9-1-6.5-0.7-19.2 0.6-22 1.1-6.3 1-1.1 1 2.6 0.5 4.8 0.6 20-0.7 21zM597.5 1585.8l-8 0.8-9.2-1-7.5-3-2.2-3 2.1-2 5.8-1.4 6-0.1 7 1 6 2 3.3 2.5 0.1 2zM889.5 1675.6l-22 0.6-28-0.5-83-4.3-44-5.3-44-7-8-1.9-5-1.9-29-15.3-8.4-6.4-5.1-5-2.2-4-0.1-4 0.9-2 1.9-1.8 10-6.1 5-0.8 14 1.6 18 1 60 7.9 62.1 6.2 29.8 4 24.1 4.1 21.9 4.9 20.5 6 13 5 10.6 6 4.4 4 1.7 3 0.6 4-1.1 3-2.6 2-3 1.2zM399.5 1625.9l-1 0.3-1-0.6 0-1 2-0.8 0.5 0.8zM430.5 1639.1l-2-0.3 0-2.4 2.2 0.2 0.5 1z"/>
<path fill="rgb(202,202,202)" d="M457.5 1639.6l-2.1-1 0.1-1.9 1.8-2.1-1.8-1.1-2 1.8-3 0.6-1.8 3.7-1.2 0.3-1-0.4-1.2-2.9-3.8-1.5-1-1.6-1.8 0.1-0.8 1 0.2 1 1.6 1 0.4 1-0.6 1.5-1 0.4-1-0.3-1.3-2.6-3.1-1-2.3-3-2.3 0.3-2 2.6-1 0.1-1.9-1-1.1-2.2-3.9-0.8-0.7-2-1.2-1-1.6 0-1.6 2.1-2 0.4-1-0.5-1-3-4-1-1-2.5-3-0.9-2-3.4-3.1-1.2-1.1-3-3.7-2-16.1-2-14-3.1-4-2.3-11-9.3-8-3.1-6-1.3-99 0.5-3 0.6-5.6 7-5.4 2.4-17 3.3-10 1-33 5.4 0-59.2 9.2 2.1 28.8 2.4 27.1 10.6 2.9 0.5 103 0.6 6-1 9.3-3.1 11.7-8.8 4-2 29-2.7 37-1.6 5 0.9 1-0.7 3-5.8 1-0.5 2 2.6 1.4 7.6 2.6 1.3 2-9.9 1-2.5 1-0.7 2 3.4 3 11.5 1-1.4 3-11.4 1-1.5 1 0 2.3 5.2 2.7 13.2 3-14.1 1-1.9 1-0.1 2.1 6.9 1.5 16 0 32-1.1 25-2.2 5 0.7 3.6-4.9-3.6 0.8-5-1.9-2.1-0.4 3.1-2.4 4 1.5 3-0.1 1-3 2zM540.5 1622.8l-1.2-0.2-12.3-18-23.5-31.8-18-27.2 0-1.1 1.2 0.1 9.3 12 10.5 11.5 2-0.8 5 1.7 4-0.4 5.4 1 6 2 4.3 3 0.8 2-0.4 1-2.4 2-2.5 1-7.2-0.1-3 1.2-3-1.6-0.5 0.5 5.9 12 19.6 28.5zM478.5 1610.2l-1-1.8-0.4-3.8-0.7-17 0.6-20 0.5-4.7 1-1.6 1.1 5.3 0.5 19-0.4 17zM589.5 1584.6l-5 0-3.7-1-1.6-1-0.7-2 1.2-1 2.8-0.6 7 1 3 1.5 0.6 1.1-0.7 1zM864.5 1674.6l-40-0.4-72-3.7-45-5.6-40-6.8-13-3.9-19-9.4-9-5.2-7.9-6-5.2-5-2.2-4-0.1-4 2.4-3.3 10-5.4 3-1 4-0.2 30 2.1 57 7.7 53 5.3 29.9 3.8 35.4 6 31.3 8 13.8 5 8.5 4 7.1 5 2.9 4 0.6 3-0.5 3-1.6 2-3.4 1.8-11 2.1zM412.6 1626.6l-0.1-1-1-0.5-1 0.4-0.3 1.1 0.3 0.7zM453.5 1631.6l0.1-2-1.1-0.9-1 0.9 0 1.4 1 0.8zM416.5 1634.7l-1.1-1.1 1.1-1 1.1 1z"/>
<path fill="rgb(206,206,206)" d="M435.5 1635.7l-2-0.5-0.9-1.6-0.1-1 2.1-2-1.1-1.2-1.2 2.2-4.7 1-1.1 2.2-2 0-0.4-2.2 2.3-1-0.2-2-1.7-0.6-2 2.4-3-0.1-1.5-2.7-4.2-1-0.5-2-1.8-1.3-1.3 0.3-1.7 2.2-2-0.1-0.7-1.1 0.2-2 2.1-1 0.1-1-1.7-1-2 2.4-2.7-0.4-1.3-3.4-2.8-0.6-1-1-0.2-2.2 0.8-0.8-22.8-3.3-13-2.9-4-2.3-11-9.3-8.5-3.2-6.5-1.3-99 0.7-2.7 0.6-5.6 7-4.7 2-16 2.9-44 6.5 0-57.9 6 1.5 32 2.5 26.8 10.5 3.2 0.5 103 0.6 6-0.9 9.5-3.2 11.5-8.7 4-1.9 30-2.8 36-1.2 6 0.7 2.5-5.1 1.5-1.3 1 0.7 1 2.6 0.9 6 3.1 2.1 2-9.3 1-2.7 1-0.8 2 3.7 3 14.7 3.8-15.7 1.2-2.2 1 0 2.4 6.2 2.6 19.1 2.4-18.1 1.6-4.5 1-0.1 2 6.7 1.3 15.9-0.1 32-1.5 25-2.7 4.5-2-0.5-0.3-1 1.1-3-2-5 0.3-4-1.1-10.2-0.6 10.2-1.1 4 0.7 4-2.3 5 1.3 3-0.3 1-1.7 0.6-4-2.7-1-0.9-0.7-3-1.3-0.6-1.1 0.6-0.6 2 0.7 1.7 2 1.3-1 1.3-2-0.1-2-1.1-3 1.6-3-0.4-0.8-1.3 0.2-1 1.6-0.6 0.8-1.4-0.8-1.9-1-0.2-2 3.9-3 1.2-1 1.8zM528.5 1606.4l-27-36.7-15-23-0.5-1.1 0.5-0.8 11.7 14.8 10.3 11.1-0.5-1.1 1.5-1.1 5 2 5-0.3 6 2.1 3 2.3 0.4 2-2.4 2.6-2 0.4-4-0.6-3 1.6-3-2-0.5 1 4.9 10 9.6 15 0.5 1zM478.5 1603.9l-1-3.8-0.4-13.5 0.4-15.6 1-4.2 1.1 18.8zM530.5 1609.2l-1.8-2.6 0.8-0.4 1.5 2.4zM532.5 1612l-1.6-2.4 0.6-0.5 1.6 2.5zM868.5 1672.6l-18 0.8-22-0.1-73-3.1-44-5.2-41-6.9-15-4.1-27-13.5-8.3-5.9-6.4-6-2.1-4-0.1-4 1.2-2 2.7-2 12-5 30 1.3 62 8.2 62 6.6 49.3 7.9 20.9 5 18.3 6 12.7 6 4.3 3 2.7 3 1.3 3 0 3-0.8 2-2.4 2-7.3 2.4zM534.5 1615l-1.5-2.4 0.5-0.7 2 2.7zM537.5 1619.6l-2-3 1-0.5 1.8 2.5zM540.5 1622.3l-1 0.2-2-2.9 1-0.8zM412.5 1630.5l-1 0-0.7-0.9 0.7-1.3 1.8 0.3zM448.5 1639.1l-1 0.2-1-0.6 0-2.6 2.4 0.5zM457.5 1638.9l-1 0-0.5-1.3 1.5-0.9 0.5 0.9z"/>
<path fill="rgb(210,210,210)" d="M443.5 1634.6l-0.7-1 1.7-1.2 0.3-1.8-1.3-2.6-2 0.1-1.2 3.5-2.8 1.2-2 2.1-2-0.6 0-1.3 1.8-2.4-0.8-1.6-1-0.5-1 0.2-2 2.7-2 0.2-2-2.8-2-0.5-1.2 0.3-1.1 2-1.7 0.4-1-0.6-0.4-1.8 0.4-1 2-0.4 0-1.9-2 0.1-1 2.1-3-0.2-1.1-0.7-0.9-2.2-4-1.2-0.8-2.6-1.2-0.7-2-0.1-1.1 1.8-1.9 0.5-0.7-1.5 2.5-2-0.8-2.5-2.2-0.5-0.8 0.3-0.7 1.7-1.3 0.4-0.9-0.4-0.1-1.4 2.4-1.6-24.4-3.3-14-3.1-4-2.3-11-9.2-8.3-3.1-6.7-1.3-100 0.6-2.5 0.7-5.7 7-3.8 1.5-16 2.9-44 6.3 0-56.5 5 1 33 2.4 24 9.5 6 1.5 103 0.6 7-1.2 8.7-3 14.3-10.2 9-1.4 36-2.2 21-0.4 7 0.5 0.8-0.3 2.2-4.7 1-0.6 1.5 2.3 1 6 3.5 2.4 0.7-0.4 1.7-9 1.6-2.5 2 3.8 1.6 8.7 1.4 22 1 3.9 0.7-24.9 2.3-11.5 1-1.7 1 0 2.4 7.2 1.3 17 0 47-1 5 0.6 4-2 4-0.3 3.3-4.1-1.3-0.9-3.5-1-1.1-2.7 1.6-1.2 4-4.1 0.8zM468.5 1627.8l-1 0.6-2.4-6.8-1.1-45 1.8-22 1.7-6 1-0.2 1.4 4.2 1.1 9 0.5 28-0.8 28-0.8 8zM521.5 1596.3l-20-26.9-10-15.6-0.6-1.2 0.6-0.8 19.7 22.8 4.1 9 6.8 12zM517.5 1578.7l-2-0.1-3.8-3 0-1-1.8-2-0.1-2 1.7-0.1 6 3.8 2-1.6 2 0.5 1.9 1.4 0.1 1.9-1 0.3-4-1.9zM452.8 1606.6l0.7-3 0-15.1-1 1.5-0.3 14.6 0.3 2.5zM856.5 1671.6l-36 0.6-68-2.8-45-5.5-39-6.8-8-1.9-8-3-25-12.7-8-5.9-5.3-5-2.1-4 0-4 1.3-2 2.1-1.5 12-4.8 30 1 61 8.1 61 6.6 46.4 7.6 20.7 5 15.3 5 12.6 6 4.2 3 2.6 3 1.1 3-0.2 3-1.1 2-2.6 1.9-8 2.4zM452.6 1623.6l0.9-0.2 0.3-1.8-0.3-1.6-1-0.5-1 2.1zM408.5 1625.7l-1 0.4-1-0.5 0.2-1 1.8-0.2z"/>
<path fill="rgb(215,215,215)" d="M448.5 1632.2l-2 0.1-0.9-0.7-1.1-3.5-4-1.9-0.3 4.4-2.7 1.5-1-0.1-1-2.8-3-1.8-2-2.8-1.7 1-0.2 1 2.6 2-0.5 2-1.2 0.4-1.2-0.4-1.8-2.6-3-0.7-2-3-2-0.1-1.8 2.4-2.2 0.1-0.8-1.1-0.1-2 2.5-1-0.6-1.8-1-0.1-2 2.5-3-0.5-1.5-3.1-3.3-1-1.2-2.9-1-0.6-5.8-1.5-22.2-2.5-14-3-4-2.3-11-9.2-8.1-3-6.9-1.4-101 0.6-2.2 0.8-6.1 7-2.7 1.1-60 8.9 0-55.1 38 2.8 24 9.4 6 1.6 103 0.6 7-1.2 8.9-3.1 14.1-10.1 10-1.5 39-2.1 25 0.3 2-4.2 1-0.5 1 1.2 1.2 5.9 4.8 2.8 1.3-7.8 1.7-3.3 1 1 1 3.1 1.3 8.2 1.5 21-0.9 34 1 4-1.4 4 0.3 2 1.3 2-2.1 2.2-1 3.7zM458.5 1631.7l-2 0-1.1-1.1 0.2-4-1.8-9 0.8-58 1.9-11.2 1-1.9 1 0 1.1 2.1 1.2 6 1.2 23-0.4 39-0.9 5 0.4 4zM468.5 1625.8l-2.6-4.2-0.7-8-0.5-37 1.2-20 1.4-6 1.2-0.8 1.3 3.8 1 9 0.4 26-0.8 28zM518.5 1591.8l-16-21.2-8.9-14 0.9-0.6 15.7 18.6 9.1 17zM846.5 1670.6l-32 0.5-63-2.3-44-5.4-37-6.4-9-2-8-2.8-24-11.8-7.1-4.8-6.9-6-2.6-4-0.5-4 0.8-2 2.3-2 12-4.6 26 0.5 67 8.6 57 6.2 38.7 6.3 25.5 6 12.3 4 9.3 4 6.4 4 3.7 4 0.9 3-0.2 3-1.3 2-3 2-9.3 2.6zM442.6 1623.6l1.2-2-1.3-2-1 3z"/>
<path fill="rgb(219,219,219)" d="M447.5 1631.8l-1-0.3-1.5-3.9-2.3-2 1.7-3-0.6-3-2-2 1.9-3-0.2-3.2-2.4 1.2 0.4 5-0.7 5-2 4 1.1 3-0.4 1.1-2 0.6-1.6-2.7-3.4-2.9-0.5-2.1 1.6-1-0.1-1.6-1 0.5-1 2-3.1 1.1-1 2-2.9 0.3-2-3.2-3-0.4-0.9-0.7-0.7-2-1.4-0.8-2-0.1-2 2.6-1.8-0.7-0.2-1 2.9-2-0.9-2.6-2-0.2-2 2.5-1 0.1-1.4-0.8-0.2-1 0.6-1.4 1.6-0.6-29.6-3.1-17-3.5-4-2.3-11-9.2-8-3-7-1.3-102 0.4-2 1-6 6.4-3.7 1.6-58.3 8.3 0-53.8 37 2.2 6 1.7 21.2 8.6 3.8 0.7 103 0.6 7-1.1 9-3.2 14-9.9 10-1.5 42-2.2 17-0.1 5 0.8 2-3.4 1-0.5 1 1.7 0.8 4.1 5.2 3.4 1.7-8.4 1.3-2.1 1.6 3.1 1.2 7 1.6 16 0.2 11-1.5 41-1.3 5zM457.5 1631.1l-1-0.2-0.6-1.3 0.8-3-1.8-6-0.3-49 0.9-17 1.1-5 0.9-1.9 1 0 1.8 5.9 0.9 11 0.1 44-0.9 17-1.9 4.6zM467.5 1622.7l-0.9-2.1-0.9-8-0.5-39 1.1-17 1.2-4.8 1-0.3 1.2 4.1 1 10 0.2 31-1.1 21-1.3 4.5zM516.5 1588.7l-15-19.9-5.1-8.2-0.5-1 0.6-0.8 12.4 14.8 7.6 13.7zM838.5 1669.6l-28 0.5-60-1.9-44-5.5-38-6.6-8-1.9-8-2.9-24-11.8-8-5.8-5.4-5.1-1.8-3-0.4-4 0.9-2 2.5-2 11.2-4 6-0.4 21 0.7 65 8.5 55 6.1 37 6.1 25.4 6 18.9 7 6.6 4 3.7 4 0.9 3-0.4 3-1.3 2-3.1 2-9.7 2.6z"/>
<path fill="rgb(223,223,223)" d="M448.5 1630.8l-1 0.3-1-0.6-0.7-3.9-0.9-1-0.1-5-1-3 0.5-6-0.8-0.7-2.9 1.7-0.4 10-2.7 4 1.7 3-0.7 1-1-0.4-1.2-2.6-3-2 1.6-4-2.5-3-0.9-3-2 2 1.9 3-0.9 2.2-3 0.7-1.2-2.9-1.8-0.7-1 0.2-1.7 2.5-1.3 0.1-1.3-1.1-0.2-2 2.6-1-0.1-2.1-2 0-1 2.4-2 0-2-1.1-1-2.8-34-3.6-17-3.3-5-2.6-11-9.1-8-3-6-1.2-105 0.4-6 6.2-5 2.2-26 4.4-31 3.2 0-51.9 20 0.4 17 1.3 6 1.7 21 8.5 4 0.8 103 0.6 7-1.1 9-3.2 14-9.9 11-1.6 42-2.1 16 0 5 0.8 1.3-0.3 0.7-1.7 1-0.4 1.3 4.1 5.7 3.8 2-8.2 1-1.3 1 1.2 1.2 5.5 2.2 24-0.2 15-1.1 7 0 16-0.7 6-1.4 3 0.4 2zM458.5 1626.2l-2-2-1.1-2.6-0.5-37 0.6-27 1-6.3 1-2.3 1 0 1.1 2.6 0.8 6 0.7 21-0.5 38-1.1 8.3zM468.5 1619.5l-1 0-1.3-6.9-0.6-37 0.9-17.3 1-4.5 1-0.4 1 3.2 0.8 8 0.3 22-0.4 22-0.7 8zM513.5 1584.5l-13-17.7-2-3.2 1-0.8 10.1 12.8 4 7zM831.5 1668.6l-54 0.1-29-1.2-45-5.7-37-6.6-14-4.3-24-11.8-7.7-5.5-5.2-5-1.8-3-0.3-4 1-2.1 2.8-1.9 10.2-3.4 6-0.5 21 0.5 66 8.8 50.4 5.6 36.1 6 25.2 6 9.1 3 9.2 4 4.9 3 3.7 4 0.9 3-0.3 3-1.3 2-3.2 2-9.7 2.6zM426.5 1625.9l-1 0.4-1-0.5-0.1-1.2 2.1-0.8z"/>
<path fill="rgb(227,227,227)" d="M435.5 1625.9l-0.8-0.3 0.9-4-2.3-4 0.2-2.1-4 0-1.1 1.1-0.4 2 2.1 2-0.6 1.5-1-0.1-1.1-2.4-3.3-1-1.2-3-1.4-0.6-36-3-19-3.1-5-1.2-3-1.6-12-9.7-8-3-7-1.4-104 0.5-6 5.2-5 2.3-27 5.2-30 2.3 0-50.7 19 0.4 18 1.3 6 1.7 21 8.5 4 0.8 103 0.6 7-1.2 9-3.1 11-8.3 5-2 31-2.6 30-0.7 12 0.9 2-0.6 0.9 2.1 6.1 4.1 1-1.1 1-5.7 1-1.5 1 1.4 1 5.1 2.1 20.7 0 16-1.3 9-0.8 19.9-2 2.4-1.8-1.3-1-6-0.2-7.4-4.4 2.4-0.8 5 0.2 5zM458.5 1624l-1 0-1.5-2.4-0.8-37 0.7-27 1.1-6 0.5-1.2 1 0 1.6 8.2 0.7 20-0.3 31-0.5 8zM468.5 1616.7l-1-0.8-0.5-2.3-0.7-7-0.3-30 0.6-15 0.9-5.5 1-0.6 1.5 10.1 0.2 20-0.4 23zM510.5 1580.2l-9-12.5-0.5-1.1 0.5-0.8 8 10.5 1.8 3.3zM825.5 1667.7l-49 0.4-28-1.2-45-5.6-36-6.4-15-4.5-24-11.7-7.2-5.1-5.2-5-1.8-3-0.3-4 1.1-2 2.4-1.6 10-3.3 7-0.5 20 0.4 65 8.7 47.1 5.3 35.9 6 25 6 15.9 6 5.1 3 4 4 0.9 3-0.3 3-1.3 2-3 2-9.3 2.6z"/>
<path fill="rgb(231,231,231)" d="M447.5 1623.7l-1-0.5-0.5-1.6-0.9-11-0.6-1.1-4.9 3.1-1.1 5 0.6 4-1.6 1.6-3.1-5.6 0.6-3-8.5 0.9-2.4-0.9-38.6-2.7-18-2.9-8-2.4-13-10.3-8-3-7-1.3-104 0.4-1.3 0.2-7.7 5.7-12.1 2.3-9.9 3.5-18 2-19 1.1 0-50.2 19 0.3 18 1.4 6 1.7 21 8.4 4 0.7 103 0.6 7-1.1 9-3.1 11-8.2 5-2.1 27-2.4 41-0.7 7 1.4 8 5.8 1-5.7 1-1.8 1.3 3.4 2.3 17 0.4 12-0.2 10-1.4 8-0.8 19-0.6 1.6zM458.5 1621.7l-1 0.8-0.8-1.9-1-16 0.2-41 0.6-8 1-3.5 1 0 1 4 0.9 19.5-0.3 33zM468.5 1612.7l-1-0.5-0.8-7.6-0.3-28 0.8-15 0.3-2.5 1-0.8 1.1 8.3 0.3 19-0.4 20.4zM820.5 1666.7l-45 0.7-28-1.1-45.6-5.7-36.4-6.6-15-4.8-23-11.4-6.9-5.2-4-4-1.8-3-0.2-4 1.3-2 2.6-1.6 10-3 27 0 64 8.7 47 5.4 31.6 5.5 24.9 6 15.4 6 4.8 3 3.4 4 0.3 5-1.3 2-2.9 2-9.2 2.6z"/>
<path fill="rgb(235,235,235)" d="M447.5 1622.5l-1-1.9-1-12-6.4 4-1.6 4.5-1 1-0.6-3.5-1.4-0.3-4 0.4-18-0.8-34-3.1-18-3.8-14-10.8-8-3-7-1.3-104 0.4-3.7 1.3-5.3 3.7-8 1.4-8 3.4-6 1.8-19 2.1-18 1 0-49.9 20 0.4 18 1.5 26 10 4 0.6 103 0.6 7-1.1 9-3.1 12-8.8 6-1.7 27-2.2 39-0.6 7 1.7 8 5.7 2-5.9 1 2.1 1 10.3 1.4 6 0.4 12-0.3 11-1.5 7-1 18.1zM458.5 1617.5l-1-0.2-1-3.4-0.4-9.3 0-38 0.4-7.5 1-4.9 1 0.1 0.9 5.3 0.6 14-0.2 34zM468.5 1608.3l-1-1.6-0.3-4.1-0.3-25 0.6-14 1-1.6 0.8 8.6 0.2 14zM784.5 1666.6l-24-0.1-22-1.6-44-5.9-33-6.4-15-5.6-20-10.3-9.4-8.1-1.7-3-0.1-4 1.4-2 2.8-1.6 9-2.5 27-0.1 63 8.6 47.2 5.6 28.3 5 24.5 6 15 6 4.4 3 2.9 4 0.2 3-1.3 3-2.8 2-5.9 2-16.5 2.1z"/>
<path fill="rgb(239,239,239)" d="M447.5 1616.1l-1-1.4-0.4-6.1-0.6-0.4-6.8 4.4-1.2 1.5-1-0.5-6 0.9-40-2.5-22-3.1-9-2.6-11-9-4-2.2-9-2.8-5-0.5-103 0.4-4.8 1.4-4.2 2.7-6 1.2-10 4.5-6 1.7-20 2.2-17 0.8 0-49.4 19.4 0.3 18.6 1.5 26 10 4 0.7 103 0.5 8-1.4 8-2.8 11-8.2 5-2 30-2.5 26-0.7 14 0.4 7 2.6 6 4.7 1-0.6 1-3 1 2.6 2.4 15.2 0.1 16-0.4 7-1.5 6-0.4 10zM458.5 1614.1l-1 0.4-0.2-0.9-0.9-10 0.1-35 1-11.6 1.1 0.6 1 13-0.1 32zM468.5 1600.1l-0.9-6.5-0.1-9 0-10.4 1-5.6zM790.5 1665.6l-27 0.4-23-1.4-45-6-34-6.4-14-5.2-20-10-6-4.4-3.9-4-1.7-3-0.2-3 0.8-2 2.8-2 8.2-2.5 28-0.3 62 8.5 44.2 5.3 28.4 5 23.9 6 14.6 6 4.1 3 2 3 0.4 3-1.2 3-2.6 2-4.8 1.8-14 2.2z"/>
<path fill="rgb(243,243,243)" d="M434.5 1613.9l-9 0.3-31-2-26-3.4-9-2.6-11-9-4-2.2-9-2.9-5-0.4-104 0.4-24 9.7-6.2 1.8-20.8 2.2-16 0.7 0-49.1 16.1 0.2 21.9 1.6 26 10 4 0.8 103 0.3 8-1.2 8-2.9 11-8.1 5-2 30-2.5 25-0.7 15 0.3 8 3.3 6 5.3 1-1.6 2.7 10.4 0.6 6-0.2 19-2 8-1.1 9.6-1-5.9-9 6zM458.5 1608.6l-1 0.1-0.6-11.1 0.6-36.1 1 0.2 0.6 10.9zM792.5 1664.6l-27 0.8-24-1.2-44-5.7-35-6.5-15-5.4-20-9.9-5.5-4.1-3.9-4-1.6-3-0.2-3 1-2 2.2-1.6 8-2.5 28-0.3 102.2 13.4 26.8 4.6 25.1 6.4 12.4 5 4.5 3 2.3 3 0.1 5-1.5 2-3.6 2-11.3 2.5z"/>
<path fill="rgb(247,247,247)" d="M434.5 1613.7l-9 0.3-31-1.9-26-3.5-9-2.6-14-10.7-10-3.3-5-0.3-104 0.3-7 2.4-3 1.8-2 0.1-12 5.3-6.9 2-21.1 2.1-15 0.6 0-48.7 26 0.6 12 1.1 23 8.9 7 1.9 104 0.3 7-1.2 8-2.9 11-8.1 5-2 34-2.6 36-0.2 7.8 3.2 6.9 6 2.5 7 0.9 7-0.2 18-0.7 5-1.6 5-5.6 5.5-5 2.8zM458.5 1596l-1 0.5 0-23.1 1 0zM774.5 1664.6l-22-0.2-21-1.9-40-5.5-31-6-14-5.2-19-9.5-5-3.7-3.8-4-1.6-3-0.1-3 2.5-3 8-2.6 28.8-0.4 100.2 13.4 26.1 4.6 22.6 6 12.1 5 4.1 3 2 3 0.2 3-1.1 2.4-2 1.7-4.7 1.9-12.3 2.1z"/>
<path fill="rgb(251,251,251)" d="M433.5 1613.7l-11 0-28-1.8-25.4-3.3-9.6-2.7-14-10.9-10-3.1-5-0.3-104 0.3-7 2.2-3 1.8-2 0.2-16 6.7-24.6 2.8-14.4 0.4 0-48.1 26 0.4 12 1.1 25 9.7 5 1.2 104 0.2 4-0.4 10-3.1 12-8.7 5-2 18-1.8 21-0.9 31 0 7.5 3 3.9 3 2.6 3.1 3 6.9 0.8 10-0.4 18-2.8 8-5.8 5zM779.5 1663.6l-21 0.4-21-1.3-43-5.7-33-6.2-14-5-19-9.2-5.5-4-3.8-4-1.4-3-0.1-3 2.8-3 8-2.4 28-0.2 98 13.3 24.5 4.3 21.9 6 11.7 5 2.8 2 2.3 3 0.3 3-0.5 2-2 2-4.5 2-10.4 2z"/>
<path fill="rgb(255,255,255)" d="M432.5 1613.7l-39.7-2.1-17.3-2-10-1.9-6.3-2.1-13.7-10.8-8.3-2.2-0.7-0.7-7-0.7-104 0.6-27 10.9-15 2-24 1.1 0-47.5 26 0.2 12 1.1 29 10.8 106 0.1 3-0.1 0.9-0.8 3.1-0.3 6-2 5-3.1 7-5.7 4.3-1.9 22.7-2.2 29-1 18 0.2 8 2.9 6 5.2 3.2 5.9 1 4 0.2 6-0.2 20-1.2 4.5-1.8 3.5-4.2 4-6 3.2zM780.5 1662.7l-21 0.7-22-1.3-42-5.4-32.9-6.1-14.1-4.8-19.3-9.2-8.7-7-2-3.6 0-3.4 3-3 8-2.1 23-0.2 12 1 51 7.6 37.4 4.7 21.6 3.8 16.2 4.2 11.2 4 6 3 4.1 4 0.5 2-0.4 3-1.7 2-2.9 1.5-10.3 2.5z"/>
<rect x="400" y="1516" width="4" height="4" fill="rgb(4,4,4)"/><rect x="368" y="1520" width="4" height="4" fill="rgb(12,12,12)"/><rect x="400" y="1520" width="4" height="4" fill="rgb(20,20,20)"/><rect x="404" y="1520" width="4" height="4" fill="rgb(89,89,89)"/><rect x="444" y="1520" width="4" height="4" fill="rgb(89,89,89)"/><rect x="472" y="1520" width="4" height="4" fill="rgb(81,81,81)"/><rect x="368" y="1524" width="4" height="4" fill="rgb(61,61,61)"/><rect x="376" y="1524" width="4" height="4" fill="rgb(49,49,49)"/><rect x="380" y="1524" width="4" height="4" fill="rgb(65,65,65)"/><rect x="384" y="1524" width="4" height="4" fill="rgb(101,101,101)"/><rect x="392" y="1524" width="4" height="4" fill="rgb(4,4,4)"/><rect x="396" y="1524" width="4" height="4" fill="rgb(57,57,57)"/><rect x="412" y="1524" width="4" height="4" fill="rgb(24,24,24)"/><rect x="416" y="1524" width="4" height="4" fill="rgb(121,121,121)"/><rect x="420" y="1524" width="4" height="4" fill="rgb(12,12,12)"/><rect x="424" y="1524" width="4" height="4" fill="rgb(32,32,32)"/><rect x="428" y="1524" width="4" height="4" fill="rgb(45,45,45)"/><rect x="432" y="1524" width="4" height="4" fill="rgb(138,138,138)"/><rect x="436" y="1524" width="4" height="4" fill="rgb(77,77,77)"/><rect x="440" y="1524" width="4" height="4" fill="rgb(101,101,101)"/><rect x="448" y="1524" width="4" height="4" fill="rgb(85,85,85)"/><rect x="452" y="1524" width="4" height="4" fill="rgb(121,121,121)"/><rect x="460" y="1524" width="4" height="4" fill="rgb(85,85,85)"/><rect x="468" y="1524" width="4" height="4" fill="rgb(4,4,4)"/><rect x="376" y="1528" width="4" height="4" fill="rgb(4,4,4)"/><rect x="380" y="1528" width="4" height="4" fill="rgb(101,101,101)"/><rect x="388" y="1528" width="4" height="4" fill="rgb(97,97,97)"/><rect x="400" y="1528" width="4" height="4" fill="rgb(73,73,73)"/><rect x="408" y="1528" width="4" height="4" fill="rgb(53,53,53)"/><rect x="412" y="1528" width="4" height="4" fill="rgb(53,53,53)"/><rect x="416" y="1528" width="4" height="4" fill="rgb(134,134,134)"/><rect x="424" y="1528" width="4" height="4" fill="rgb(101,101,101)"/><rect x="432" y="1528" width="4" height="4" fill="rgb(85,85,85)"/><rect x="452" y="1528" width="4" height="4" fill="rgb(162,162,162)"/><rect x="456" y="1528" width="4" height="4" fill="rgb(97,97,97)"/><rect x="468" y="1528" width="4" height="4" fill="rgb(81,81,81)"/><rect x="476" y="1528" width="4" height="4" fill="rgb(93,93,93)"/><rect x="488" y="1528" width="4" height="4" fill="rgb(4,4,4)"/><rect x="496" y="1528" width="4" height="4" fill="rgb(61,61,61)"/><rect x="380" y="1532" width="4" height="4" fill="rgb(121,121,121)"/><rect x="400" y="1532" width="4" height="4" fill="rgb(73,73,73)"/><rect x="404" y="1532" width="4" height="4" fill="rgb(158,158,158)"/><rect x="408" y="1532" width="4" height="4" fill="rgb(138,138,138)"/><rect x="416" y="1532" width="4" height="4" fill="rgb(154,154,154)"/><rect x="420" y="1532" width="4" height="4" fill="rgb(166,166,166)"/><rect x="428" y="1532" width="4" height="4" fill="rgb(162,162,162)"/><rect x="432" y="1532" width="4" height="4" fill="rgb(89,89,89)"/><rect x="440" y="1532" width="4" height="4" fill="rgb(69,69,69)"/><rect x="452" y="1532" width="4" height="4" fill="rgb(89,89,89)"/><rect x="460" y="1532" width="4" height="4" fill="rgb(166,166,166)"/><rect x="464" y="1532" width="4" height="4" fill="rgb(77,77,77)"/><rect x="496" y="1532" width="4" height="4" fill="rgb(40,40,40)"/><rect x="384" y="1536" width="4" height="4" fill="rgb(93,93,93)"/><rect x="392" y="1536" width="4" height="4" fill="rgb(81,81,81)"/><rect x="396" y="1536" width="4" height="4" fill="rgb(89,89,89)"/><rect x="408" y="1536" width="4" height="4" fill="rgb(89,89,89)"/><rect x="420" y="1536" width="4" height="4" fill="rgb(210,210,210)"/><rect x="424" y="1536" width="4" height="4" fill="rgb(198,198,198)"/><rect x="432" y="1536" width="4" height="4" fill="rgb(186,186,186)"/><rect x="440" y="1536" width="4" height="4" fill="rgb(146,146,146)"/><rect x="448" y="1536" width="4" height="4" fill="rgb(206,206,206)"/><rect x="452" y="1536" width="4" height="4" fill="rgb(109,109,109)"/><rect x="464" y="1536" width="4" height="4" fill="rgb(93,93,93)"/><rect x="472" y="1536" width="4" height="4" fill="rgb(101,101,101)"/><rect x="476" y="1536" width="4" height="4" fill="rgb(105,105,105)"/><rect x="480" y="1536" width="4" height="4" fill="rgb(73,73,73)"/><rect x="484" y="1536" width="4" height="4" fill="rgb(57,57,57)"/><rect x="368" y="1540" width="4" height="4" fill="rgb(36,36,36)"/><rect x="384" y="1540" width="4" height="4" fill="rgb(36,36,36)"/><rect x="392" y="1540" width="4" height="4" fill="rgb(73,73,73)"/><rect x="404" y="1540" width="4" height="4" fill="rgb(97,97,97)"/><rect x="424" y="1540" width="4" height="4" fill="rgb(198,198,198)"/><rect x="440" y="1540" width="4" height="4" fill="rgb(125,125,125)"/><rect x="456" y="1540" width="4" height="4" fill="rgb(174,174,174)"/><rect x="468" y="1540" width="4" height="4" fill="rgb(130,130,130)"/><rect x="476" y="1540" width="4" height="4" fill="rgb(202,202,202)"/><rect x="376" y="1544" width="4" height="4" fill="rgb(134,134,134)"/><rect x="436" y="1544" width="4" height="4" fill="rgb(243,243,243)"/><rect x="468" y="1552" width="4" height="4" fill="rgb(150,150,150)"/><rect x="492" y="1552" width="4" height="4" fill="rgb(251,251,251)"/><rect x="496" y="1552" width="4" height="4" fill="rgb(125,125,125)"/><rect x="504" y="1552" width="4" height="4" fill="rgb(170,170,170)"/><rect x="488" y="1556" width="4" height="4" fill="rgb(154,154,154)"/><rect x="476" y="1560" width="4" height="4" fill="rgb(215,215,215)"/><rect x="492" y="1560" width="4" height="4" fill="rgb(109,109,109)"/><rect x="500" y="1560" width="4" height="4" fill="rgb(202,202,202)"/><rect x="504" y="1560" width="4" height="4" fill="rgb(215,215,215)"/><rect x="476" y="1564" width="4" height="4" fill="rgb(186,186,186)"/><rect x="480" y="1564" width="4" height="4" fill="rgb(178,178,178)"/><rect x="492" y="1564" width="4" height="4" fill="rgb(146,146,146)"/><rect x="512" y="1564" width="4" height="4" fill="rgb(174,174,174)"/><rect x="480" y="1568" width="4" height="4" fill="rgb(154,154,154)"/><rect x="480" y="1572" width="4" height="4" fill="rgb(206,206,206)"/><rect x="488" y="1572" width="4" height="4" fill="rgb(231,231,231)"/><rect x="496" y="1572" width="4" height="4" fill="rgb(154,154,154)"/><rect x="484" y="1576" width="4" height="4" fill="rgb(138,138,138)"/><rect x="496" y="1576" width="4" height="4" fill="rgb(206,206,206)"/><rect x="504" y="1576" width="4" height="4" fill="rgb(170,170,170)"/><rect x="480" y="1580" width="4" height="4" fill="rgb(202,202,202)"/><rect x="484" y="1580" width="4" height="4" fill="rgb(194,194,194)"/><rect x="488" y="1580" width="4" height="4" fill="rgb(150,150,150)"/><rect x="496" y="1580" width="4" height="4" fill="rgb(150,150,150)"/><rect x="480" y="1584" width="4" height="4" fill="rgb(121,121,121)"/><rect x="484" y="1584" width="4" height="4" fill="rgb(219,219,219)"/><rect x="492" y="1584" width="4" height="4" fill="rgb(109,109,109)"/><rect x="496" y="1584" width="4" height="4" fill="rgb(190,190,190)"/><rect x="504" y="1584" width="4" height="4" fill="rgb(202,202,202)"/><rect x="512" y="1584" width="4" height="4" fill="rgb(190,190,190)"/><rect x="464" y="1588" width="4" height="4" fill="rgb(255,255,255)"/><rect x="472" y="1588" width="4" height="4" fill="rgb(198,198,198)"/><rect x="476" y="1588" width="4" height="4" fill="rgb(231,231,231)"/><rect x="484" y="1588" width="4" height="4" fill="rgb(174,174,174)"/><rect x="488" y="1588" width="4" height="4" fill="rgb(142,142,142)"/><rect x="492" y="1588" width="4" height="4" fill="rgb(142,142,142)"/><rect x="496" y="1588" width="4" height="4" fill="rgb(146,146,146)"/><rect x="504" y="1588" width="4" height="4" fill="rgb(117,117,117)"/><rect x="512" y="1588" width="4" height="4" fill="rgb(150,150,150)"/><rect x="480" y="1592" width="4" height="4" fill="rgb(142,142,142)"/><rect x="488" y="1592" width="4" height="4" fill="rgb(117,117,117)"/><rect x="492" y="1592" width="4" height="4" fill="rgb(198,198,198)"/><rect x="500" y="1592" width="4" height="4" fill="rgb(134,134,134)"/><rect x="504" y="1592" width="4" height="4" fill="rgb(158,158,158)"/><rect x="468" y="1596" width="4" height="4" fill="rgb(255,255,255)"/><rect x="476" y="1596" width="4" height="4" fill="rgb(206,206,206)"/><rect x="484" y="1596" width="4" height="4" fill="rgb(138,138,138)"/><rect x="488" y="1596" width="4" height="4" fill="rgb(121,121,121)"/><rect x="492" y="1596" width="4" height="4" fill="rgb(206,206,206)"/><rect x="496" y="1596" width="4" height="4" fill="rgb(105,105,105)"/><rect x="500" y="1596" width="4" height="4" fill="rgb(117,117,117)"/><rect x="504" y="1596" width="4" height="4" fill="rgb(174,174,174)"/><rect x="468" y="1600" width="4" height="4" fill="rgb(255,255,255)"/><rect x="484" y="1600" width="4" height="4" fill="rgb(138,138,138)"/><rect x="492" y="1600" width="4" height="4" fill="rgb(125,125,125)"/><rect x="496" y="1600" width="4" height="4" fill="rgb(105,105,105)"/><rect x="500" y="1600" width="4" height="4" fill="rgb(170,170,170)"/><rect x="504" y="1600" width="4" height="4" fill="rgb(117,117,117)"/><rect x="508" y="1600" width="4" height="4" fill="rgb(198,198,198)"/><rect x="512" y="1600" width="4" height="4" fill="rgb(162,162,162)"/><rect x="468" y="1604" width="4" height="4" fill="rgb(251,251,251)"/><rect x="472" y="1604" width="4" height="4" fill="rgb(154,154,154)"/><rect x="480" y="1604" width="4" height="4" fill="rgb(154,154,154)"/><rect x="484" y="1604" width="4" height="4" fill="rgb(150,150,150)"/><rect x="488" y="1604" width="4" height="4" fill="rgb(158,158,158)"/><rect x="492" y="1604" width="4" height="4" fill="rgb(206,206,206)"/><rect x="496" y="1604" width="4" height="4" fill="rgb(101,101,101)"/><rect x="500" y="1604" width="4" height="4" fill="rgb(243,243,243)"/><rect x="504" y="1604" width="4" height="4" fill="rgb(49,49,49)"/><rect x="508" y="1604" width="4" height="4" fill="rgb(97,97,97)"/><rect x="472" y="1608" width="4" height="4" fill="rgb(190,190,190)"/><rect x="476" y="1608" width="4" height="4" fill="rgb(202,202,202)"/><rect x="480" y="1608" width="4" height="4" fill="rgb(150,150,150)"/><rect x="484" y="1608" width="4" height="4" fill="rgb(130,130,130)"/><rect x="492" y="1608" width="4" height="4" fill="rgb(194,194,194)"/><rect x="500" y="1608" width="4" height="4" fill="rgb(251,251,251)"/><rect x="504" y="1608" width="4" height="4" fill="rgb(85,85,85)"/><rect x="516" y="1608" width="4" height="4" fill="rgb(101,101,101)"/><rect x="416" y="1612" width="4" height="4" fill="rgb(235,235,235)"/><rect x="476" y="1612" width="4" height="4" fill="rgb(235,235,235)"/><rect x="480" y="1612" width="4" height="4" fill="rgb(162,162,162)"/><rect x="484" y="1612" width="4" height="4" fill="rgb(227,227,227)"/><rect x="488" y="1612" width="4" height="4" fill="rgb(146,146,146)"/><rect x="504" y="1612" width="4" height="4" fill="rgb(57,57,57)"/><rect x="508" y="1612" width="4" height="4" fill="rgb(186,186,186)"/><rect x="512" y="1612" width="4" height="4" fill="rgb(113,113,113)"/><rect x="516" y="1612" width="4" height="4" fill="rgb(146,146,146)"/><rect x="520" y="1612" width="4" height="4" fill="rgb(65,65,65)"/><rect x="532" y="1612" width="4" height="4" fill="rgb(154,154,154)"/><rect x="384" y="1616" width="4" height="4" fill="rgb(227,227,227)"/><rect x="468" y="1616" width="4" height="4" fill="rgb(198,198,198)"/><rect x="472" y="1616" width="4" height="4" fill="rgb(231,231,231)"/><rect x="476" y="1616" width="4" height="4" fill="rgb(150,150,150)"/><rect x="480" y="1616" width="4" height="4" fill="rgb(198,198,198)"/><rect x="484" y="1616" width="4" height="4" fill="rgb(121,121,121)"/><rect x="488" y="1616" width="4" height="4" fill="rgb(190,190,190)"/><rect x="492" y="1616" width="4" height="4" fill="rgb(202,202,202)"/><rect x="500" y="1616" width="4" height="4" fill="rgb(206,206,206)"/><rect x="504" y="1616" width="4" height="4" fill="rgb(81,81,81)"/><rect x="512" y="1616" width="4" height="4" fill="rgb(40,40,40)"/><rect x="516" y="1616" width="4" height="4" fill="rgb(61,61,61)"/><rect x="520" y="1616" width="4" height="4" fill="rgb(32,32,32)"/><rect x="528" y="1616" width="4" height="4" fill="rgb(4,4,4)"/><rect x="396" y="1620" width="4" height="4" fill="rgb(150,150,150)"/><rect x="408" y="1620" width="4" height="4" fill="rgb(182,182,182)"/><rect x="428" y="1620" width="4" height="4" fill="rgb(190,190,190)"/><rect x="472" y="1620" width="4" height="4" fill="rgb(206,206,206)"/><rect x="476" y="1620" width="4" height="4" fill="rgb(255,255,255)"/><rect x="480" y="1620" width="4" height="4" fill="rgb(93,93,93)"/><rect x="484" y="1620" width="4" height="4" fill="rgb(166,166,166)"/><rect x="488" y="1620" width="4" height="4" fill="rgb(150,150,150)"/><rect x="492" y="1620" width="4" height="4" fill="rgb(97,97,97)"/><rect x="500" y="1620" width="4" height="4" fill="rgb(49,49,49)"/><rect x="504" y="1620" width="4" height="4" fill="rgb(146,146,146)"/><rect x="508" y="1620" width="4" height="4" fill="rgb(61,61,61)"/><rect x="516" y="1620" width="4" height="4" fill="rgb(190,190,190)"/><rect x="520" y="1620" width="4" height="4" fill="rgb(73,73,73)"/><rect x="524" y="1620" width="4" height="4" fill="rgb(53,53,53)"/><rect x="532" y="1620" width="4" height="4" fill="rgb(89,89,89)"/><rect x="392" y="1624" width="4" height="4" fill="rgb(166,166,166)"/><rect x="400" y="1624" width="4" height="4" fill="rgb(130,130,130)"/><rect x="404" y="1624" width="4" height="4" fill="rgb(166,166,166)"/><rect x="412" y="1624" width="4" height="4" fill="rgb(154,154,154)"/><rect x="416" y="1624" width="4" height="4" fill="rgb(158,158,158)"/><rect x="428" y="1624" width="4" height="4" fill="rgb(170,170,170)"/><rect x="464" y="1624" width="4" height="4" fill="rgb(210,210,210)"/><rect x="472" y="1624" width="4" height="4" fill="rgb(219,219,219)"/><rect x="476" y="1624" width="4" height="4" fill="rgb(255,255,255)"/><rect x="480" y="1624" width="4" height="4" fill="rgb(130,130,130)"/><rect x="484" y="1624" width="4" height="4" fill="rgb(206,206,206)"/><rect x="488" y="1624" width="4" height="4" fill="rgb(101,101,101)"/><rect x="496" y="1624" width="4" height="4" fill="rgb(77,77,77)"/><rect x="500" y="1624" width="4" height="4" fill="rgb(24,24,24)"/><rect x="504" y="1624" width="4" height="4" fill="rgb(24,24,24)"/><rect x="512" y="1624" width="4" height="4" fill="rgb(16,16,16)"/><rect x="516" y="1624" width="4" height="4" fill="rgb(198,198,198)"/><rect x="540" y="1624" width="4" height="4" fill="rgb(117,117,117)"/><rect x="348" y="1628" width="4" height="4" fill="rgb(93,93,93)"/><rect x="356" y="1628" width="4" height="4" fill="rgb(73,73,73)"/><rect x="412" y="1628" width="4" height="4" fill="rgb(243,243,243)"/><rect x="424" y="1628" width="4" height="4" fill="rgb(206,206,206)"/><rect x="432" y="1628" width="4" height="4" fill="rgb(227,227,227)"/><rect x="444" y="1628" width="4" height="4" fill="rgb(247,247,247)"/><rect x="448" y="1628" width="4" height="4" fill="rgb(170,170,170)"/><rect x="460" y="1628" width="4" height="4" fill="rgb(247,247,247)"/><rect x="472" y="1628" width="4" height="4" fill="rgb(235,235,235)"/><rect x="476" y="1628" width="4" height="4" fill="rgb(158,158,158)"/><rect x="484" y="1628" width="4" height="4" fill="rgb(109,109,109)"/><rect x="496" y="1628" width="4" height="4" fill="rgb(162,162,162)"/><rect x="500" y="1628" width="4" height="4" fill="rgb(97,97,97)"/><rect x="504" y="1628" width="4" height="4" fill="rgb(166,166,166)"/><rect x="508" y="1628" width="4" height="4" fill="rgb(113,113,113)"/><rect x="512" y="1628" width="4" height="4" fill="rgb(134,134,134)"/><rect x="516" y="1628" width="4" height="4" fill="rgb(69,69,69)"/><rect x="520" y="1628" width="4" height="4" fill="rgb(121,121,121)"/><rect x="524" y="1628" width="4" height="4" fill="rgb(150,150,150)"/><rect x="528" y="1628" width="4" height="4" fill="rgb(97,97,97)"/><rect x="364" y="1632" width="4" height="4" fill="rgb(109,109,109)"/><rect x="392" y="1632" width="4" height="4" fill="rgb(170,170,170)"/><rect x="400" y="1632" width="4" height="4" fill="rgb(194,194,194)"/><rect x="404" y="1632" width="4" height="4" fill="rgb(227,227,227)"/><rect x="420" y="1632" width="4" height="4" fill="rgb(235,235,235)"/><rect x="428" y="1632" width="4" height="4" fill="rgb(130,130,130)"/><rect x="432" y="1632" width="4" height="4" fill="rgb(227,227,227)"/><rect x="472" y="1632" width="4" height="4" fill="rgb(166,166,166)"/><rect x="480" y="1632" width="4" height="4" fill="rgb(125,125,125)"/><rect x="484" y="1632" width="4" height="4" fill="rgb(146,146,146)"/><rect x="488" y="1632" width="4" height="4" fill="rgb(235,235,235)"/><rect x="492" y="1632" width="4" height="4" fill="rgb(198,198,198)"/><rect x="496" y="1632" width="4" height="4" fill="rgb(89,89,89)"/><rect x="500" y="1632" width="4" height="4" fill="rgb(146,146,146)"/><rect x="504" y="1632" width="4" height="4" fill="rgb(190,190,190)"/><rect x="508" y="1632" width="4" height="4" fill="rgb(69,69,69)"/><rect x="520" y="1632" width="4" height="4" fill="rgb(162,162,162)"/><rect x="532" y="1632" width="4" height="4" fill="rgb(210,210,210)"/><rect x="376" y="1636" width="4" height="4" fill="rgb(134,134,134)"/><rect x="380" y="1636" width="4" height="4" fill="rgb(121,121,121)"/><rect x="384" y="1636" width="4" height="4" fill="rgb(166,166,166)"/><rect x="388" y="1636" width="4" height="4" fill="rgb(158,158,158)"/><rect x="404" y="1636" width="4" height="4" fill="rgb(174,174,174)"/><rect x="408" y="1636" width="4" height="4" fill="rgb(186,186,186)"/><rect x="436" y="1636" width="4" height="4" fill="rgb(178,178,178)"/><rect x="448" y="1636" width="4" height="4" fill="rgb(166,166,166)"/><rect x="460" y="1636" width="4" height="4" fill="rgb(125,125,125)"/><rect x="472" y="1636" width="4" height="4" fill="rgb(101,101,101)"/><rect x="480" y="1636" width="4" height="4" fill="rgb(146,146,146)"/><rect x="484" y="1636" width="4" height="4" fill="rgb(215,215,215)"/><rect x="488" y="1636" width="4" height="4" fill="rgb(210,210,210)"/><rect x="496" y="1636" width="4" height="4" fill="rgb(40,40,40)"/><rect x="500" y="1636" width="4" height="4" fill="rgb(69,69,69)"/><rect x="504" y="1636" width="4" height="4" fill="rgb(130,130,130)"/><rect x="508" y="1636" width="4" height="4" fill="rgb(81,81,81)"/><rect x="512" y="1636" width="4" height="4" fill="rgb(97,97,97)"/><rect x="532" y="1636" width="4" height="4" fill="rgb(40,40,40)"/><rect x="340" y="1640" width="4" height="4" fill="rgb(4,4,4)"/><rect x="364" y="1640" width="4" height="4" fill="rgb(20,20,20)"/><rect x="368" y="1640" width="4" height="4" fill="rgb(45,45,45)"/><rect x="388" y="1640" width="4" height="4" fill="rgb(89,89,89)"/><rect x="400" y="1640" width="4" height="4" fill="rgb(105,105,105)"/><rect x="420" y="1640" width="4" height="4" fill="rgb(142,142,142)"/><rect x="424" y="1640" width="4" height="4" fill="rgb(227,227,227)"/><rect x="432" y="1640" width="4" height="4" fill="rgb(255,255,255)"/><rect x="444" y="1640" width="4" height="4" fill="rgb(134,134,134)"/><rect x="456" y="1640" width="4" height="4" fill="rgb(130,130,130)"/><rect x="460" y="1640" width="4" height="4" fill="rgb(194,194,194)"/><rect x="476" y="1640" width="4" height="4" fill="rgb(255,255,255)"/><rect x="480" y="1640" width="4" height="4" fill="rgb(93,93,93)"/><rect x="484" y="1640" width="4" height="4" fill="rgb(206,206,206)"/><rect x="488" y="1640" width="4" height="4" fill="rgb(93,93,93)"/><rect x="492" y="1640" width="4" height="4" fill="rgb(150,150,150)"/><rect x="496" y="1640" width="4" height="4" fill="rgb(109,109,109)"/><rect x="500" y="1640" width="4" height="4" fill="rgb(109,109,109)"/><rect x="504" y="1640" width="4" height="4" fill="rgb(109,109,109)"/><rect x="508" y="1640" width="4" height="4" fill="rgb(121,121,121)"/><rect x="512" y="1640" width="4" height="4" fill="rgb(12,12,12)"/><rect x="516" y="1640" width="4" height="4" fill="rgb(4,4,4)"/><rect x="520" y="1640" width="4" height="4" fill="rgb(182,182,182)"/><rect x="360" y="1644" width="4" height="4" fill="rgb(24,24,24)"/><rect x="364" y="1644" width="4" height="4" fill="rgb(4,4,4)"/><rect x="368" y="1644" width="4" height="4" fill="rgb(4,4,4)"/><rect x="372" y="1644" width="4" height="4" fill="rgb(85,85,85)"/><rect x="380" y="1644" width="4" height="4" fill="rgb(20,20,20)"/><rect x="384" y="1644" width="4" height="4" fill="rgb(121,121,121)"/><rect x="400" y="1644" width="4" height="4" fill="rgb(93,93,93)"/><rect x="404" y="1644" width="4" height="4" fill="rgb(166,166,166)"/><rect x="412" y="1644" width="4" height="4" fill="rgb(158,158,158)"/><rect x="416" y="1644" width="4" height="4" fill="rgb(130,130,130)"/><rect x="420" y="1644" width="4" height="4" fill="rgb(150,150,150)"/><rect x="452" y="1644" width="4" height="4" fill="rgb(190,190,190)"/><rect x="456" y="1644" width="4" height="4" fill="rgb(215,215,215)"/><rect x="460" y="1644" width="4" height="4" fill="rgb(194,194,194)"/><rect x="476" y="1644" width="4" height="4" fill="rgb(53,53,53)"/><rect x="484" y="1644" width="4" height="4" fill="rgb(227,227,227)"/><rect x="492" y="1644" width="4" height="4" fill="rgb(154,154,154)"/><rect x="496" y="1644" width="4" height="4" fill="rgb(190,190,190)"/><rect x="504" y="1644" width="4" height="4" fill="rgb(142,142,142)"/><rect x="508" y="1644" width="4" height="4" fill="rgb(121,121,121)"/><rect x="512" y="1644" width="4" height="4" fill="rgb(45,45,45)"/><rect x="516" y="1644" width="4" height="4" fill="rgb(150,150,150)"/><rect x="520" y="1644" width="4" height="4" fill="rgb(89,89,89)"/><rect x="524" y="1644" width="4" height="4" fill="rgb(146,146,146)"/><rect x="528" y="1644" width="4" height="4" fill="rgb(53,53,53)"/><rect x="360" y="1648" width="4" height="4" fill="rgb(32,32,32)"/><rect x="376" y="1648" width="4" height="4" fill="rgb(16,16,16)"/><rect x="380" y="1648" width="4" height="4" fill="rgb(81,81,81)"/><rect x="384" y="1648" width="4" height="4" fill="rgb(113,113,113)"/><rect x="388" y="1648" width="4" height="4" fill="rgb(36,36,36)"/><rect x="396" y="1648" width="4" height="4" fill="rgb(69,69,69)"/><rect x="408" y="1648" width="4" height="4" fill="rgb(166,166,166)"/><rect x="412" y="1648" width="4" height="4" fill="rgb(162,162,162)"/><rect x="424" y="1648" width="4" height="4" fill="rgb(142,142,142)"/><rect x="432" y="1648" width="4" height="4" fill="rgb(158,158,158)"/><rect x="440" y="1648" width="4" height="4" fill="rgb(162,162,162)"/><rect x="448" y="1648" width="4" height="4" fill="rgb(174,174,174)"/><rect x="452" y="1648" width="4" height="4" fill="rgb(154,154,154)"/><rect x="472" y="1648" width="4" height="4" fill="rgb(186,186,186)"/><rect x="476" y="1648" width="4" height="4" fill="rgb(170,170,170)"/><rect x="480" y="1648" width="4" height="4" fill="rgb(166,166,166)"/><rect x="484" y="1648" width="4" height="4" fill="rgb(223,223,223)"/><rect x="488" y="1648" width="4" height="4" fill="rgb(121,121,121)"/><rect x="492" y="1648" width="4" height="4" fill="rgb(182,182,182)"/><rect x="496" y="1648" width="4" height="4" fill="rgb(178,178,178)"/><rect x="500" y="1648" width="4" height="4" fill="rgb(170,170,170)"/><rect x="504" y="1648" width="4" height="4" fill="rgb(93,93,93)"/><rect x="508" y="1648" width="4" height="4" fill="rgb(121,121,121)"/><rect x="512" y="1648" width="4" height="4" fill="rgb(12,12,12)"/><rect x="516" y="1648" width="4" height="4" fill="rgb(8,8,8)"/><rect x="520" y="1648" width="4" height="4" fill="rgb(20,20,20)"/><rect x="536" y="1648" width="4" height="4" fill="rgb(81,81,81)"/><rect x="356" y="1652" width="4" height="4" fill="rgb(4,4,4)"/><rect x="364" y="1652" width="4" height="4" fill="rgb(4,4,4)"/><rect x="376" y="1652" width="4" height="4" fill="rgb(20,20,20)"/><rect x="388" y="1652" width="4" height="4" fill="rgb(69,69,69)"/><rect x="400" y="1652" width="4" height="4" fill="rgb(20,20,20)"/><rect x="420" y="1652" width="4" height="4" fill="rgb(182,182,182)"/><rect x="424" y="1652" width="4" height="4" fill="rgb(101,101,101)"/><rect x="472" y="1652" width="4" height="4" fill="rgb(210,210,210)"/><rect x="476" y="1652" width="4" height="4" fill="rgb(77,77,77)"/><rect x="480" y="1652" width="4" height="4" fill="rgb(97,97,97)"/><rect x="484" y="1652" width="4" height="4" fill="rgb(101,101,101)"/><rect x="492" y="1652" width="4" height="4" fill="rgb(85,85,85)"/><rect x="496" y="1652" width="4" height="4" fill="rgb(16,16,16)"/><rect x="500" y="1652" width="4" height="4" fill="rgb(61,61,61)"/><rect x="504" y="1652" width="4" height="4" fill="rgb(53,53,53)"/><rect x="508" y="1652" width="4" height="4" fill="rgb(138,138,138)"/><rect x="516" y="1652" width="4" height="4" fill="rgb(130,130,130)"/><rect x="524" y="1652" width="4" height="4" fill="rgb(53,53,53)"/><rect x="528" y="1652" width="4" height="4" fill="rgb(49,49,49)"/><rect x="404" y="1656" width="4" height="4" fill="rgb(117,117,117)"/><rect x="416" y="1656" width="4" height="4" fill="rgb(57,57,57)"/><rect x="420" y="1656" width="4" height="4" fill="rgb(158,158,158)"/><rect x="432" y="1656" width="4" height="4" fill="rgb(162,162,162)"/><rect x="440" y="1656" width="4" height="4" fill="rgb(170,170,170)"/><rect x="460" y="1656" width="4" height="4" fill="rgb(178,178,178)"/><rect x="464" y="1656" width="4" height="4" fill="rgb(81,81,81)"/><rect x="480" y="1656" width="4" height="4" fill="rgb(150,150,150)"/><rect x="488" y="1656" width="4" height="4" fill="rgb(219,219,219)"/><rect x="500" y="1656" width="4" height="4" fill="rgb(69,69,69)"/><rect x="352" y="1660" width="4" height="4" fill="rgb(4,4,4)"/><rect x="364" y="1660" width="4" height="4" fill="rgb(53,53,53)"/><rect x="376" y="1660" width="4" height="4" fill="rgb(4,4,4)"/><rect x="380" y="1660" width="4" height="4" fill="rgb(4,4,4)"/><rect x="396" y="1660" width="4" height="4" fill="rgb(28,28,28)"/><rect x="408" y="1660" width="4" height="4" fill="rgb(85,85,85)"/><rect x="428" y="1660" width="4" height="4" fill="rgb(45,45,45)"/><rect x="444" y="1660" width="4" height="4" fill="rgb(182,182,182)"/><rect x="472" y="1660" width="4" height="4" fill="rgb(146,146,146)"/><rect x="476" y="1660" width="4" height="4" fill="rgb(89,89,89)"/><rect x="484" y="1660" width="4" height="4" fill="rgb(146,146,146)"/><rect x="496" y="1660" width="4" height="4" fill="rgb(158,158,158)"/><rect x="504" y="1660" width="4" height="4" fill="rgb(16,16,16)"/><rect x="364" y="1664" width="4" height="4" fill="rgb(8,8,8)"/><rect x="372" y="1664" width="4" height="4" fill="rgb(36,36,36)"/><rect x="380" y="1664" width="4" height="4" fill="rgb(36,36,36)"/><rect x="404" y="1664" width="4" height="4" fill="rgb(69,69,69)"/><rect x="424" y="1664" width="4" height="4" fill="rgb(69,69,69)"/><rect x="428" y="1664" width="4" height="4" fill="rgb(125,125,125)"/><rect x="440" y="1664" width="4" height="4" fill="rgb(49,49,49)"/><rect x="444" y="1664" width="4" height="4" fill="rgb(89,89,89)"/><rect x="452" y="1664" width="4" height="4" fill="rgb(125,125,125)"/><rect x="468" y="1664" width="4" height="4" fill="rgb(65,65,65)"/><rect x="476" y="1664" width="4" height="4" fill="rgb(166,166,166)"/><rect x="488" y="1664" width="4" height="4" fill="rgb(125,125,125)"/><rect x="500" y="1664" width="4" height="4" fill="rgb(162,162,162)"/><rect x="524" y="1664" width="4" height="4" fill="rgb(65,65,65)"/><rect x="380" y="1668" width="4" height="4" fill="rgb(4,4,4)"/><rect x="388" y="1668" width="4" height="4" fill="rgb(16,16,16)"/><rect x="392" y="1668" width="4" height="4" fill="rgb(4,4,4)"/><rect x="408" y="1668" width="4" height="4" fill="rgb(4,4,4)"/><rect x="420" y="1668" width="4" height="4" fill="rgb(81,81,81)"/><rect x="452" y="1668" width="4" height="4" fill="rgb(45,45,45)"/><rect x="460" y="1668" width="4" height="4" fill="rgb(53,53,53)"/><rect x="464" y="1668" width="4" height="4" fill="rgb(32,32,32)"/><rect x="508" y="1668" width="4" height="4" fill="rgb(69,69,69)"/><rect x="384" y="1672" width="4" height="4" fill="rgb(4,4,4)"/><rect x="464" y="1672" width="4" height="4" fill="rgb(113,113,113)"/><rect x="420" y="1680" width="4" height="4" fill="rgb(4,4,4)"/><rect x="396" y="1684" width="4" height="4" fill="rgb(40,40,40)"/><rect x="484" y="1544" width="4" height="4" fill="rgb(255,255,255)"/><rect x="488" y="1544" width="4" height="4" fill="rgb(28,28,28)"/><rect x="488" y="1548" width="4" height="4" fill="rgb(255,255,255)"/><rect x="492" y="1548" width="4" height="4" fill="rgb(89,89,89)"/><rect x="484" y="1548" width="4" height="4" fill="rgb(219,219,219)"/><rect x="492" y="1552" width="4" height="4" fill="rgb(194,194,194)"/><rect x="496" y="1552" width="4" height="4" fill="rgb(28,28,28)"/><rect x="492" y="1556" width="4" height="4" fill="rgb(255,255,255)"/><rect x="496" y="1556" width="4" height="4" fill="rgb(89,89,89)"/><rect x="488" y="1556" width="4" height="4" fill="rgb(219,219,219)"/><rect x="496" y="1560" width="4" height="4" fill="rgb(255,255,255)"/><rect x="500" y="1560" width="4" height="4" fill="rgb(28,28,28)"/><rect x="500" y="1564" width="4" height="4" fill="rgb(194,194,194)"/><rect x="504" y="1564" width="4" height="4" fill="rgb(89,89,89)"/><rect x="496" y="1564" width="4" height="4" fill="rgb(219,219,219)"/><rect x="504" y="1572" width="4" height="4" fill="rgb(255,255,255)"/><rect x="508" y="1572" width="4" height="4" fill="rgb(28,28,28)"/><rect x="508" y="1576" width="4" height="4" fill="rgb(255,255,255)"/><rect x="512" y="1576" width="4" height="4" fill="rgb(89,89,89)"/><rect x="504" y="1576" width="4" height="4" fill="rgb(219,219,219)"/><rect x="508" y="1580" width="4" height="4" fill="rgb(194,194,194)"/><rect x="512" y="1580" width="4" height="4" fill="rgb(28,28,28)"/><rect x="512" y="1584" width="4" height="4" fill="rgb(255,255,255)"/><rect x="516" y="1584" width="4" height="4" fill="rgb(89,89,89)"/><rect x="508" y="1584" width="4" height="4" fill="rgb(219,219,219)"/><rect x="516" y="1588" width="4" height="4" fill="rgb(255,255,255)"/><rect x="520" y="1588" width="4" height="4" fill="rgb(28,28,28)"/><rect x="520" y="1592" width="4" height="4" fill="rgb(194,194,194)"/><rect x="524" y="1592" width="4" height="4" fill="rgb(89,89,89)"/><rect x="516" y="1592" width="4" height="4" fill="rgb(219,219,219)"/><rect x="524" y="1596" width="4" height="4" fill="rgb(255,255,255)"/><rect x="528" y="1596" width="4" height="4" fill="rgb(28,28,28)"/><rect x="524" y="1600" width="4" height="4" fill="rgb(255,255,255)"/><rect x="528" y="1600" width="4" height="4" fill="rgb(89,89,89)"/><rect x="520" y="1600" width="4" height="4" fill="rgb(219,219,219)"/><rect x="528" y="1608" width="4" height="4" fill="rgb(194,194,194)"/><rect x="532" y="1608" width="4" height="4" fill="rgb(28,28,28)"/><rect x="532" y="1612" width="4" height="4" fill="rgb(255,255,255)"/><rect x="536" y="1612" width="4" height="4" fill="rgb(89,89,89)"/><rect x="528" y="1612" width="4" height="4" fill="rgb(219,219,219)"/><rect x="536" y="1616" width="4" height="4" fill="rgb(255,255,255)"/><rect x="540" y="1616" width="4" height="4" fill="rgb(28,28,28)"/><rect x="540" y="1620" width="4" height="4" fill="rgb(194,194,194)"/><rect x="544" y="1620" width="4" height="4" fill="rgb(89,89,89)"/><rect x="536" y="1620" width="4" height="4" fill="rgb(219,219,219)"/>

</g></g>
<g stroke="#262626" fill="none">
<rect x="159.5" y="1368.6" width="1274.5" height="467.9000000000001" stroke-width="1.5"/>
<path d="M198.1,1368.6v11M198.1,1836.5v-11M404.0,1368.6v11M404.0,1836.5v-11M609.8,1368.6v11M609.8,1836.5v-11M815.7,1368.6v11M815.7,1836.5v-11M1021.5,1368.6v11M1021.5,1836.5v-11M1227.3,1368.6v11M1227.3,1836.5v-11M1433.2,1368.6v11M1433.2,1836.5v-11M159.5,1390.0h12M1434.0,1390.0h-12M159.5,1600.8h12M1434.0,1600.8h-12M159.5,1815.4h12M1434.0,1815.4h-12" stroke-width="1.6"/>
</g>
<line x1="158.4" y1="1600.8" x2="1434.0" y2="1600.8" stroke="#fff" stroke-width="7" stroke-dasharray="29.6 22.8"/>
<rect x="1498.6" y="1368.4" width="36" height="469" fill="url(#cbar)" stroke="#262626" stroke-width="1.3"/>
<path d="M1534.6,1472.9h-5M1534.6,1577.0h-5M1534.6,1681.3h-5M1534.6,1785.7h-5" stroke="#262626" stroke-width="1.4"/>
<g font-family="Liberation Sans, Arial, sans-serif" font-weight="bold" fill="#000">
<g font-size="55" text-anchor="end">
<text x="149" y="1411.5">5</text><text x="149" y="1620.5">0</text><text x="149" y="1834">-5</text>
</g><g font-size="55" text-anchor="middle">
<text x="198.1" y="1905.5">0</text>
<text x="404.0" y="1905.5">5</text>
<text x="609.8" y="1905.5">10</text>
<text x="815.7" y="1905.5">15</text>
<text x="1021.5" y="1905.5">20</text>
<text x="1227.3" y="1905.5">25</text>
<text x="1433.2" y="1905.5">30</text>
</g><g font-size="48">
<text x="1548" y="1388.7" textLength="64.3" lengthAdjust="spacingAndGlyphs">0.5</text>
<text x="1544.5" y="1491.4" textLength="64.5" lengthAdjust="spacingAndGlyphs">0.4</text>
<text x="1544.8" y="1597.5" textLength="65.3" lengthAdjust="spacingAndGlyphs">0.3</text>
<text x="1544.8" y="1701.8" textLength="64.5" lengthAdjust="spacingAndGlyphs">0.2</text>
<text x="1544.8" y="1806.2" textLength="60.3" lengthAdjust="spacingAndGlyphs">0.1</text>
</g>
<text x="765" y="1991.3" font-size="53" textLength="145" lengthAdjust="spacingAndGlyphs">x(µm)</text>
<text transform="translate(76.6,1684) rotate(-90)" x="0" y="0" font-size="53" textLength="152" lengthAdjust="spacingAndGlyphs">z(µm)</text>
</g>
<text x="789" y="2082.8" font-family="Liberation Serif, Times New Roman, serif" font-size="61" letter-spacing="-0.8">(<tspan font-weight="bold">b</tspan>)</text></svg></body></html>
